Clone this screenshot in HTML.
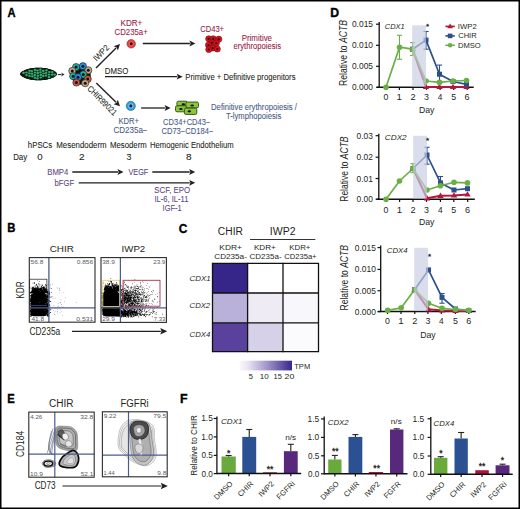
<!DOCTYPE html>
<html><head><meta charset="utf-8"><style>
html,body{margin:0;padding:0;background:#fff;}
svg{display:block;}
text{font-family:"Liberation Sans", sans-serif;}
</style></head><body>
<svg width="520" height="509" viewBox="0 0 520 509">
<rect x="0" y="0" width="520" height="509" fill="#fff"/>
<rect x="0.75" y="0.75" width="518.50" height="507.50" fill="none" stroke="#000" stroke-width="1.5"/>
<text x="7.52" y="17.00" font-size="12" fill="#000" stroke="#000" stroke-width="0.35" font-weight="bold" textLength="8.07" lengthAdjust="spacingAndGlyphs">A</text>
<text x="7.34" y="232.30" font-size="12" fill="#000" stroke="#000" stroke-width="0.35" font-weight="bold" textLength="8.17" lengthAdjust="spacingAndGlyphs">B</text>
<text x="178.71" y="232.60" font-size="12" fill="#000" stroke="#000" stroke-width="0.35" font-weight="bold" textLength="8.62" lengthAdjust="spacingAndGlyphs">C</text>
<text x="330.28" y="17.00" font-size="12" fill="#000" stroke="#000" stroke-width="0.35" font-weight="bold" textLength="8.83" lengthAdjust="spacingAndGlyphs">D</text>
<text x="7.35" y="402.90" font-size="12" fill="#000" stroke="#000" stroke-width="0.35" font-weight="bold" textLength="7.49" lengthAdjust="spacingAndGlyphs">E</text>
<text x="179.97" y="402.90" font-size="12" fill="#000" stroke="#000" stroke-width="0.35" font-weight="bold" textLength="7.59" lengthAdjust="spacingAndGlyphs">F</text>
<g>
<circle cx="21.50" cy="73.85" r="1.30" fill="#0f1d14" stroke="none" stroke-width="1"/>
<circle cx="21.50" cy="74.15" r="1.30" fill="#0f1d14" stroke="none" stroke-width="1"/>
<circle cx="22.00" cy="73.33" r="1.30" fill="#0f1d14" stroke="none" stroke-width="1"/>
<circle cx="22.00" cy="74.67" r="1.30" fill="#0f1d14" stroke="none" stroke-width="1"/>
<circle cx="22.50" cy="72.91" r="1.30" fill="#0f1d14" stroke="none" stroke-width="1"/>
<circle cx="22.50" cy="75.09" r="1.30" fill="#0f1d14" stroke="none" stroke-width="1"/>
<circle cx="23.00" cy="72.56" r="1.30" fill="#0f1d14" stroke="none" stroke-width="1"/>
<circle cx="23.00" cy="75.44" r="1.30" fill="#0f1d14" stroke="none" stroke-width="1"/>
<circle cx="23.50" cy="72.25" r="1.30" fill="#0f1d14" stroke="none" stroke-width="1"/>
<circle cx="23.50" cy="75.75" r="1.30" fill="#0f1d14" stroke="none" stroke-width="1"/>
<circle cx="24.00" cy="71.97" r="1.30" fill="#0f1d14" stroke="none" stroke-width="1"/>
<circle cx="24.00" cy="76.03" r="1.30" fill="#0f1d14" stroke="none" stroke-width="1"/>
<circle cx="24.50" cy="71.71" r="1.30" fill="#0f1d14" stroke="none" stroke-width="1"/>
<circle cx="24.50" cy="76.29" r="1.30" fill="#0f1d14" stroke="none" stroke-width="1"/>
<circle cx="25.00" cy="71.48" r="1.30" fill="#0f1d14" stroke="none" stroke-width="1"/>
<circle cx="25.00" cy="76.52" r="1.30" fill="#0f1d14" stroke="none" stroke-width="1"/>
<circle cx="25.50" cy="71.27" r="1.30" fill="#0f1d14" stroke="none" stroke-width="1"/>
<circle cx="25.50" cy="76.73" r="1.30" fill="#0f1d14" stroke="none" stroke-width="1"/>
<circle cx="26.00" cy="71.07" r="1.30" fill="#0f1d14" stroke="none" stroke-width="1"/>
<circle cx="26.00" cy="76.93" r="1.30" fill="#0f1d14" stroke="none" stroke-width="1"/>
<circle cx="26.50" cy="70.88" r="1.30" fill="#0f1d14" stroke="none" stroke-width="1"/>
<circle cx="26.50" cy="77.12" r="1.30" fill="#0f1d14" stroke="none" stroke-width="1"/>
<circle cx="27.00" cy="70.71" r="1.30" fill="#0f1d14" stroke="none" stroke-width="1"/>
<circle cx="27.00" cy="77.29" r="1.30" fill="#0f1d14" stroke="none" stroke-width="1"/>
<circle cx="27.50" cy="70.55" r="1.30" fill="#0f1d14" stroke="none" stroke-width="1"/>
<circle cx="27.50" cy="77.45" r="1.30" fill="#0f1d14" stroke="none" stroke-width="1"/>
<circle cx="28.00" cy="70.40" r="1.30" fill="#0f1d14" stroke="none" stroke-width="1"/>
<circle cx="28.00" cy="77.60" r="1.30" fill="#0f1d14" stroke="none" stroke-width="1"/>
<circle cx="28.50" cy="70.26" r="1.30" fill="#0f1d14" stroke="none" stroke-width="1"/>
<circle cx="28.50" cy="77.74" r="1.30" fill="#0f1d14" stroke="none" stroke-width="1"/>
<circle cx="29.00" cy="70.13" r="1.30" fill="#0f1d14" stroke="none" stroke-width="1"/>
<circle cx="29.00" cy="77.87" r="1.30" fill="#0f1d14" stroke="none" stroke-width="1"/>
<circle cx="29.50" cy="70.00" r="1.30" fill="#0f1d14" stroke="none" stroke-width="1"/>
<circle cx="29.50" cy="78.00" r="1.30" fill="#0f1d14" stroke="none" stroke-width="1"/>
<circle cx="30.00" cy="69.89" r="1.30" fill="#0f1d14" stroke="none" stroke-width="1"/>
<circle cx="30.00" cy="78.11" r="1.30" fill="#0f1d14" stroke="none" stroke-width="1"/>
<circle cx="30.50" cy="69.79" r="1.30" fill="#0f1d14" stroke="none" stroke-width="1"/>
<circle cx="30.50" cy="78.21" r="1.30" fill="#0f1d14" stroke="none" stroke-width="1"/>
<circle cx="31.00" cy="69.69" r="1.30" fill="#0f1d14" stroke="none" stroke-width="1"/>
<circle cx="31.00" cy="78.31" r="1.30" fill="#0f1d14" stroke="none" stroke-width="1"/>
<circle cx="31.50" cy="69.60" r="1.30" fill="#0f1d14" stroke="none" stroke-width="1"/>
<circle cx="31.50" cy="78.40" r="1.30" fill="#0f1d14" stroke="none" stroke-width="1"/>
<circle cx="32.00" cy="69.51" r="1.30" fill="#0f1d14" stroke="none" stroke-width="1"/>
<circle cx="32.00" cy="78.49" r="1.30" fill="#0f1d14" stroke="none" stroke-width="1"/>
<circle cx="32.50" cy="69.44" r="1.30" fill="#0f1d14" stroke="none" stroke-width="1"/>
<circle cx="32.50" cy="78.56" r="1.30" fill="#0f1d14" stroke="none" stroke-width="1"/>
<circle cx="33.00" cy="69.37" r="1.30" fill="#0f1d14" stroke="none" stroke-width="1"/>
<circle cx="33.00" cy="78.63" r="1.30" fill="#0f1d14" stroke="none" stroke-width="1"/>
<circle cx="33.50" cy="69.30" r="1.30" fill="#0f1d14" stroke="none" stroke-width="1"/>
<circle cx="33.50" cy="78.70" r="1.30" fill="#0f1d14" stroke="none" stroke-width="1"/>
<circle cx="34.00" cy="69.25" r="1.30" fill="#0f1d14" stroke="none" stroke-width="1"/>
<circle cx="34.00" cy="78.75" r="1.30" fill="#0f1d14" stroke="none" stroke-width="1"/>
<circle cx="34.50" cy="69.19" r="1.30" fill="#0f1d14" stroke="none" stroke-width="1"/>
<circle cx="34.50" cy="78.81" r="1.30" fill="#0f1d14" stroke="none" stroke-width="1"/>
<circle cx="35.00" cy="69.15" r="1.30" fill="#0f1d14" stroke="none" stroke-width="1"/>
<circle cx="35.00" cy="78.85" r="1.30" fill="#0f1d14" stroke="none" stroke-width="1"/>
<circle cx="35.50" cy="69.11" r="1.30" fill="#0f1d14" stroke="none" stroke-width="1"/>
<circle cx="35.50" cy="78.89" r="1.30" fill="#0f1d14" stroke="none" stroke-width="1"/>
<circle cx="36.00" cy="69.08" r="1.30" fill="#0f1d14" stroke="none" stroke-width="1"/>
<circle cx="36.00" cy="78.92" r="1.30" fill="#0f1d14" stroke="none" stroke-width="1"/>
<circle cx="36.50" cy="69.05" r="1.30" fill="#0f1d14" stroke="none" stroke-width="1"/>
<circle cx="36.50" cy="78.95" r="1.30" fill="#0f1d14" stroke="none" stroke-width="1"/>
<circle cx="37.00" cy="69.03" r="1.30" fill="#0f1d14" stroke="none" stroke-width="1"/>
<circle cx="37.00" cy="78.97" r="1.30" fill="#0f1d14" stroke="none" stroke-width="1"/>
<circle cx="37.50" cy="69.01" r="1.30" fill="#0f1d14" stroke="none" stroke-width="1"/>
<circle cx="37.50" cy="78.99" r="1.30" fill="#0f1d14" stroke="none" stroke-width="1"/>
<circle cx="38.00" cy="69.00" r="1.30" fill="#0f1d14" stroke="none" stroke-width="1"/>
<circle cx="38.00" cy="79.00" r="1.30" fill="#0f1d14" stroke="none" stroke-width="1"/>
<circle cx="38.50" cy="69.00" r="1.30" fill="#0f1d14" stroke="none" stroke-width="1"/>
<circle cx="38.50" cy="79.00" r="1.30" fill="#0f1d14" stroke="none" stroke-width="1"/>
<circle cx="39.00" cy="69.00" r="1.30" fill="#0f1d14" stroke="none" stroke-width="1"/>
<circle cx="39.00" cy="79.00" r="1.30" fill="#0f1d14" stroke="none" stroke-width="1"/>
<circle cx="39.50" cy="69.01" r="1.30" fill="#0f1d14" stroke="none" stroke-width="1"/>
<circle cx="39.50" cy="78.99" r="1.30" fill="#0f1d14" stroke="none" stroke-width="1"/>
<circle cx="40.00" cy="69.02" r="1.30" fill="#0f1d14" stroke="none" stroke-width="1"/>
<circle cx="40.00" cy="78.98" r="1.30" fill="#0f1d14" stroke="none" stroke-width="1"/>
<circle cx="40.50" cy="69.04" r="1.30" fill="#0f1d14" stroke="none" stroke-width="1"/>
<circle cx="40.50" cy="78.96" r="1.30" fill="#0f1d14" stroke="none" stroke-width="1"/>
<circle cx="41.00" cy="69.07" r="1.30" fill="#0f1d14" stroke="none" stroke-width="1"/>
<circle cx="41.00" cy="78.93" r="1.30" fill="#0f1d14" stroke="none" stroke-width="1"/>
<circle cx="41.50" cy="69.10" r="1.30" fill="#0f1d14" stroke="none" stroke-width="1"/>
<circle cx="41.50" cy="78.90" r="1.30" fill="#0f1d14" stroke="none" stroke-width="1"/>
<circle cx="42.00" cy="69.13" r="1.30" fill="#0f1d14" stroke="none" stroke-width="1"/>
<circle cx="42.00" cy="78.87" r="1.30" fill="#0f1d14" stroke="none" stroke-width="1"/>
<circle cx="42.50" cy="69.18" r="1.30" fill="#0f1d14" stroke="none" stroke-width="1"/>
<circle cx="42.50" cy="78.82" r="1.30" fill="#0f1d14" stroke="none" stroke-width="1"/>
<circle cx="43.00" cy="69.22" r="1.30" fill="#0f1d14" stroke="none" stroke-width="1"/>
<circle cx="43.00" cy="78.78" r="1.30" fill="#0f1d14" stroke="none" stroke-width="1"/>
<circle cx="43.50" cy="69.28" r="1.30" fill="#0f1d14" stroke="none" stroke-width="1"/>
<circle cx="43.50" cy="78.72" r="1.30" fill="#0f1d14" stroke="none" stroke-width="1"/>
<circle cx="44.00" cy="69.34" r="1.30" fill="#0f1d14" stroke="none" stroke-width="1"/>
<circle cx="44.00" cy="78.66" r="1.30" fill="#0f1d14" stroke="none" stroke-width="1"/>
<circle cx="44.50" cy="69.41" r="1.30" fill="#0f1d14" stroke="none" stroke-width="1"/>
<circle cx="44.50" cy="78.59" r="1.30" fill="#0f1d14" stroke="none" stroke-width="1"/>
<circle cx="45.00" cy="69.48" r="1.30" fill="#0f1d14" stroke="none" stroke-width="1"/>
<circle cx="45.00" cy="78.52" r="1.30" fill="#0f1d14" stroke="none" stroke-width="1"/>
<circle cx="45.50" cy="69.56" r="1.30" fill="#0f1d14" stroke="none" stroke-width="1"/>
<circle cx="45.50" cy="78.44" r="1.30" fill="#0f1d14" stroke="none" stroke-width="1"/>
<circle cx="46.00" cy="69.65" r="1.30" fill="#0f1d14" stroke="none" stroke-width="1"/>
<circle cx="46.00" cy="78.35" r="1.30" fill="#0f1d14" stroke="none" stroke-width="1"/>
<circle cx="46.50" cy="69.75" r="1.30" fill="#0f1d14" stroke="none" stroke-width="1"/>
<circle cx="46.50" cy="78.25" r="1.30" fill="#0f1d14" stroke="none" stroke-width="1"/>
<circle cx="47.00" cy="69.85" r="1.30" fill="#0f1d14" stroke="none" stroke-width="1"/>
<circle cx="47.00" cy="78.15" r="1.30" fill="#0f1d14" stroke="none" stroke-width="1"/>
<circle cx="47.50" cy="69.96" r="1.30" fill="#0f1d14" stroke="none" stroke-width="1"/>
<circle cx="47.50" cy="78.04" r="1.30" fill="#0f1d14" stroke="none" stroke-width="1"/>
<circle cx="48.00" cy="70.08" r="1.30" fill="#0f1d14" stroke="none" stroke-width="1"/>
<circle cx="48.00" cy="77.92" r="1.30" fill="#0f1d14" stroke="none" stroke-width="1"/>
<circle cx="48.50" cy="70.20" r="1.30" fill="#0f1d14" stroke="none" stroke-width="1"/>
<circle cx="48.50" cy="77.80" r="1.30" fill="#0f1d14" stroke="none" stroke-width="1"/>
<circle cx="49.00" cy="70.34" r="1.30" fill="#0f1d14" stroke="none" stroke-width="1"/>
<circle cx="49.00" cy="77.66" r="1.30" fill="#0f1d14" stroke="none" stroke-width="1"/>
<circle cx="49.50" cy="70.49" r="1.30" fill="#0f1d14" stroke="none" stroke-width="1"/>
<circle cx="49.50" cy="77.51" r="1.30" fill="#0f1d14" stroke="none" stroke-width="1"/>
<circle cx="50.00" cy="70.64" r="1.30" fill="#0f1d14" stroke="none" stroke-width="1"/>
<circle cx="50.00" cy="77.36" r="1.30" fill="#0f1d14" stroke="none" stroke-width="1"/>
<circle cx="50.50" cy="70.81" r="1.30" fill="#0f1d14" stroke="none" stroke-width="1"/>
<circle cx="50.50" cy="77.19" r="1.30" fill="#0f1d14" stroke="none" stroke-width="1"/>
<circle cx="51.00" cy="70.99" r="1.30" fill="#0f1d14" stroke="none" stroke-width="1"/>
<circle cx="51.00" cy="77.01" r="1.30" fill="#0f1d14" stroke="none" stroke-width="1"/>
<circle cx="51.50" cy="71.18" r="1.30" fill="#0f1d14" stroke="none" stroke-width="1"/>
<circle cx="51.50" cy="76.82" r="1.30" fill="#0f1d14" stroke="none" stroke-width="1"/>
<circle cx="52.00" cy="71.39" r="1.30" fill="#0f1d14" stroke="none" stroke-width="1"/>
<circle cx="52.00" cy="76.61" r="1.30" fill="#0f1d14" stroke="none" stroke-width="1"/>
<circle cx="52.50" cy="71.62" r="1.30" fill="#0f1d14" stroke="none" stroke-width="1"/>
<circle cx="52.50" cy="76.38" r="1.30" fill="#0f1d14" stroke="none" stroke-width="1"/>
<circle cx="53.00" cy="71.86" r="1.30" fill="#0f1d14" stroke="none" stroke-width="1"/>
<circle cx="53.00" cy="76.14" r="1.30" fill="#0f1d14" stroke="none" stroke-width="1"/>
<circle cx="53.50" cy="72.13" r="1.30" fill="#0f1d14" stroke="none" stroke-width="1"/>
<circle cx="53.50" cy="75.87" r="1.30" fill="#0f1d14" stroke="none" stroke-width="1"/>
<circle cx="54.00" cy="72.43" r="1.30" fill="#0f1d14" stroke="none" stroke-width="1"/>
<circle cx="54.00" cy="75.57" r="1.30" fill="#0f1d14" stroke="none" stroke-width="1"/>
<circle cx="54.50" cy="72.76" r="1.30" fill="#0f1d14" stroke="none" stroke-width="1"/>
<circle cx="54.50" cy="75.24" r="1.30" fill="#0f1d14" stroke="none" stroke-width="1"/>
<circle cx="55.00" cy="73.15" r="1.30" fill="#0f1d14" stroke="none" stroke-width="1"/>
<circle cx="55.00" cy="74.85" r="1.30" fill="#0f1d14" stroke="none" stroke-width="1"/>
<circle cx="55.50" cy="73.62" r="1.30" fill="#0f1d14" stroke="none" stroke-width="1"/>
<circle cx="55.50" cy="74.38" r="1.30" fill="#0f1d14" stroke="none" stroke-width="1"/>
<path d="M21,74 C24,70 30,69 35,68.2 C40,67.6 46,68 50,70 C53,71 56,72.5 56.3,74 C56,75.5 53,77.5 49,78.5 C44,80 36,80.2 31,79.3 C26,78.5 22,77 21,74 Z" fill="#0f1d14"/>
<ellipse cx="23.6" cy="72.9" rx="1.35" ry="1.1" fill="#33b070"/>
<ellipse cx="26.5" cy="72.5" rx="1.35" ry="1.1" fill="#33b070"/>
<ellipse cx="26.5" cy="75.1" rx="1.35" ry="1.1" fill="#33b070"/>
<ellipse cx="29.5" cy="70.8" rx="1.35" ry="1.1" fill="#33b070"/>
<ellipse cx="29.3" cy="73.4" rx="1.35" ry="1.1" fill="#33b070"/>
<ellipse cx="29.5" cy="76.0" rx="1.35" ry="1.1" fill="#33b070"/>
<ellipse cx="31.8" cy="71.1" rx="1.35" ry="1.1" fill="#33b070"/>
<ellipse cx="32.0" cy="73.7" rx="1.35" ry="1.1" fill="#33b070"/>
<ellipse cx="32.3" cy="76.3" rx="1.35" ry="1.1" fill="#33b070"/>
<ellipse cx="35.0" cy="69.9" rx="1.35" ry="1.1" fill="#33b070"/>
<ellipse cx="35.1" cy="72.5" rx="1.35" ry="1.1" fill="#33b070"/>
<ellipse cx="34.7" cy="75.1" rx="1.35" ry="1.1" fill="#33b070"/>
<ellipse cx="34.9" cy="77.7" rx="1.35" ry="1.1" fill="#33b070"/>
<ellipse cx="37.6" cy="70.6" rx="1.35" ry="1.1" fill="#33b070"/>
<ellipse cx="37.8" cy="73.2" rx="1.35" ry="1.1" fill="#33b070"/>
<ellipse cx="37.8" cy="75.8" rx="1.35" ry="1.1" fill="#33b070"/>
<ellipse cx="37.5" cy="78.4" rx="1.35" ry="1.1" fill="#33b070"/>
<ellipse cx="40.4" cy="69.7" rx="1.35" ry="1.1" fill="#33b070"/>
<ellipse cx="40.5" cy="72.3" rx="1.35" ry="1.1" fill="#33b070"/>
<ellipse cx="40.8" cy="74.9" rx="1.35" ry="1.1" fill="#33b070"/>
<ellipse cx="40.8" cy="77.5" rx="1.35" ry="1.1" fill="#33b070"/>
<ellipse cx="43.2" cy="70.9" rx="1.35" ry="1.1" fill="#33b070"/>
<ellipse cx="43.6" cy="73.5" rx="1.35" ry="1.1" fill="#33b070"/>
<ellipse cx="43.2" cy="76.1" rx="1.35" ry="1.1" fill="#33b070"/>
<ellipse cx="46.4" cy="70.4" rx="1.35" ry="1.1" fill="#33b070"/>
<ellipse cx="46.1" cy="73.0" rx="1.35" ry="1.1" fill="#33b070"/>
<ellipse cx="46.0" cy="75.6" rx="1.35" ry="1.1" fill="#33b070"/>
<ellipse cx="49.4" cy="72.0" rx="1.35" ry="1.1" fill="#33b070"/>
<ellipse cx="49.0" cy="74.6" rx="1.35" ry="1.1" fill="#33b070"/>
<ellipse cx="49.0" cy="77.2" rx="1.35" ry="1.1" fill="#33b070"/>
<ellipse cx="52.3" cy="72.1" rx="1.35" ry="1.1" fill="#33b070"/>
<ellipse cx="52.2" cy="74.7" rx="1.35" ry="1.1" fill="#33b070"/>
<ellipse cx="54.7" cy="74.6" rx="1.35" ry="1.1" fill="#33b070"/>
</g>
<line x1="57.80" y1="74.60" x2="61.50" y2="74.60" stroke="#231f20" stroke-width="1.0"/>
<path d="M64.50,74.60 L61.00,76.60 L62.20,74.60 L61.00,72.60 Z" fill="#231f20"/>
<circle cx="81.00" cy="75.00" r="9.80" fill="#111" stroke="none" stroke-width="1"/>
<circle cx="76.10" cy="67.10" r="3.60" fill="#19b3a6" stroke="#1a1a1a" stroke-width="0.6"/>
<circle cx="76.10" cy="67.10" r="1.50" fill="#0c1426" stroke="none" stroke-width="1"/>
<circle cx="82.90" cy="66.20" r="3.60" fill="#2a8fd8" stroke="#1a1a1a" stroke-width="0.6"/>
<circle cx="82.90" cy="66.20" r="1.50" fill="#0c1426" stroke="none" stroke-width="1"/>
<circle cx="88.30" cy="70.30" r="3.60" fill="#c9a27c" stroke="#1a1a1a" stroke-width="0.6"/>
<circle cx="88.30" cy="70.30" r="1.50" fill="#0c1426" stroke="none" stroke-width="1"/>
<circle cx="72.30" cy="70.90" r="3.60" fill="#c8a07a" stroke="#1a1a1a" stroke-width="0.6"/>
<circle cx="72.30" cy="70.90" r="1.50" fill="#0c1426" stroke="none" stroke-width="1"/>
<circle cx="73.20" cy="76.20" r="3.60" fill="#19b3a6" stroke="#1a1a1a" stroke-width="0.6"/>
<circle cx="73.20" cy="76.20" r="1.50" fill="#0c1426" stroke="none" stroke-width="1"/>
<circle cx="83.30" cy="74.40" r="3.60" fill="#1fb59a" stroke="#1a1a1a" stroke-width="0.6"/>
<circle cx="83.30" cy="74.40" r="1.50" fill="#0c1426" stroke="none" stroke-width="1"/>
<circle cx="78.00" cy="77.20" r="3.60" fill="#2a8fd8" stroke="#1a1a1a" stroke-width="0.6"/>
<circle cx="78.00" cy="77.20" r="1.50" fill="#0c1426" stroke="none" stroke-width="1"/>
<circle cx="87.70" cy="79.10" r="3.60" fill="#d2573a" stroke="#1a1a1a" stroke-width="0.6"/>
<circle cx="87.70" cy="79.10" r="1.50" fill="#0c1426" stroke="none" stroke-width="1"/>
<circle cx="76.40" cy="82.50" r="3.60" fill="#d2573a" stroke="#1a1a1a" stroke-width="0.6"/>
<circle cx="76.40" cy="82.50" r="1.50" fill="#0c1426" stroke="none" stroke-width="1"/>
<circle cx="85.20" cy="83.20" r="3.60" fill="#c9a27c" stroke="#1a1a1a" stroke-width="0.6"/>
<circle cx="85.20" cy="83.20" r="1.50" fill="#0c1426" stroke="none" stroke-width="1"/>
<circle cx="131.20" cy="43.80" r="4.30" fill="#e2433f" stroke="#7a1a1a" stroke-width="0.5"/>
<circle cx="131.20" cy="43.80" r="2.40" fill="#f06a5e" stroke="none" stroke-width="1"/>
<circle cx="131.20" cy="43.80" r="1.50" fill="#3a0808" stroke="none" stroke-width="1"/>
<circle cx="130.80" cy="105.90" r="4.60" fill="#2f9fd6" stroke="#1b4f7a" stroke-width="0.5"/>
<circle cx="130.80" cy="105.90" r="2.60" fill="#7cc6ea" stroke="none" stroke-width="1"/>
<circle cx="130.80" cy="105.90" r="1.60" fill="#16285a" stroke="none" stroke-width="1"/>
<line x1="96.00" y1="68.00" x2="116.10" y2="47.98" stroke="#231f20" stroke-width="1.35"/>
<path d="M120.00,44.10 L117.87,50.46 L116.60,47.49 L113.63,46.21 Z" fill="#231f20"/>
<line x1="96.30" y1="83.00" x2="116.07" y2="102.35" stroke="#231f20" stroke-width="1.35"/>
<path d="M120.00,106.20 L113.61,104.15 L116.57,102.84 L117.81,99.86 Z" fill="#231f20"/>
<line x1="105.00" y1="76.70" x2="177.20" y2="76.70" stroke="#231f20" stroke-width="1.3"/>
<path d="M182.70,76.70 L176.70,79.60 L177.90,76.70 L176.70,73.80 Z" fill="#231f20"/>
<line x1="142.80" y1="43.50" x2="189.90" y2="43.50" stroke="#231f20" stroke-width="1.3"/>
<path d="M195.40,43.50 L189.40,46.40 L190.60,43.50 L189.40,40.60 Z" fill="#231f20"/>
<line x1="141.10" y1="108.00" x2="165.10" y2="108.00" stroke="#231f20" stroke-width="1.3"/>
<path d="M170.60,108.00 L164.60,110.90 L165.80,108.00 L164.60,105.10 Z" fill="#231f20"/>
<circle cx="208.70" cy="38.80" r="3.10" fill="#d8121e" stroke="#600808" stroke-width="0.5"/>
<circle cx="213.20" cy="38.80" r="3.10" fill="#d8121e" stroke="#600808" stroke-width="0.5"/>
<circle cx="218.80" cy="39.20" r="3.10" fill="#d8121e" stroke="#600808" stroke-width="0.5"/>
<circle cx="212.00" cy="42.70" r="3.10" fill="#d8121e" stroke="#600808" stroke-width="0.5"/>
<circle cx="216.30" cy="43.20" r="3.10" fill="#d8121e" stroke="#600808" stroke-width="0.5"/>
<circle cx="208.50" cy="45.00" r="3.10" fill="#d8121e" stroke="#600808" stroke-width="0.5"/>
<circle cx="212.70" cy="48.00" r="3.10" fill="#d8121e" stroke="#600808" stroke-width="0.5"/>
<circle cx="217.30" cy="49.00" r="3.10" fill="#d8121e" stroke="#600808" stroke-width="0.5"/>
<circle cx="208.80" cy="49.50" r="3.10" fill="#d8121e" stroke="#600808" stroke-width="0.5"/>
<circle cx="208.70" cy="38.80" r="1.10" fill="#3a0606" stroke="none" stroke-width="1"/>
<circle cx="213.20" cy="38.80" r="1.10" fill="#3a0606" stroke="none" stroke-width="1"/>
<circle cx="218.80" cy="39.20" r="1.10" fill="#3a0606" stroke="none" stroke-width="1"/>
<circle cx="212.00" cy="42.70" r="1.10" fill="#3a0606" stroke="none" stroke-width="1"/>
<circle cx="216.30" cy="43.20" r="1.10" fill="#3a0606" stroke="none" stroke-width="1"/>
<circle cx="208.50" cy="45.00" r="1.10" fill="#3a0606" stroke="none" stroke-width="1"/>
<circle cx="212.70" cy="48.00" r="1.10" fill="#3a0606" stroke="none" stroke-width="1"/>
<circle cx="217.30" cy="49.00" r="1.10" fill="#3a0606" stroke="none" stroke-width="1"/>
<circle cx="208.80" cy="49.50" r="1.10" fill="#3a0606" stroke="none" stroke-width="1"/>
<rect x="176.9" y="101.2" width="10.4" height="4.9" rx="1.5" fill="#8cc63f" stroke="#2f4a12" stroke-width="0.9"/>
<ellipse cx="183.3" cy="104.3" rx="1.8" ry="1.1" fill="#111"/>
<rect x="185.8" y="102.0" width="12.7" height="5.8" rx="1.5" fill="#8cc63f" stroke="#2f4a12" stroke-width="0.9"/>
<ellipse cx="192.2" cy="105.5" rx="1.8" ry="1.1" fill="#111"/>
<rect x="175.5" y="105.8" width="10.9" height="6.0" rx="1.5" fill="#8cc63f" stroke="#2f4a12" stroke-width="0.9"/>
<ellipse cx="180.9" cy="109" rx="1.8" ry="1.1" fill="#111"/>
<rect x="184.4" y="108.1" width="12.4" height="6.3" rx="1.5" fill="#8cc63f" stroke="#2f4a12" stroke-width="0.9"/>
<ellipse cx="189.3" cy="111.3" rx="1.8" ry="1.1" fill="#111"/>
<text x="120.54" y="25.50" font-size="8.5" fill="#982048" stroke="#982048" stroke-width="0.08" textLength="21.76" lengthAdjust="spacingAndGlyphs">KDR+</text>
<text x="114.61" y="34.70" font-size="8.5" fill="#982048" stroke="#982048" stroke-width="0.08" textLength="33.08" lengthAdjust="spacingAndGlyphs">CD235a+</text>
<text x="200.21" y="31.50" font-size="8.5" fill="#982048" stroke="#982048" stroke-width="0.08" textLength="23.86" lengthAdjust="spacingAndGlyphs">CD43+</text>
<text x="241.65" y="40.80" font-size="8.5" fill="#982048" stroke="#982048" stroke-width="0.08" textLength="30.40" lengthAdjust="spacingAndGlyphs">Primitive</text>
<text x="233.48" y="48.80" font-size="8.5" fill="#982048" stroke="#982048" stroke-width="0.08" textLength="47.60" lengthAdjust="spacingAndGlyphs">erythropoiesis</text>
<text x="104.76" y="73.80" font-size="8.5" fill="#231f20" stroke="#231f20" stroke-width="0.08" textLength="23.52" lengthAdjust="spacingAndGlyphs">DMSO</text>
<text x="185.27" y="80.20" font-size="8.5" fill="#231f20" stroke="#231f20" stroke-width="0.08" textLength="110.21" lengthAdjust="spacingAndGlyphs">Primitive + Definitive progenitors</text>
<text x="118.38" y="124.40" font-size="8.5" fill="#485a86" stroke="#485a86" stroke-width="0.08" textLength="20.50" lengthAdjust="spacingAndGlyphs">KDR+</text>
<text x="113.39" y="133.40" font-size="8.5" fill="#485a86" stroke="#485a86" stroke-width="0.08" textLength="34.20" lengthAdjust="spacingAndGlyphs">CD235a−</text>
<text x="163.12" y="124.80" font-size="8.5" fill="#485a86" stroke="#485a86" stroke-width="0.08" textLength="47.15" lengthAdjust="spacingAndGlyphs">CD34+CD43−</text>
<text x="161.41" y="133.50" font-size="8.5" fill="#485a86" stroke="#485a86" stroke-width="0.08" textLength="51.96" lengthAdjust="spacingAndGlyphs">CD73−CD184−</text>
<text x="211.07" y="110.00" font-size="8.5" fill="#485a86" stroke="#485a86" stroke-width="0.08" textLength="85.83" lengthAdjust="spacingAndGlyphs">Definitive erythropoiesis /</text>
<text x="226.03" y="118.50" font-size="8.5" fill="#485a86" stroke="#485a86" stroke-width="0.08" textLength="55.24" lengthAdjust="spacingAndGlyphs">T-lymphopoiesis</text>
<text x="103.10" y="55.00" font-size="8.5" fill="#231f20" stroke="#231f20" stroke-width="0.08" text-anchor="middle" textLength="19.00" lengthAdjust="spacingAndGlyphs" transform="rotate(-45 103.10 55.00)">IWP2</text>
<text x="100.10" y="102.60" font-size="8.5" fill="#231f20" stroke="#231f20" stroke-width="0.08" text-anchor="middle" textLength="38.00" lengthAdjust="spacingAndGlyphs" transform="rotate(45 100.10 102.60)">CHIR99021</text>
<text x="27.86" y="147.70" font-size="8.5" fill="#231f20" stroke="#231f20" stroke-width="0.08" textLength="24.32" lengthAdjust="spacingAndGlyphs">hPSCs</text>
<text x="56.25" y="148.00" font-size="8.5" fill="#231f20" stroke="#231f20" stroke-width="0.08" textLength="50.37" lengthAdjust="spacingAndGlyphs">Mesendoderm</text>
<text x="109.96" y="148.00" font-size="8.5" fill="#231f20" stroke="#231f20" stroke-width="0.08" textLength="36.75" lengthAdjust="spacingAndGlyphs">Mesoderm</text>
<text x="149.97" y="148.10" font-size="8.5" fill="#231f20" stroke="#231f20" stroke-width="0.08" textLength="83.64" lengthAdjust="spacingAndGlyphs">Hemogenic Endothelium</text>
<text x="13.15" y="159.70" font-size="8.5" fill="#231f20" stroke="#231f20" stroke-width="0.08" textLength="14.06" lengthAdjust="spacingAndGlyphs">Day</text>
<text x="37.22" y="159.50" font-size="8.5" fill="#231f20" stroke="#231f20" stroke-width="0.08" textLength="5.35" lengthAdjust="spacingAndGlyphs">0</text>
<text x="79.09" y="159.50" font-size="8.5" fill="#231f20" stroke="#231f20" stroke-width="0.08" textLength="5.62" lengthAdjust="spacingAndGlyphs">2</text>
<text x="126.46" y="159.50" font-size="8.5" fill="#231f20" stroke="#231f20" stroke-width="0.08" textLength="4.93" lengthAdjust="spacingAndGlyphs">3</text>
<text x="186.06" y="159.50" font-size="8.5" fill="#231f20" stroke="#231f20" stroke-width="0.08" textLength="5.57" lengthAdjust="spacingAndGlyphs">8</text>
<text x="47.27" y="174.50" font-size="8.5" fill="#5c4682" stroke="#5c4682" stroke-width="0.08" textLength="21.06" lengthAdjust="spacingAndGlyphs">BMP4</text>
<text x="128.47" y="174.50" font-size="8.5" fill="#5c4682" stroke="#5c4682" stroke-width="0.08" textLength="19.82" lengthAdjust="spacingAndGlyphs">VEGF</text>
<text x="54.51" y="185.50" font-size="8.5" fill="#5c4682" stroke="#5c4682" stroke-width="0.08" textLength="19.60" lengthAdjust="spacingAndGlyphs">bFGF</text>
<text x="154.25" y="192.50" font-size="8.5" fill="#5c4682" stroke="#5c4682" stroke-width="0.08" textLength="35.92" lengthAdjust="spacingAndGlyphs">SCF, EPO</text>
<text x="154.51" y="201.70" font-size="8.5" fill="#5c4682" stroke="#5c4682" stroke-width="0.08" textLength="33.95" lengthAdjust="spacingAndGlyphs">IL-6, IL-11</text>
<text x="162.62" y="210.70" font-size="8.5" fill="#5c4682" stroke="#5c4682" stroke-width="0.08" textLength="18.95" lengthAdjust="spacingAndGlyphs">IGF-1</text>
<line x1="72.30" y1="172.00" x2="118.00" y2="172.00" stroke="#231f20" stroke-width="1.3"/>
<path d="M123.50,172.00 L117.50,174.90 L118.70,172.00 L117.50,169.10 Z" fill="#231f20"/>
<line x1="152.30" y1="172.00" x2="189.70" y2="172.00" stroke="#231f20" stroke-width="1.3"/>
<path d="M195.20,172.00 L189.20,174.90 L190.40,172.00 L189.20,169.10 Z" fill="#231f20"/>
<line x1="78.70" y1="182.80" x2="189.70" y2="182.80" stroke="#231f20" stroke-width="1.3"/>
<path d="M195.20,182.80 L189.20,185.70 L190.40,182.80 L189.20,179.90 Z" fill="#231f20"/>
<rect x="30.60" y="294.00" width="16.60" height="22.20" fill="#000" stroke="none" stroke-width="1" rx="3.5"/>
<ellipse cx="39" cy="296" rx="7.6" ry="4.5" fill="#000"/>
<path d="M39.9 289.5h0.8v0.8h-0.8zM40.3 291.0h0.8v0.8h-0.8zM39.2 288.9h0.8v0.8h-0.8zM36.1 288.6h0.8v0.8h-0.8zM43.6 292.2h0.8v0.8h-0.8zM31.1 315.1h0.8v0.8h-0.8zM47.1 290.9h0.8v0.8h-0.8zM32.4 291.3h0.8v0.8h-0.8zM35.1 289.2h0.8v0.8h-0.8zM44.1 291.9h0.8v0.8h-0.8zM41.1 288.1h0.8v0.8h-0.8zM35.7 292.5h0.8v0.8h-0.8zM34.9 292.3h0.8v0.8h-0.8zM32.6 292.2h0.8v0.8h-0.8zM47.9 300.4h0.8v0.8h-0.8zM31.5 295.8h0.8v0.8h-0.8zM31.5 302.5h0.8v0.8h-0.8zM31.1 306.6h0.8v0.8h-0.8zM46.8 297.4h0.8v0.8h-0.8zM36.5 287.6h0.8v0.8h-0.8zM35.2 291.4h0.8v0.8h-0.8zM32.4 292.0h0.8v0.8h-0.8zM38.2 290.7h0.8v0.8h-0.8zM42.5 289.6h0.8v0.8h-0.8zM37.8 289.3h0.8v0.8h-0.8zM35.5 287.2h0.8v0.8h-0.8zM44.8 291.5h0.8v0.8h-0.8zM37.4 289.9h0.8v0.8h-0.8zM46.3 289.1h0.8v0.8h-0.8zM35.4 292.1h0.8v0.8h-0.8zM32.6 289.8h0.8v0.8h-0.8zM40.2 292.3h0.8v0.8h-0.8zM38.3 288.4h0.8v0.8h-0.8zM33.8 292.1h0.8v0.8h-0.8zM31.1 295.3h0.8v0.8h-0.8zM47.5 314.5h0.8v0.8h-0.8zM45.8 289.5h0.8v0.8h-0.8zM33.1 289.7h0.8v0.8h-0.8zM45.9 292.2h0.8v0.8h-0.8zM43.9 287.8h0.8v0.8h-0.8zM35.9 290.3h0.8v0.8h-0.8zM34.9 288.2h0.8v0.8h-0.8zM44.3 290.7h0.8v0.8h-0.8zM30.8 295.7h0.8v0.8h-0.8zM35.5 291.5h0.8v0.8h-0.8zM37.0 292.1h0.8v0.8h-0.8zM33.5 288.4h0.8v0.8h-0.8zM47.2 291.4h0.8v0.8h-0.8zM45.2 291.7h0.8v0.8h-0.8zM46.8 306.7h0.8v0.8h-0.8zM42.5 292.4h0.8v0.8h-0.8zM46.5 289.1h0.8v0.8h-0.8zM47.3 313.5h0.8v0.8h-0.8zM47.2 313.8h0.8v0.8h-0.8zM41.8 287.4h0.8v0.8h-0.8zM30.5 310.7h0.8v0.8h-0.8zM30.4 305.1h0.8v0.8h-0.8zM47.9 306.0h0.8v0.8h-0.8zM41.1 289.8h0.8v0.8h-0.8zM48.0 305.3h0.8v0.8h-0.8zM44.1 288.2h0.8v0.8h-0.8zM40.5 290.0h0.8v0.8h-0.8zM35.0 291.4h0.8v0.8h-0.8zM48.1 314.0h0.8v0.8h-0.8zM31.7 291.1h0.8v0.8h-0.8zM34.0 288.2h0.8v0.8h-0.8zM30.7 313.2h0.8v0.8h-0.8zM41.5 289.8h0.8v0.8h-0.8zM38.0 290.2h0.8v0.8h-0.8zM36.2 290.2h0.8v0.8h-0.8zM47.7 312.1h0.8v0.8h-0.8zM47.6 294.8h0.8v0.8h-0.8zM35.6 291.8h0.8v0.8h-0.8zM37.7 290.0h0.8v0.8h-0.8zM44.1 290.0h0.8v0.8h-0.8zM31.0 291.3h0.8v0.8h-0.8zM31.3 291.6h0.8v0.8h-0.8zM47.6 310.7h0.8v0.8h-0.8zM33.5 291.4h0.8v0.8h-0.8zM31.9 291.4h0.8v0.8h-0.8zM32.2 290.6h0.8v0.8h-0.8zM48.4 307.2h0.8v0.8h-0.8zM47.2 314.9h0.8v0.8h-0.8zM47.0 295.1h0.8v0.8h-0.8zM38.6 289.3h0.8v0.8h-0.8zM47.0 299.3h0.8v0.8h-0.8zM47.5 303.8h0.8v0.8h-0.8zM46.6 310.7h0.8v0.8h-0.8zM30.1 292.7h0.8v0.8h-0.8zM31.4 302.1h0.8v0.8h-0.8zM47.2 313.7h0.8v0.8h-0.8zM40.0 288.6h0.8v0.8h-0.8zM47.1 311.4h0.8v0.8h-0.8zM48.7 308.8h0.8v0.8h-0.8zM45.0 284.3h0.8v0.8h-0.8zM43.4 291.5h0.8v0.8h-0.8zM45.1 290.8h0.8v0.8h-0.8zM38.1 290.3h0.8v0.8h-0.8zM43.0 291.8h0.8v0.8h-0.8zM46.5 292.1h0.8v0.8h-0.8zM47.1 310.6h0.8v0.8h-0.8zM33.7 290.1h0.8v0.8h-0.8zM42.4 290.0h0.8v0.8h-0.8zM30.7 303.9h0.8v0.8h-0.8zM42.4 291.4h0.8v0.8h-0.8zM49.2 304.8h0.8v0.8h-0.8zM37.2 291.7h0.8v0.8h-0.8zM47.3 312.2h0.8v0.8h-0.8zM30.9 303.9h0.8v0.8h-0.8zM34.5 289.0h0.8v0.8h-0.8zM46.9 291.2h0.8v0.8h-0.8zM30.1 310.9h0.8v0.8h-0.8zM38.9 292.2h0.8v0.8h-0.8zM48.1 301.1h0.8v0.8h-0.8zM30.8 314.0h0.8v0.8h-0.8zM38.6 290.3h0.8v0.8h-0.8zM47.6 313.5h0.8v0.8h-0.8zM36.3 291.0h0.8v0.8h-0.8zM47.4 296.3h0.8v0.8h-0.8zM46.6 298.7h0.8v0.8h-0.8zM40.8 288.7h0.8v0.8h-0.8zM39.2 289.5h0.8v0.8h-0.8zM34.5 289.3h0.8v0.8h-0.8zM37.7 291.9h0.8v0.8h-0.8zM33.9 291.3h0.8v0.8h-0.8zM48.4 304.0h0.8v0.8h-0.8zM48.3 311.2h0.8v0.8h-0.8zM31.0 314.0h0.8v0.8h-0.8zM46.5 290.1h0.8v0.8h-0.8zM30.8 309.0h0.8v0.8h-0.8zM33.0 290.8h0.8v0.8h-0.8zM48.7 293.7h0.8v0.8h-0.8zM41.8 290.0h0.8v0.8h-0.8zM34.5 289.8h0.8v0.8h-0.8zM42.9 287.9h0.8v0.8h-0.8zM32.6 292.4h0.8v0.8h-0.8zM32.1 289.1h0.8v0.8h-0.8zM33.7 291.3h0.8v0.8h-0.8zM34.6 287.6h0.8v0.8h-0.8zM45.8 287.5h0.8v0.8h-0.8zM38.5 291.3h0.8v0.8h-0.8zM38.0 292.1h0.8v0.8h-0.8zM46.6 312.0h0.8v0.8h-0.8zM38.3 292.3h0.8v0.8h-0.8zM34.0 289.4h0.8v0.8h-0.8zM31.7 288.3h0.8v0.8h-0.8zM48.1 312.4h0.8v0.8h-0.8zM48.1 303.4h0.8v0.8h-0.8zM30.4 311.0h0.8v0.8h-0.8zM45.2 292.3h0.8v0.8h-0.8zM48.9 300.8h0.8v0.8h-0.8zM29.9 310.1h0.8v0.8h-0.8zM48.0 300.8h0.8v0.8h-0.8zM47.7 302.5h0.8v0.8h-0.8zM36.8 291.3h0.8v0.8h-0.8zM47.2 314.6h0.8v0.8h-0.8zM47.2 299.1h0.8v0.8h-0.8zM48.1 300.4h0.8v0.8h-0.8zM30.8 306.9h0.8v0.8h-0.8zM46.8 291.1h0.8v0.8h-0.8zM50.4 309.3h0.8v0.8h-0.8zM37.5 290.6h0.8v0.8h-0.8zM33.0 291.9h0.8v0.8h-0.8zM45.1 289.1h0.8v0.8h-0.8zM31.0 305.0h0.8v0.8h-0.8zM42.9 288.3h0.8v0.8h-0.8zM45.5 290.7h0.8v0.8h-0.8zM38.9 289.6h0.8v0.8h-0.8zM49.6 301.2h0.8v0.8h-0.8zM40.5 289.9h0.8v0.8h-0.8zM35.8 290.3h0.8v0.8h-0.8zM42.2 289.3h0.8v0.8h-0.8zM31.7 292.5h0.8v0.8h-0.8zM42.8 291.6h0.8v0.8h-0.8zM45.0 292.5h0.8v0.8h-0.8zM31.1 314.6h0.8v0.8h-0.8zM45.1 289.4h0.8v0.8h-0.8zM30.8 296.7h0.8v0.8h-0.8zM45.6 291.9h0.8v0.8h-0.8zM29.9 311.3h0.8v0.8h-0.8zM48.0 302.1h0.8v0.8h-0.8zM32.3 289.7h0.8v0.8h-0.8zM33.4 288.3h0.8v0.8h-0.8zM35.4 290.9h0.8v0.8h-0.8zM37.8 291.9h0.8v0.8h-0.8zM46.6 313.3h0.8v0.8h-0.8zM47.2 306.4h0.8v0.8h-0.8zM35.6 291.0h0.8v0.8h-0.8zM41.0 288.9h0.8v0.8h-0.8zM46.9 315.5h0.8v0.8h-0.8zM30.5 312.9h0.8v0.8h-0.8zM32.4 292.1h0.8v0.8h-0.8zM48.0 293.1h0.8v0.8h-0.8zM32.6 288.6h0.8v0.8h-0.8zM41.0 290.2h0.8v0.8h-0.8zM38.7 291.8h0.8v0.8h-0.8zM47.7 311.9h0.8v0.8h-0.8zM33.3 291.0h0.8v0.8h-0.8zM48.3 295.9h0.8v0.8h-0.8zM35.4 291.4h0.8v0.8h-0.8zM47.7 315.7h0.8v0.8h-0.8zM39.7 292.3h0.8v0.8h-0.8zM37.0 285.7h0.8v0.8h-0.8zM44.6 291.4h0.8v0.8h-0.8zM38.8 291.9h0.8v0.8h-0.8zM47.2 292.4h0.8v0.8h-0.8zM41.4 287.6h0.8v0.8h-0.8zM36.1 291.8h0.8v0.8h-0.8zM33.6 287.9h0.8v0.8h-0.8zM42.4 291.5h0.8v0.8h-0.8zM47.0 305.0h0.8v0.8h-0.8zM47.6 298.3h0.8v0.8h-0.8zM37.5 286.7h0.8v0.8h-0.8zM36.9 290.0h0.8v0.8h-0.8zM36.9 290.1h0.8v0.8h-0.8zM40.0 290.7h0.8v0.8h-0.8zM49.1 304.9h0.8v0.8h-0.8zM42.9 291.1h0.8v0.8h-0.8zM31.4 303.6h0.8v0.8h-0.8zM40.0 291.9h0.8v0.8h-0.8zM30.0 292.1h0.8v0.8h-0.8zM43.3 288.1h0.8v0.8h-0.8zM32.7 292.0h0.8v0.8h-0.8zM41.0 286.1h0.8v0.8h-0.8zM42.7 291.2h0.8v0.8h-0.8zM43.0 290.7h0.8v0.8h-0.8zM43.0 290.4h0.8v0.8h-0.8zM30.7 307.6h0.8v0.8h-0.8zM39.6 291.6h0.8v0.8h-0.8zM47.9 311.1h0.8v0.8h-0.8zM48.9 313.2h0.8v0.8h-0.8zM30.4 308.6h0.8v0.8h-0.8zM47.8 301.3h0.8v0.8h-0.8zM33.7 292.0h0.8v0.8h-0.8zM34.0 283.3h0.8v0.8h-0.8zM37.9 290.4h0.8v0.8h-0.8zM36.1 284.8h0.8v0.8h-0.8zM41.2 292.2h0.8v0.8h-0.8zM38.4 290.6h0.8v0.8h-0.8zM45.1 291.1h0.8v0.8h-0.8zM34.8 292.2h0.8v0.8h-0.8zM42.3 290.7h0.8v0.8h-0.8zM35.7 291.3h0.8v0.8h-0.8zM42.9 291.1h0.8v0.8h-0.8zM48.1 302.7h0.8v0.8h-0.8zM44.8 290.1h0.8v0.8h-0.8zM45.9 291.1h0.8v0.8h-0.8zM34.8 285.6h0.8v0.8h-0.8zM47.5 300.3h0.8v0.8h-0.8zM39.2 291.1h0.8v0.8h-0.8zM50.7 296.6h0.8v0.8h-0.8zM38.6 288.8h0.8v0.8h-0.8zM48.3 306.0h0.8v0.8h-0.8zM33.9 291.5h0.8v0.8h-0.8zM30.5 303.7h0.8v0.8h-0.8zM47.6 304.1h0.8v0.8h-0.8zM43.1 292.4h0.8v0.8h-0.8zM43.8 289.3h0.8v0.8h-0.8zM35.5 287.9h0.8v0.8h-0.8zM47.8 302.5h0.8v0.8h-0.8zM30.6 305.5h0.8v0.8h-0.8zM30.7 301.1h0.8v0.8h-0.8zM47.0 303.9h0.8v0.8h-0.8zM44.0 288.9h0.8v0.8h-0.8zM36.2 290.2h0.8v0.8h-0.8zM42.2 291.3h0.8v0.8h-0.8zM41.8 290.1h0.8v0.8h-0.8zM46.0 290.6h0.8v0.8h-0.8zM46.6 300.1h0.8v0.8h-0.8zM46.7 296.6h0.8v0.8h-0.8zM38.4 283.2h0.8v0.8h-0.8zM46.8 295.8h0.8v0.8h-0.8zM46.8 304.3h0.8v0.8h-0.8zM36.6 289.7h0.8v0.8h-0.8zM41.5 292.4h0.8v0.8h-0.8zM47.4 298.9h0.8v0.8h-0.8zM47.4 292.9h0.8v0.8h-0.8zM32.9 290.4h0.8v0.8h-0.8zM37.5 288.3h0.8v0.8h-0.8zM47.0 296.3h0.8v0.8h-0.8zM33.4 291.8h0.8v0.8h-0.8zM32.6 289.7h0.8v0.8h-0.8zM41.2 291.0h0.8v0.8h-0.8zM47.1 299.0h0.8v0.8h-0.8zM31.7 289.8h0.8v0.8h-0.8zM42.0 287.2h0.8v0.8h-0.8zM46.8 306.0h0.8v0.8h-0.8zM36.5 290.1h0.8v0.8h-0.8zM37.2 288.9h0.8v0.8h-0.8zM43.3 290.6h0.8v0.8h-0.8zM43.0 288.8h0.8v0.8h-0.8zM30.3 303.3h0.8v0.8h-0.8zM42.2 291.7h0.8v0.8h-0.8zM45.7 292.0h0.8v0.8h-0.8zM46.7 296.7h0.8v0.8h-0.8zM42.0 291.3h0.8v0.8h-0.8zM45.4 290.3h0.8v0.8h-0.8zM46.1 289.9h0.8v0.8h-0.8zM45.1 288.8h0.8v0.8h-0.8zM35.5 291.5h0.8v0.8h-0.8zM43.9 292.2h0.8v0.8h-0.8zM45.0 292.3h0.8v0.8h-0.8zM48.3 295.2h0.8v0.8h-0.8zM32.6 290.6h0.8v0.8h-0.8zM31.3 314.5h0.8v0.8h-0.8zM47.2 309.3h0.8v0.8h-0.8zM40.4 288.3h0.8v0.8h-0.8zM47.4 302.4h0.8v0.8h-0.8zM37.3 292.3h0.8v0.8h-0.8zM34.1 290.2h0.8v0.8h-0.8zM36.5 292.2h0.8v0.8h-0.8zM48.5 294.2h0.8v0.8h-0.8zM31.0 305.8h0.8v0.8h-0.8zM37.7 289.2h0.8v0.8h-0.8zM48.0 309.7h0.8v0.8h-0.8zM46.4 289.4h0.8v0.8h-0.8zM38.0 287.5h0.8v0.8h-0.8zM45.1 288.9h0.8v0.8h-0.8zM45.1 291.9h0.8v0.8h-0.8zM32.3 291.5h0.8v0.8h-0.8zM49.5 305.7h0.8v0.8h-0.8zM47.1 292.3h0.8v0.8h-0.8zM38.2 288.7h0.8v0.8h-0.8zM37.5 288.1h0.8v0.8h-0.8zM35.1 291.0h0.8v0.8h-0.8zM37.4 292.4h0.8v0.8h-0.8zM31.0 315.1h0.8v0.8h-0.8zM47.5 311.0h0.8v0.8h-0.8zM42.7 290.2h0.8v0.8h-0.8zM45.1 288.2h0.8v0.8h-0.8zM39.6 289.4h0.8v0.8h-0.8zM30.5 298.1h0.8v0.8h-0.8zM32.4 292.5h0.8v0.8h-0.8zM30.9 299.6h0.8v0.8h-0.8zM32.2 289.7h0.8v0.8h-0.8zM45.0 291.2h0.8v0.8h-0.8zM30.0 315.4h0.8v0.8h-0.8zM34.6 290.6h0.8v0.8h-0.8zM47.5 294.9h0.8v0.8h-0.8zM30.2 315.9h0.8v0.8h-0.8zM41.0 290.3h0.8v0.8h-0.8zM33.1 286.7h0.8v0.8h-0.8zM47.7 312.7h0.8v0.8h-0.8zM49.3 293.9h0.8v0.8h-0.8zM47.9 292.5h0.8v0.8h-0.8zM36.1 291.3h0.8v0.8h-0.8zM46.8 296.5h0.8v0.8h-0.8zM47.3 310.7h0.8v0.8h-0.8zM41.4 289.5h0.8v0.8h-0.8zM36.0 289.8h0.8v0.8h-0.8zM30.9 306.8h0.8v0.8h-0.8zM46.2 290.4h0.8v0.8h-0.8zM39.4 291.6h0.8v0.8h-0.8zM35.8 292.3h0.8v0.8h-0.8zM43.5 290.4h0.8v0.8h-0.8zM47.1 296.8h0.8v0.8h-0.8zM39.7 290.0h0.8v0.8h-0.8zM42.8 287.3h0.8v0.8h-0.8zM34.2 287.9h0.8v0.8h-0.8zM41.2 289.7h0.8v0.8h-0.8zM48.1 303.7h0.8v0.8h-0.8zM44.2 291.0h0.8v0.8h-0.8zM29.9 294.9h0.8v0.8h-0.8zM47.5 296.5h0.8v0.8h-0.8zM43.1 289.0h0.8v0.8h-0.8zM46.8 303.0h0.8v0.8h-0.8zM40.2 290.4h0.8v0.8h-0.8zM32.0 288.6h0.8v0.8h-0.8zM44.6 289.8h0.8v0.8h-0.8zM33.8 289.0h0.8v0.8h-0.8zM38.1 292.1h0.8v0.8h-0.8zM43.5 286.6h0.8v0.8h-0.8zM39.6 289.6h0.8v0.8h-0.8zM46.6 298.4h0.8v0.8h-0.8zM36.2 290.8h0.8v0.8h-0.8zM47.6 305.5h0.8v0.8h-0.8zM43.8 292.1h0.8v0.8h-0.8zM35.3 290.0h0.8v0.8h-0.8zM48.3 310.6h0.8v0.8h-0.8zM37.7 291.1h0.8v0.8h-0.8zM30.8 291.6h0.8v0.8h-0.8zM42.9 290.8h0.8v0.8h-0.8zM42.7 292.4h0.8v0.8h-0.8zM35.1 291.2h0.8v0.8h-0.8zM36.0 291.4h0.8v0.8h-0.8zM32.6 282.7h0.8v0.8h-0.8zM47.5 309.2h0.8v0.8h-0.8zM35.3 290.4h0.8v0.8h-0.8zM45.5 291.8h0.8v0.8h-0.8zM36.6 288.4h0.8v0.8h-0.8zM37.5 292.0h0.8v0.8h-0.8zM47.7 308.2h0.8v0.8h-0.8zM31.0 305.6h0.8v0.8h-0.8zM30.1 312.0h0.8v0.8h-0.8zM43.2 291.8h0.8v0.8h-0.8zM36.7 291.0h0.8v0.8h-0.8zM34.6 289.0h0.8v0.8h-0.8zM38.5 291.3h0.8v0.8h-0.8zM30.1 307.8h0.8v0.8h-0.8zM31.1 292.4h0.8v0.8h-0.8zM47.8 299.8h0.8v0.8h-0.8zM31.8 291.5h0.8v0.8h-0.8zM45.4 290.4h0.8v0.8h-0.8zM46.7 294.4h0.8v0.8h-0.8zM30.2 299.7h0.8v0.8h-0.8zM47.0 291.0h0.8v0.8h-0.8zM37.3 286.1h0.8v0.8h-0.8zM44.7 290.2h0.8v0.8h-0.8zM32.3 287.9h0.8v0.8h-0.8zM35.1 290.8h0.8v0.8h-0.8zM32.0 292.1h0.8v0.8h-0.8zM37.9 290.9h0.8v0.8h-0.8zM46.7 297.1h0.8v0.8h-0.8zM46.9 295.7h0.8v0.8h-0.8zM42.2 291.0h0.8v0.8h-0.8zM37.3 291.1h0.8v0.8h-0.8zM36.7 290.9h0.8v0.8h-0.8zM32.1 288.3h0.8v0.8h-0.8zM43.6 291.9h0.8v0.8h-0.8zM30.9 313.9h0.8v0.8h-0.8zM41.8 288.2h0.8v0.8h-0.8zM49.2 296.5h0.8v0.8h-0.8zM47.3 292.8h0.8v0.8h-0.8zM37.4 289.8h0.8v0.8h-0.8zM39.0 291.4h0.8v0.8h-0.8zM33.9 289.7h0.8v0.8h-0.8zM41.5 290.5h0.8v0.8h-0.8zM32.9 290.8h0.8v0.8h-0.8zM40.2 289.9h0.8v0.8h-0.8zM48.6 291.1h0.8v0.8h-0.8zM37.0 291.0h0.8v0.8h-0.8zM37.6 289.2h0.8v0.8h-0.8zM38.5 291.3h0.8v0.8h-0.8zM35.3 289.8h0.8v0.8h-0.8zM31.3 304.9h0.8v0.8h-0.8zM41.5 291.2h0.8v0.8h-0.8zM48.0 314.8h0.8v0.8h-0.8zM40.1 287.7h0.8v0.8h-0.8zM47.4 306.3h0.8v0.8h-0.8zM37.7 291.6h0.8v0.8h-0.8zM30.8 303.4h0.8v0.8h-0.8zM36.9 292.1h0.8v0.8h-0.8zM31.0 296.3h0.8v0.8h-0.8zM47.2 296.5h0.8v0.8h-0.8zM39.7 290.8h0.8v0.8h-0.8zM41.3 291.1h0.8v0.8h-0.8zM40.9 287.2h0.8v0.8h-0.8zM30.5 299.0h0.8v0.8h-0.8zM44.8 290.7h0.8v0.8h-0.8zM48.5 308.0h0.8v0.8h-0.8zM31.1 306.4h0.8v0.8h-0.8zM40.0 290.9h0.8v0.8h-0.8zM35.8 292.5h0.8v0.8h-0.8zM35.2 288.8h0.8v0.8h-0.8zM34.2 290.9h0.8v0.8h-0.8zM32.5 292.4h0.8v0.8h-0.8zM42.1 290.0h0.8v0.8h-0.8zM47.5 302.8h0.8v0.8h-0.8zM44.5 291.8h0.8v0.8h-0.8zM39.1 291.8h0.8v0.8h-0.8zM48.2 296.9h0.8v0.8h-0.8zM47.9 298.8h0.8v0.8h-0.8zM42.9 289.4h0.8v0.8h-0.8zM37.8 287.8h0.8v0.8h-0.8zM48.4 310.9h0.8v0.8h-0.8zM37.2 288.6h0.8v0.8h-0.8zM46.6 290.8h0.8v0.8h-0.8zM45.6 290.6h0.8v0.8h-0.8zM30.1 301.2h0.8v0.8h-0.8zM48.1 300.6h0.8v0.8h-0.8zM31.1 308.7h0.8v0.8h-0.8zM32.1 292.4h0.8v0.8h-0.8zM42.5 291.0h0.8v0.8h-0.8zM31.9 292.4h0.8v0.8h-0.8zM38.7 290.7h0.8v0.8h-0.8zM47.4 311.9h0.8v0.8h-0.8zM37.4 288.7h0.8v0.8h-0.8zM48.9 294.2h0.8v0.8h-0.8zM33.1 291.0h0.8v0.8h-0.8zM31.5 293.6h0.8v0.8h-0.8zM31.8 289.0h0.8v0.8h-0.8zM33.7 290.8h0.8v0.8h-0.8zM38.7 290.8h0.8v0.8h-0.8zM35.4 291.5h0.8v0.8h-0.8zM31.3 298.4h0.8v0.8h-0.8zM34.2 282.3h0.8v0.8h-0.8zM44.5 291.4h0.8v0.8h-0.8zM37.7 291.4h0.8v0.8h-0.8zM39.8 289.7h0.8v0.8h-0.8zM47.3 314.4h0.8v0.8h-0.8zM30.7 315.9h0.8v0.8h-0.8zM44.0 292.2h0.8v0.8h-0.8zM34.0 290.7h0.8v0.8h-0.8zM32.6 289.3h0.8v0.8h-0.8zM39.2 288.6h0.8v0.8h-0.8zM34.7 292.1h0.8v0.8h-0.8zM43.7 292.4h0.8v0.8h-0.8zM46.6 311.0h0.8v0.8h-0.8zM47.9 310.1h0.8v0.8h-0.8zM48.5 296.9h0.8v0.8h-0.8zM37.0 291.9h0.8v0.8h-0.8zM47.0 306.8h0.8v0.8h-0.8zM35.7 289.8h0.8v0.8h-0.8zM31.2 299.0h0.8v0.8h-0.8zM47.1 295.9h0.8v0.8h-0.8zM48.5 295.0h0.8v0.8h-0.8zM33.6 291.2h0.8v0.8h-0.8zM38.0 289.0h0.8v0.8h-0.8zM36.3 292.3h0.8v0.8h-0.8zM45.8 290.8h0.8v0.8h-0.8zM42.8 286.6h0.8v0.8h-0.8zM46.3 285.5h0.8v0.8h-0.8zM37.6 289.2h0.8v0.8h-0.8zM47.0 307.8h0.8v0.8h-0.8zM30.5 298.7h0.8v0.8h-0.8zM36.9 290.8h0.8v0.8h-0.8zM46.6 300.1h0.8v0.8h-0.8zM47.0 313.1h0.8v0.8h-0.8zM40.0 288.2h0.8v0.8h-0.8zM48.3 302.1h0.8v0.8h-0.8zM47.7 296.4h0.8v0.8h-0.8zM47.2 305.1h0.8v0.8h-0.8zM32.0 290.2h0.8v0.8h-0.8zM40.4 290.2h0.8v0.8h-0.8zM30.6 315.8h0.8v0.8h-0.8zM47.8 298.5h0.8v0.8h-0.8zM47.9 312.6h0.8v0.8h-0.8zM46.4 292.3h0.8v0.8h-0.8zM35.0 290.2h0.8v0.8h-0.8zM50.9 292.2h0.8v0.8h-0.8zM31.2 308.6h0.8v0.8h-0.8zM43.6 288.9h0.8v0.8h-0.8zM31.0 295.5h0.8v0.8h-0.8zM41.2 289.1h0.8v0.8h-0.8zM47.3 303.0h0.8v0.8h-0.8zM43.5 289.3h0.8v0.8h-0.8zM45.1 288.4h0.8v0.8h-0.8zM47.3 293.1h0.8v0.8h-0.8zM36.7 290.2h0.8v0.8h-0.8zM31.1 295.1h0.8v0.8h-0.8zM44.2 291.2h0.8v0.8h-0.8zM46.9 315.7h0.8v0.8h-0.8zM40.9 291.8h0.8v0.8h-0.8zM31.4 307.5h0.8v0.8h-0.8zM31.7 290.5h0.8v0.8h-0.8zM36.2 290.8h0.8v0.8h-0.8zM47.3 308.2h0.8v0.8h-0.8zM33.4 291.3h0.8v0.8h-0.8zM33.2 289.3h0.8v0.8h-0.8zM30.5 295.5h0.8v0.8h-0.8zM30.7 308.1h0.8v0.8h-0.8zM47.3 300.9h0.8v0.8h-0.8zM41.0 290.5h0.8v0.8h-0.8zM43.8 289.7h0.8v0.8h-0.8zM45.6 290.7h0.8v0.8h-0.8zM42.1 292.1h0.8v0.8h-0.8zM44.6 288.6h0.8v0.8h-0.8zM44.3 291.0h0.8v0.8h-0.8zM30.1 300.4h0.8v0.8h-0.8zM47.7 292.1h0.8v0.8h-0.8zM35.7 290.6h0.8v0.8h-0.8zM45.8 291.3h0.8v0.8h-0.8zM48.6 296.7h0.8v0.8h-0.8zM33.5 290.7h0.8v0.8h-0.8zM36.6 291.1h0.8v0.8h-0.8zM47.6 304.4h0.8v0.8h-0.8zM44.9 289.3h0.8v0.8h-0.8zM37.0 289.1h0.8v0.8h-0.8zM48.1 299.3h0.8v0.8h-0.8zM31.2 306.6h0.8v0.8h-0.8zM36.9 292.3h0.8v0.8h-0.8zM36.2 290.5h0.8v0.8h-0.8zM48.1 315.9h0.8v0.8h-0.8zM38.4 288.9h0.8v0.8h-0.8zM46.3 290.0h0.8v0.8h-0.8zM37.0 290.6h0.8v0.8h-0.8zM47.6 292.6h0.8v0.8h-0.8zM41.2 289.0h0.8v0.8h-0.8zM43.7 289.1h0.8v0.8h-0.8zM46.6 302.5h0.8v0.8h-0.8zM44.4 291.0h0.8v0.8h-0.8zM31.3 299.5h0.8v0.8h-0.8zM39.5 292.1h0.8v0.8h-0.8zM43.3 291.4h0.8v0.8h-0.8zM40.0 289.1h0.8v0.8h-0.8zM32.8 290.0h0.8v0.8h-0.8zM46.6 296.8h0.8v0.8h-0.8zM32.3 291.8h0.8v0.8h-0.8zM38.4 289.3h0.8v0.8h-0.8zM40.7 287.4h0.8v0.8h-0.8zM31.7 286.7h0.8v0.8h-0.8zM43.8 292.0h0.8v0.8h-0.8zM39.5 287.8h0.8v0.8h-0.8zM33.2 290.1h0.8v0.8h-0.8zM50.0 312.1h0.8v0.8h-0.8zM37.7 290.4h0.8v0.8h-0.8zM45.3 291.4h0.8v0.8h-0.8zM38.8 288.9h0.8v0.8h-0.8zM45.1 290.5h0.8v0.8h-0.8zM47.2 297.1h0.8v0.8h-0.8zM37.9 289.7h0.8v0.8h-0.8zM38.3 292.1h0.8v0.8h-0.8zM44.0 289.1h0.8v0.8h-0.8zM37.5 291.1h0.8v0.8h-0.8zM33.0 290.7h0.8v0.8h-0.8zM35.0 290.6h0.8v0.8h-0.8zM46.7 300.9h0.8v0.8h-0.8zM31.5 290.7h0.8v0.8h-0.8zM45.9 289.8h0.8v0.8h-0.8zM36.0 289.5h0.8v0.8h-0.8zM47.5 303.2h0.8v0.8h-0.8zM42.8 291.1h0.8v0.8h-0.8zM32.9 292.5h0.8v0.8h-0.8zM47.6 301.4h0.8v0.8h-0.8zM30.6 307.8h0.8v0.8h-0.8zM46.3 291.1h0.8v0.8h-0.8zM47.1 311.4h0.8v0.8h-0.8zM47.6 306.9h0.8v0.8h-0.8zM43.0 288.5h0.8v0.8h-0.8zM45.4 291.3h0.8v0.8h-0.8zM49.7 309.7h0.8v0.8h-0.8zM31.6 291.5h0.8v0.8h-0.8zM48.3 315.6h0.8v0.8h-0.8zM30.5 292.4h0.8v0.8h-0.8zM48.7 300.1h0.8v0.8h-0.8zM38.1 290.7h0.8v0.8h-0.8zM36.3 292.4h0.8v0.8h-0.8zM44.0 291.4h0.8v0.8h-0.8zM47.2 293.5h0.8v0.8h-0.8zM45.8 292.1h0.8v0.8h-0.8zM45.3 291.7h0.8v0.8h-0.8zM44.1 289.5h0.8v0.8h-0.8zM44.6 291.8h0.8v0.8h-0.8zM37.2 292.4h0.8v0.8h-0.8zM48.0 308.1h0.8v0.8h-0.8zM43.2 291.0h0.8v0.8h-0.8zM42.6 290.5h0.8v0.8h-0.8zM36.7 289.1h0.8v0.8h-0.8zM36.7 289.4h0.8v0.8h-0.8zM40.1 290.5h0.8v0.8h-0.8zM47.7 302.8h0.8v0.8h-0.8zM30.1 298.9h0.8v0.8h-0.8zM46.6 309.1h0.8v0.8h-0.8zM35.4 290.2h0.8v0.8h-0.8zM43.9 289.1h0.8v0.8h-0.8zM40.8 289.2h0.8v0.8h-0.8zM46.1 289.7h0.8v0.8h-0.8zM35.0 290.7h0.8v0.8h-0.8zM47.5 312.1h0.8v0.8h-0.8zM42.0 291.0h0.8v0.8h-0.8zM39.8 291.6h0.8v0.8h-0.8zM30.8 310.0h0.8v0.8h-0.8zM48.5 296.1h0.8v0.8h-0.8zM39.5 289.5h0.8v0.8h-0.8zM48.2 305.4h0.8v0.8h-0.8zM48.8 308.8h0.8v0.8h-0.8zM44.4 286.9h0.8v0.8h-0.8zM46.6 291.0h0.8v0.8h-0.8zM35.3 290.2h0.8v0.8h-0.8zM35.3 290.2h0.8v0.8h-0.8zM35.8 290.0h0.8v0.8h-0.8zM39.1 291.3h0.8v0.8h-0.8zM30.9 312.3h0.8v0.8h-0.8zM48.7 304.1h0.8v0.8h-0.8zM47.1 313.9h0.8v0.8h-0.8zM46.5 314.4h0.8v0.8h-0.8zM43.3 291.5h0.8v0.8h-0.8zM38.3 289.2h0.8v0.8h-0.8zM36.7 291.7h0.8v0.8h-0.8zM45.6 285.2h0.8v0.8h-0.8zM49.2 293.1h0.8v0.8h-0.8zM33.3 289.7h0.8v0.8h-0.8zM30.5 292.1h0.8v0.8h-0.8zM49.1 292.2h0.8v0.8h-0.8zM40.1 288.0h0.8v0.8h-0.8zM31.3 310.5h0.8v0.8h-0.8zM32.7 290.6h0.8v0.8h-0.8zM36.8 292.2h0.8v0.8h-0.8zM34.5 291.6h0.8v0.8h-0.8zM32.7 289.5h0.8v0.8h-0.8zM39.9 288.7h0.8v0.8h-0.8zM36.0 291.8h0.8v0.8h-0.8zM42.0 284.9h0.8v0.8h-0.8zM30.1 314.1h0.8v0.8h-0.8zM31.2 303.0h0.8v0.8h-0.8zM41.8 292.3h0.8v0.8h-0.8zM49.0 292.7h0.8v0.8h-0.8zM45.9 287.9h0.8v0.8h-0.8zM33.2 287.4h0.8v0.8h-0.8zM32.0 287.0h0.8v0.8h-0.8zM47.1 305.3h0.8v0.8h-0.8zM48.1 311.1h0.8v0.8h-0.8zM32.5 290.3h0.8v0.8h-0.8zM50.2 300.9h0.8v0.8h-0.8zM36.7 287.4h0.8v0.8h-0.8zM40.3 292.0h0.8v0.8h-0.8zM36.5 291.0h0.8v0.8h-0.8zM44.7 289.6h0.8v0.8h-0.8zM33.7 292.4h0.8v0.8h-0.8zM48.1 299.0h0.8v0.8h-0.8zM41.3 292.3h0.8v0.8h-0.8zM44.7 288.9h0.8v0.8h-0.8zM35.0 291.6h0.8v0.8h-0.8zM47.7 307.7h0.8v0.8h-0.8zM47.0 310.0h0.8v0.8h-0.8zM34.8 292.2h0.8v0.8h-0.8zM46.3 290.6h0.8v0.8h-0.8zM30.5 315.8h0.8v0.8h-0.8zM33.5 291.2h0.8v0.8h-0.8zM43.4 287.4h0.8v0.8h-0.8zM35.8 288.4h0.8v0.8h-0.8zM43.8 289.8h0.8v0.8h-0.8zM39.0 291.7h0.8v0.8h-0.8zM31.1 294.2h0.8v0.8h-0.8zM44.7 285.8h0.8v0.8h-0.8zM45.5 290.8h0.8v0.8h-0.8z" fill="#000"/>
<path d="M31.8 289.8h0.6v0.6h-0.6zM37.6 287.3h0.6v0.6h-0.6zM43.8 289.2h0.6v0.6h-0.6zM37.6 295.3h0.6v0.6h-0.6zM36.5 284.6h0.6v0.6h-0.6zM32.1 287.2h0.6v0.6h-0.6zM42.3 292.0h0.6v0.6h-0.6zM44.7 295.5h0.6v0.6h-0.6zM47.6 291.3h0.6v0.6h-0.6zM45.8 291.4h0.6v0.6h-0.6zM36.4 292.0h0.6v0.6h-0.6zM39.5 288.4h0.6v0.6h-0.6zM49.3 291.9h0.6v0.6h-0.6zM36.8 288.9h0.6v0.6h-0.6zM51.1 288.3h0.6v0.6h-0.6zM43.0 291.4h0.6v0.6h-0.6zM41.9 291.3h0.6v0.6h-0.6zM36.8 287.6h0.6v0.6h-0.6zM38.5 287.9h0.6v0.6h-0.6zM43.4 294.7h0.6v0.6h-0.6zM34.8 291.1h0.6v0.6h-0.6zM34.3 286.7h0.6v0.6h-0.6zM38.1 289.6h0.6v0.6h-0.6zM37.1 279.9h0.6v0.6h-0.6zM46.3 288.2h0.6v0.6h-0.6zM36.1 291.6h0.6v0.6h-0.6zM36.3 284.1h0.6v0.6h-0.6zM41.8 290.7h0.6v0.6h-0.6zM35.1 292.2h0.6v0.6h-0.6zM41.2 285.2h0.6v0.6h-0.6zM48.2 290.1h0.6v0.6h-0.6zM33.5 290.8h0.6v0.6h-0.6zM39.9 292.6h0.6v0.6h-0.6zM32.4 292.9h0.6v0.6h-0.6zM44.1 291.7h0.6v0.6h-0.6zM42.4 293.9h0.6v0.6h-0.6zM42.9 289.6h0.6v0.6h-0.6zM35.0 293.1h0.6v0.6h-0.6zM44.3 290.2h0.6v0.6h-0.6zM40.0 291.8h0.6v0.6h-0.6zM44.6 295.9h0.6v0.6h-0.6zM36.9 290.7h0.6v0.6h-0.6zM38.9 281.3h0.6v0.6h-0.6zM42.9 289.1h0.6v0.6h-0.6zM39.6 285.8h0.6v0.6h-0.6zM39.0 289.5h0.6v0.6h-0.6zM45.7 290.2h0.6v0.6h-0.6zM56.9 287.7h0.6v0.6h-0.6zM37.9 289.0h0.6v0.6h-0.6zM35.1 294.5h0.6v0.6h-0.6zM42.5 284.6h0.6v0.6h-0.6zM39.8 293.2h0.6v0.6h-0.6zM32.0 289.7h0.6v0.6h-0.6zM38.0 297.4h0.6v0.6h-0.6zM41.3 287.7h0.6v0.6h-0.6zM36.4 295.9h0.6v0.6h-0.6zM36.9 297.3h0.6v0.6h-0.6zM31.3 288.5h0.6v0.6h-0.6zM38.0 286.7h0.6v0.6h-0.6zM38.2 291.6h0.6v0.6h-0.6zM35.9 284.1h0.6v0.6h-0.6zM46.1 294.4h0.6v0.6h-0.6zM35.7 290.2h0.6v0.6h-0.6zM32.5 287.2h0.6v0.6h-0.6zM50.2 284.7h0.6v0.6h-0.6zM39.3 285.4h0.6v0.6h-0.6zM40.6 284.5h0.6v0.6h-0.6zM36.2 291.7h0.6v0.6h-0.6zM38.4 284.5h0.6v0.6h-0.6zM46.8 289.6h0.6v0.6h-0.6zM46.4 285.4h0.6v0.6h-0.6zM47.8 284.4h0.6v0.6h-0.6zM30.4 287.7h0.6v0.6h-0.6zM37.3 290.1h0.6v0.6h-0.6zM36.4 291.4h0.6v0.6h-0.6zM46.0 286.8h0.6v0.6h-0.6zM32.3 287.7h0.6v0.6h-0.6zM43.4 292.1h0.6v0.6h-0.6zM37.5 285.7h0.6v0.6h-0.6zM39.1 292.6h0.6v0.6h-0.6zM35.6 293.8h0.6v0.6h-0.6zM40.4 290.2h0.6v0.6h-0.6zM36.0 294.0h0.6v0.6h-0.6zM39.4 283.9h0.6v0.6h-0.6zM43.4 287.7h0.6v0.6h-0.6zM44.7 289.8h0.6v0.6h-0.6z" fill="#000"/>
<path d="M54.5 314.1h0.6v0.6h-0.6zM50.3 287.8h0.6v0.6h-0.6zM56.7 307.3h0.6v0.6h-0.6zM57.6 306.6h0.6v0.6h-0.6zM54.7 297.8h0.6v0.6h-0.6zM50.9 300.9h0.6v0.6h-0.6zM53.2 310.2h0.6v0.6h-0.6zM59.3 292.7h0.6v0.6h-0.6zM59.8 302.6h0.6v0.6h-0.6zM62.3 314.9h0.6v0.6h-0.6zM59.0 288.5h0.6v0.6h-0.6zM59.6 290.3h0.6v0.6h-0.6zM65.1 297.5h0.6v0.6h-0.6zM45.0 303.1h0.6v0.6h-0.6zM49.2 298.7h0.6v0.6h-0.6zM50.8 308.4h0.6v0.6h-0.6zM53.8 305.7h0.6v0.6h-0.6zM59.5 289.0h0.6v0.6h-0.6zM64.2 300.9h0.6v0.6h-0.6zM45.6 297.6h0.6v0.6h-0.6zM61.0 311.0h0.6v0.6h-0.6zM51.5 303.7h0.6v0.6h-0.6zM57.1 311.3h0.6v0.6h-0.6zM54.9 310.9h0.6v0.6h-0.6zM50.3 297.1h0.6v0.6h-0.6zM59.7 308.8h0.6v0.6h-0.6zM55.4 307.8h0.6v0.6h-0.6zM57.0 309.2h0.6v0.6h-0.6zM62.8 307.2h0.6v0.6h-0.6zM60.7 299.7h0.6v0.6h-0.6zM52.3 283.8h0.6v0.6h-0.6zM58.2 303.2h0.6v0.6h-0.6zM59.0 287.7h0.6v0.6h-0.6zM52.7 298.4h0.6v0.6h-0.6zM44.7 310.3h0.6v0.6h-0.6zM63.2 292.5h0.6v0.6h-0.6zM48.3 311.0h0.6v0.6h-0.6zM47.4 294.2h0.6v0.6h-0.6zM57.0 312.8h0.6v0.6h-0.6zM48.0 296.8h0.6v0.6h-0.6zM48.9 312.0h0.6v0.6h-0.6zM52.3 307.6h0.6v0.6h-0.6zM59.7 312.4h0.6v0.6h-0.6zM58.3 305.7h0.6v0.6h-0.6zM62.8 306.8h0.6v0.6h-0.6zM48.0 298.5h0.6v0.6h-0.6zM61.3 304.1h0.6v0.6h-0.6zM53.5 304.9h0.6v0.6h-0.6zM76.1 302.5h0.6v0.6h-0.6zM58.7 306.7h0.6v0.6h-0.6zM54.0 312.7h0.6v0.6h-0.6zM61.0 306.2h0.6v0.6h-0.6zM47.4 313.3h0.6v0.6h-0.6zM60.4 302.3h0.6v0.6h-0.6zM39.1 302.5h0.6v0.6h-0.6zM48.2 301.1h0.6v0.6h-0.6zM52.6 296.1h0.6v0.6h-0.6z" fill="#667"/>
<rect x="29.70" y="279.20" width="17.20" height="26.30" fill="none" stroke="#1a1a1a" stroke-width="0.7"/>
<line x1="30.00" y1="305.60" x2="46.90" y2="305.60" stroke="#3b4a78" stroke-width="0.8"/>
<line x1="48.90" y1="257.60" x2="48.90" y2="322.20" stroke="#4b5c8c" stroke-width="1.3"/>
<line x1="29.30" y1="307.90" x2="95.00" y2="307.90" stroke="#4b5c8c" stroke-width="1.3"/>
<rect x="29.30" y="257.60" width="65.70" height="64.60" fill="none" stroke="#2a2a2a" stroke-width="1.1"/>
<rect x="102.60" y="292.00" width="17.20" height="24.50" fill="#000" stroke="none" stroke-width="1" rx="4"/>
<ellipse cx="111" cy="294" rx="7.5" ry="5" fill="#000"/>
<path d="M114.0 288.6h0.8v0.8h-0.8zM115.5 288.3h0.8v0.8h-0.8zM120.3 295.4h0.8v0.8h-0.8zM109.4 290.7h0.8v0.8h-0.8zM105.0 290.4h0.8v0.8h-0.8zM104.6 288.8h0.8v0.8h-0.8zM103.8 305.6h0.8v0.8h-0.8zM108.8 284.5h0.8v0.8h-0.8zM105.7 288.1h0.8v0.8h-0.8zM115.9 290.1h0.8v0.8h-0.8zM117.5 287.1h0.8v0.8h-0.8zM111.0 289.8h0.8v0.8h-0.8zM104.5 289.4h0.8v0.8h-0.8zM119.3 294.6h0.8v0.8h-0.8zM102.0 309.6h0.8v0.8h-0.8zM114.6 287.7h0.8v0.8h-0.8zM110.9 290.0h0.8v0.8h-0.8zM103.1 313.0h0.8v0.8h-0.8zM109.3 288.0h0.8v0.8h-0.8zM103.6 299.4h0.8v0.8h-0.8zM105.4 289.0h0.8v0.8h-0.8zM111.1 281.1h0.8v0.8h-0.8zM114.8 290.2h0.8v0.8h-0.8zM113.0 286.7h0.8v0.8h-0.8zM106.5 286.8h0.8v0.8h-0.8zM112.7 285.0h0.8v0.8h-0.8zM105.5 285.6h0.8v0.8h-0.8zM119.6 299.1h0.8v0.8h-0.8zM119.9 314.9h0.8v0.8h-0.8zM118.3 284.9h0.8v0.8h-0.8zM107.6 287.4h0.8v0.8h-0.8zM103.7 310.7h0.8v0.8h-0.8zM119.0 302.0h0.8v0.8h-0.8zM119.6 296.8h0.8v0.8h-0.8zM106.5 290.2h0.8v0.8h-0.8zM108.9 283.6h0.8v0.8h-0.8zM121.0 301.9h0.8v0.8h-0.8zM117.9 285.9h0.8v0.8h-0.8zM107.1 290.2h0.8v0.8h-0.8zM119.4 305.2h0.8v0.8h-0.8zM112.4 284.7h0.8v0.8h-0.8zM119.2 296.5h0.8v0.8h-0.8zM120.2 289.3h0.8v0.8h-0.8zM118.8 305.0h0.8v0.8h-0.8zM118.6 312.0h0.8v0.8h-0.8zM107.7 284.3h0.8v0.8h-0.8zM101.9 292.6h0.8v0.8h-0.8zM105.4 287.6h0.8v0.8h-0.8zM116.6 290.4h0.8v0.8h-0.8zM119.8 297.8h0.8v0.8h-0.8zM107.2 288.2h0.8v0.8h-0.8zM106.7 287.4h0.8v0.8h-0.8zM104.7 287.5h0.8v0.8h-0.8zM120.3 310.3h0.8v0.8h-0.8zM110.7 287.1h0.8v0.8h-0.8zM115.1 288.7h0.8v0.8h-0.8zM114.1 286.5h0.8v0.8h-0.8zM104.6 288.9h0.8v0.8h-0.8zM103.2 297.0h0.8v0.8h-0.8zM112.0 289.6h0.8v0.8h-0.8zM118.7 302.7h0.8v0.8h-0.8zM119.8 307.9h0.8v0.8h-0.8zM112.1 290.4h0.8v0.8h-0.8zM115.8 288.0h0.8v0.8h-0.8zM118.4 290.6h0.8v0.8h-0.8zM105.1 285.7h0.8v0.8h-0.8zM119.7 301.1h0.8v0.8h-0.8zM120.6 301.0h0.8v0.8h-0.8zM109.6 290.4h0.8v0.8h-0.8zM107.3 287.7h0.8v0.8h-0.8zM114.2 290.0h0.8v0.8h-0.8zM118.8 295.4h0.8v0.8h-0.8zM111.1 287.5h0.8v0.8h-0.8zM119.1 302.0h0.8v0.8h-0.8zM114.4 290.7h0.8v0.8h-0.8zM103.6 309.5h0.8v0.8h-0.8zM120.6 312.2h0.8v0.8h-0.8zM119.0 313.8h0.8v0.8h-0.8zM112.9 288.8h0.8v0.8h-0.8zM122.9 289.2h0.8v0.8h-0.8zM108.5 288.8h0.8v0.8h-0.8zM106.1 289.8h0.8v0.8h-0.8zM117.7 290.6h0.8v0.8h-0.8zM119.2 314.8h0.8v0.8h-0.8zM118.7 294.6h0.8v0.8h-0.8zM113.3 290.0h0.8v0.8h-0.8zM102.9 297.7h0.8v0.8h-0.8zM116.3 288.2h0.8v0.8h-0.8zM112.7 287.0h0.8v0.8h-0.8zM109.5 287.7h0.8v0.8h-0.8zM112.9 289.7h0.8v0.8h-0.8zM106.5 289.1h0.8v0.8h-0.8zM117.9 289.3h0.8v0.8h-0.8zM115.8 286.4h0.8v0.8h-0.8zM111.3 289.0h0.8v0.8h-0.8zM112.8 290.3h0.8v0.8h-0.8zM111.9 288.7h0.8v0.8h-0.8zM108.5 284.5h0.8v0.8h-0.8zM106.0 289.1h0.8v0.8h-0.8zM119.3 290.3h0.8v0.8h-0.8zM109.8 287.5h0.8v0.8h-0.8zM107.3 289.0h0.8v0.8h-0.8zM112.4 285.0h0.8v0.8h-0.8zM120.1 309.5h0.8v0.8h-0.8zM104.9 289.3h0.8v0.8h-0.8zM120.4 301.7h0.8v0.8h-0.8zM119.1 298.5h0.8v0.8h-0.8zM113.1 288.8h0.8v0.8h-0.8zM103.5 302.8h0.8v0.8h-0.8zM118.7 294.1h0.8v0.8h-0.8zM104.9 287.4h0.8v0.8h-0.8zM118.9 306.6h0.8v0.8h-0.8zM105.5 287.4h0.8v0.8h-0.8zM114.0 289.3h0.8v0.8h-0.8zM119.1 311.3h0.8v0.8h-0.8zM104.6 290.8h0.8v0.8h-0.8zM111.7 289.6h0.8v0.8h-0.8zM119.2 302.3h0.8v0.8h-0.8zM116.3 288.6h0.8v0.8h-0.8zM121.6 294.9h0.8v0.8h-0.8zM120.0 313.5h0.8v0.8h-0.8zM102.9 299.5h0.8v0.8h-0.8zM112.9 288.8h0.8v0.8h-0.8zM118.6 293.4h0.8v0.8h-0.8zM101.8 303.5h0.8v0.8h-0.8zM102.6 304.0h0.8v0.8h-0.8zM123.6 309.0h0.8v0.8h-0.8zM103.6 300.0h0.8v0.8h-0.8zM111.8 290.0h0.8v0.8h-0.8zM119.0 289.7h0.8v0.8h-0.8zM112.4 289.7h0.8v0.8h-0.8zM113.6 290.6h0.8v0.8h-0.8zM103.3 303.1h0.8v0.8h-0.8zM103.2 295.5h0.8v0.8h-0.8zM113.3 290.9h0.8v0.8h-0.8zM118.5 295.8h0.8v0.8h-0.8zM109.5 286.4h0.8v0.8h-0.8zM107.8 287.6h0.8v0.8h-0.8zM115.9 290.2h0.8v0.8h-0.8zM115.6 290.6h0.8v0.8h-0.8zM104.1 288.8h0.8v0.8h-0.8zM118.5 287.4h0.8v0.8h-0.8zM107.3 290.4h0.8v0.8h-0.8zM104.8 285.2h0.8v0.8h-0.8zM116.0 287.4h0.8v0.8h-0.8zM113.1 291.0h0.8v0.8h-0.8zM114.0 287.5h0.8v0.8h-0.8zM107.6 287.0h0.8v0.8h-0.8zM119.4 294.4h0.8v0.8h-0.8zM121.8 313.0h0.8v0.8h-0.8zM108.5 289.8h0.8v0.8h-0.8zM119.1 296.2h0.8v0.8h-0.8zM118.8 294.6h0.8v0.8h-0.8zM114.3 288.8h0.8v0.8h-0.8zM114.0 288.6h0.8v0.8h-0.8zM106.8 287.0h0.8v0.8h-0.8zM104.8 289.9h0.8v0.8h-0.8zM116.8 287.9h0.8v0.8h-0.8zM120.9 305.1h0.8v0.8h-0.8zM111.3 290.3h0.8v0.8h-0.8zM102.5 306.2h0.8v0.8h-0.8zM109.0 287.8h0.8v0.8h-0.8zM119.6 302.9h0.8v0.8h-0.8zM115.4 288.3h0.8v0.8h-0.8zM113.3 288.8h0.8v0.8h-0.8zM112.5 290.4h0.8v0.8h-0.8zM111.1 288.1h0.8v0.8h-0.8zM108.8 286.1h0.8v0.8h-0.8zM104.7 290.3h0.8v0.8h-0.8zM119.3 311.9h0.8v0.8h-0.8zM105.6 289.5h0.8v0.8h-0.8zM115.0 290.7h0.8v0.8h-0.8zM114.1 289.7h0.8v0.8h-0.8zM112.7 290.7h0.8v0.8h-0.8zM107.0 285.8h0.8v0.8h-0.8zM113.6 288.3h0.8v0.8h-0.8zM108.4 288.1h0.8v0.8h-0.8zM115.4 284.6h0.8v0.8h-0.8zM111.2 286.7h0.8v0.8h-0.8zM106.6 287.5h0.8v0.8h-0.8zM120.4 303.3h0.8v0.8h-0.8zM108.9 288.6h0.8v0.8h-0.8zM115.6 287.0h0.8v0.8h-0.8zM108.2 288.6h0.8v0.8h-0.8zM119.2 309.3h0.8v0.8h-0.8zM108.5 287.4h0.8v0.8h-0.8zM107.4 287.9h0.8v0.8h-0.8zM116.5 286.6h0.8v0.8h-0.8zM119.5 301.8h0.8v0.8h-0.8zM109.3 289.8h0.8v0.8h-0.8zM108.8 287.5h0.8v0.8h-0.8zM117.2 289.1h0.8v0.8h-0.8zM107.1 290.0h0.8v0.8h-0.8zM102.8 295.2h0.8v0.8h-0.8zM120.4 301.2h0.8v0.8h-0.8zM119.9 296.6h0.8v0.8h-0.8zM116.1 290.4h0.8v0.8h-0.8zM119.8 313.1h0.8v0.8h-0.8zM118.7 292.9h0.8v0.8h-0.8zM118.8 315.0h0.8v0.8h-0.8zM101.8 295.6h0.8v0.8h-0.8zM103.3 315.4h0.8v0.8h-0.8zM109.7 288.2h0.8v0.8h-0.8zM118.7 310.4h0.8v0.8h-0.8zM119.7 309.1h0.8v0.8h-0.8zM120.7 311.2h0.8v0.8h-0.8zM101.7 302.5h0.8v0.8h-0.8zM122.4 306.7h0.8v0.8h-0.8zM113.6 290.3h0.8v0.8h-0.8zM105.9 289.7h0.8v0.8h-0.8zM105.3 289.9h0.8v0.8h-0.8zM115.1 286.7h0.8v0.8h-0.8zM111.4 289.6h0.8v0.8h-0.8zM110.5 290.2h0.8v0.8h-0.8zM114.6 287.8h0.8v0.8h-0.8zM109.1 289.2h0.8v0.8h-0.8zM119.4 311.8h0.8v0.8h-0.8zM109.0 286.4h0.8v0.8h-0.8zM102.7 311.1h0.8v0.8h-0.8zM115.4 287.4h0.8v0.8h-0.8zM108.9 289.5h0.8v0.8h-0.8zM104.4 288.4h0.8v0.8h-0.8zM119.4 304.0h0.8v0.8h-0.8zM120.2 311.9h0.8v0.8h-0.8zM119.7 291.6h0.8v0.8h-0.8zM101.8 297.3h0.8v0.8h-0.8zM107.1 286.5h0.8v0.8h-0.8zM102.4 309.1h0.8v0.8h-0.8zM118.5 297.2h0.8v0.8h-0.8zM116.7 288.2h0.8v0.8h-0.8zM114.0 286.8h0.8v0.8h-0.8zM119.3 315.5h0.8v0.8h-0.8zM102.1 313.6h0.8v0.8h-0.8zM114.4 284.0h0.8v0.8h-0.8zM112.0 290.4h0.8v0.8h-0.8zM115.7 290.9h0.8v0.8h-0.8zM106.1 290.2h0.8v0.8h-0.8zM118.9 314.7h0.8v0.8h-0.8zM103.6 300.9h0.8v0.8h-0.8zM109.3 288.5h0.8v0.8h-0.8zM114.9 289.0h0.8v0.8h-0.8zM108.3 290.8h0.8v0.8h-0.8zM117.2 288.7h0.8v0.8h-0.8zM110.0 290.0h0.8v0.8h-0.8zM111.8 288.7h0.8v0.8h-0.8zM111.7 289.8h0.8v0.8h-0.8zM107.5 290.6h0.8v0.8h-0.8zM108.2 288.6h0.8v0.8h-0.8zM115.2 287.0h0.8v0.8h-0.8zM119.3 309.1h0.8v0.8h-0.8zM114.9 286.9h0.8v0.8h-0.8zM119.6 307.1h0.8v0.8h-0.8zM103.5 303.3h0.8v0.8h-0.8zM102.0 296.2h0.8v0.8h-0.8zM119.8 300.4h0.8v0.8h-0.8zM107.6 290.7h0.8v0.8h-0.8zM121.5 306.0h0.8v0.8h-0.8zM108.2 288.9h0.8v0.8h-0.8zM114.1 290.6h0.8v0.8h-0.8zM112.0 285.5h0.8v0.8h-0.8zM110.2 290.0h0.8v0.8h-0.8zM113.9 289.9h0.8v0.8h-0.8zM119.5 300.6h0.8v0.8h-0.8zM108.2 289.5h0.8v0.8h-0.8zM119.2 315.8h0.8v0.8h-0.8zM102.0 302.3h0.8v0.8h-0.8zM117.0 286.4h0.8v0.8h-0.8zM109.3 288.9h0.8v0.8h-0.8zM104.8 288.9h0.8v0.8h-0.8zM119.6 294.0h0.8v0.8h-0.8zM115.5 290.4h0.8v0.8h-0.8zM115.2 289.0h0.8v0.8h-0.8zM120.3 307.2h0.8v0.8h-0.8zM117.9 288.9h0.8v0.8h-0.8zM102.6 305.2h0.8v0.8h-0.8zM109.8 289.5h0.8v0.8h-0.8zM106.4 287.8h0.8v0.8h-0.8zM112.5 288.8h0.8v0.8h-0.8zM118.0 288.3h0.8v0.8h-0.8zM113.7 289.9h0.8v0.8h-0.8zM105.6 287.3h0.8v0.8h-0.8zM105.7 287.6h0.8v0.8h-0.8zM115.5 287.8h0.8v0.8h-0.8zM105.2 290.5h0.8v0.8h-0.8zM120.0 315.3h0.8v0.8h-0.8zM107.6 288.6h0.8v0.8h-0.8zM105.5 288.1h0.8v0.8h-0.8zM113.5 288.8h0.8v0.8h-0.8zM101.7 310.6h0.8v0.8h-0.8zM113.3 285.6h0.8v0.8h-0.8zM119.4 296.2h0.8v0.8h-0.8zM107.9 290.1h0.8v0.8h-0.8zM120.0 313.9h0.8v0.8h-0.8zM119.5 314.5h0.8v0.8h-0.8zM103.1 294.1h0.8v0.8h-0.8zM115.4 290.9h0.8v0.8h-0.8zM117.9 288.4h0.8v0.8h-0.8zM108.0 287.4h0.8v0.8h-0.8zM119.8 295.1h0.8v0.8h-0.8zM115.3 290.5h0.8v0.8h-0.8zM111.9 289.1h0.8v0.8h-0.8zM118.9 303.3h0.8v0.8h-0.8zM102.3 313.4h0.8v0.8h-0.8zM118.6 292.9h0.8v0.8h-0.8zM121.7 315.0h0.8v0.8h-0.8zM110.0 286.0h0.8v0.8h-0.8zM108.0 290.5h0.8v0.8h-0.8zM119.4 290.4h0.8v0.8h-0.8zM112.7 290.6h0.8v0.8h-0.8zM102.1 296.6h0.8v0.8h-0.8zM112.4 289.8h0.8v0.8h-0.8zM118.6 299.3h0.8v0.8h-0.8zM109.4 287.3h0.8v0.8h-0.8zM113.5 287.1h0.8v0.8h-0.8zM118.0 290.4h0.8v0.8h-0.8zM112.5 289.0h0.8v0.8h-0.8zM120.7 313.6h0.8v0.8h-0.8zM107.9 290.3h0.8v0.8h-0.8zM118.8 297.3h0.8v0.8h-0.8zM119.9 293.6h0.8v0.8h-0.8zM107.8 287.8h0.8v0.8h-0.8zM119.9 310.3h0.8v0.8h-0.8zM102.8 296.0h0.8v0.8h-0.8zM119.0 298.4h0.8v0.8h-0.8zM115.4 285.4h0.8v0.8h-0.8zM111.0 286.8h0.8v0.8h-0.8zM113.6 286.4h0.8v0.8h-0.8zM106.3 286.4h0.8v0.8h-0.8zM118.8 314.6h0.8v0.8h-0.8zM111.7 288.5h0.8v0.8h-0.8zM103.9 292.9h0.8v0.8h-0.8zM104.6 288.1h0.8v0.8h-0.8zM117.4 287.3h0.8v0.8h-0.8zM119.6 312.0h0.8v0.8h-0.8zM116.5 283.7h0.8v0.8h-0.8zM109.0 284.0h0.8v0.8h-0.8zM109.6 287.1h0.8v0.8h-0.8zM115.9 288.5h0.8v0.8h-0.8zM112.0 285.3h0.8v0.8h-0.8zM103.8 306.2h0.8v0.8h-0.8zM109.9 287.1h0.8v0.8h-0.8zM118.8 289.2h0.8v0.8h-0.8zM119.3 304.5h0.8v0.8h-0.8zM119.7 301.2h0.8v0.8h-0.8zM116.1 287.0h0.8v0.8h-0.8zM110.3 289.9h0.8v0.8h-0.8zM103.3 303.0h0.8v0.8h-0.8zM111.0 282.6h0.8v0.8h-0.8zM107.8 288.0h0.8v0.8h-0.8zM103.9 295.7h0.8v0.8h-0.8zM113.8 290.4h0.8v0.8h-0.8zM108.8 290.6h0.8v0.8h-0.8zM114.3 288.1h0.8v0.8h-0.8zM114.1 285.2h0.8v0.8h-0.8zM118.1 290.4h0.8v0.8h-0.8zM118.8 305.5h0.8v0.8h-0.8zM105.1 287.3h0.8v0.8h-0.8zM103.1 312.2h0.8v0.8h-0.8zM118.4 285.9h0.8v0.8h-0.8zM118.2 288.3h0.8v0.8h-0.8zM115.9 289.5h0.8v0.8h-0.8zM115.5 287.6h0.8v0.8h-0.8zM120.1 305.2h0.8v0.8h-0.8zM113.5 288.3h0.8v0.8h-0.8zM115.1 291.0h0.8v0.8h-0.8zM114.4 289.0h0.8v0.8h-0.8zM118.9 314.0h0.8v0.8h-0.8zM112.9 287.4h0.8v0.8h-0.8zM104.2 288.3h0.8v0.8h-0.8zM116.9 286.6h0.8v0.8h-0.8zM113.9 290.7h0.8v0.8h-0.8zM103.2 311.9h0.8v0.8h-0.8zM120.0 297.4h0.8v0.8h-0.8zM120.7 305.9h0.8v0.8h-0.8zM103.8 293.8h0.8v0.8h-0.8zM109.7 289.6h0.8v0.8h-0.8zM118.6 301.2h0.8v0.8h-0.8zM113.3 286.9h0.8v0.8h-0.8zM118.2 286.3h0.8v0.8h-0.8zM120.8 301.4h0.8v0.8h-0.8zM113.4 290.0h0.8v0.8h-0.8zM119.8 303.4h0.8v0.8h-0.8zM116.5 289.6h0.8v0.8h-0.8zM120.1 312.7h0.8v0.8h-0.8zM102.0 293.1h0.8v0.8h-0.8zM110.3 286.4h0.8v0.8h-0.8zM103.6 310.9h0.8v0.8h-0.8zM110.4 286.4h0.8v0.8h-0.8zM109.1 289.4h0.8v0.8h-0.8zM117.3 286.1h0.8v0.8h-0.8zM119.2 301.1h0.8v0.8h-0.8zM106.1 290.5h0.8v0.8h-0.8zM103.0 296.7h0.8v0.8h-0.8zM108.0 288.4h0.8v0.8h-0.8zM102.7 305.1h0.8v0.8h-0.8zM108.7 289.7h0.8v0.8h-0.8zM104.9 289.8h0.8v0.8h-0.8zM120.0 300.6h0.8v0.8h-0.8zM113.5 290.3h0.8v0.8h-0.8zM112.9 287.0h0.8v0.8h-0.8zM113.5 287.0h0.8v0.8h-0.8zM102.1 295.3h0.8v0.8h-0.8zM102.7 301.3h0.8v0.8h-0.8zM103.5 314.8h0.8v0.8h-0.8zM118.7 294.5h0.8v0.8h-0.8zM119.2 308.0h0.8v0.8h-0.8zM104.1 288.1h0.8v0.8h-0.8zM110.7 290.9h0.8v0.8h-0.8zM115.8 286.7h0.8v0.8h-0.8zM103.6 292.4h0.8v0.8h-0.8zM115.4 288.3h0.8v0.8h-0.8zM113.0 288.9h0.8v0.8h-0.8zM104.4 288.7h0.8v0.8h-0.8zM118.5 301.6h0.8v0.8h-0.8zM102.2 301.0h0.8v0.8h-0.8zM107.0 286.2h0.8v0.8h-0.8zM118.0 287.7h0.8v0.8h-0.8zM114.5 285.2h0.8v0.8h-0.8zM104.4 288.5h0.8v0.8h-0.8zM116.3 285.9h0.8v0.8h-0.8zM109.2 287.8h0.8v0.8h-0.8zM107.3 282.9h0.8v0.8h-0.8zM115.1 291.0h0.8v0.8h-0.8zM109.4 288.2h0.8v0.8h-0.8zM116.6 289.5h0.8v0.8h-0.8zM113.6 288.4h0.8v0.8h-0.8zM108.8 290.7h0.8v0.8h-0.8zM118.2 289.5h0.8v0.8h-0.8zM103.1 296.5h0.8v0.8h-0.8zM118.5 289.7h0.8v0.8h-0.8zM118.5 313.8h0.8v0.8h-0.8zM119.2 303.2h0.8v0.8h-0.8zM108.7 290.7h0.8v0.8h-0.8zM111.5 288.4h0.8v0.8h-0.8zM105.0 290.5h0.8v0.8h-0.8zM105.8 290.2h0.8v0.8h-0.8zM118.5 301.3h0.8v0.8h-0.8zM108.4 285.2h0.8v0.8h-0.8zM110.3 290.3h0.8v0.8h-0.8zM102.3 305.7h0.8v0.8h-0.8zM111.7 285.6h0.8v0.8h-0.8zM105.3 291.0h0.8v0.8h-0.8zM105.2 288.0h0.8v0.8h-0.8zM120.7 299.6h0.8v0.8h-0.8zM102.8 295.6h0.8v0.8h-0.8zM110.1 290.6h0.8v0.8h-0.8zM110.6 289.4h0.8v0.8h-0.8zM118.7 315.6h0.8v0.8h-0.8zM118.1 287.0h0.8v0.8h-0.8zM103.4 302.4h0.8v0.8h-0.8zM103.8 289.0h0.8v0.8h-0.8zM118.6 305.3h0.8v0.8h-0.8zM105.4 289.4h0.8v0.8h-0.8zM108.3 288.9h0.8v0.8h-0.8zM117.3 287.7h0.8v0.8h-0.8zM115.6 289.6h0.8v0.8h-0.8zM121.6 301.4h0.8v0.8h-0.8zM116.4 285.9h0.8v0.8h-0.8zM117.4 284.7h0.8v0.8h-0.8zM103.3 305.3h0.8v0.8h-0.8zM115.8 288.5h0.8v0.8h-0.8zM116.6 286.8h0.8v0.8h-0.8zM108.9 287.6h0.8v0.8h-0.8zM108.9 289.5h0.8v0.8h-0.8zM119.6 292.2h0.8v0.8h-0.8zM101.7 295.4h0.8v0.8h-0.8zM110.6 288.4h0.8v0.8h-0.8zM118.8 291.3h0.8v0.8h-0.8zM118.6 289.6h0.8v0.8h-0.8zM102.4 301.7h0.8v0.8h-0.8zM122.3 311.3h0.8v0.8h-0.8zM119.9 310.3h0.8v0.8h-0.8zM108.4 289.2h0.8v0.8h-0.8zM101.9 298.3h0.8v0.8h-0.8zM105.5 286.9h0.8v0.8h-0.8zM119.4 289.7h0.8v0.8h-0.8zM118.4 290.4h0.8v0.8h-0.8zM107.7 290.4h0.8v0.8h-0.8zM106.5 286.1h0.8v0.8h-0.8zM119.2 290.7h0.8v0.8h-0.8zM117.6 289.9h0.8v0.8h-0.8zM106.0 287.7h0.8v0.8h-0.8zM104.7 286.7h0.8v0.8h-0.8zM105.4 290.0h0.8v0.8h-0.8zM103.8 291.8h0.8v0.8h-0.8zM115.9 290.0h0.8v0.8h-0.8zM119.9 304.2h0.8v0.8h-0.8zM111.8 285.1h0.8v0.8h-0.8zM103.9 289.6h0.8v0.8h-0.8zM111.3 282.8h0.8v0.8h-0.8zM112.0 290.3h0.8v0.8h-0.8zM101.7 293.2h0.8v0.8h-0.8zM114.5 288.5h0.8v0.8h-0.8zM106.7 289.1h0.8v0.8h-0.8zM102.9 297.5h0.8v0.8h-0.8zM120.1 314.7h0.8v0.8h-0.8zM120.1 300.2h0.8v0.8h-0.8zM112.9 289.8h0.8v0.8h-0.8zM104.9 283.8h0.8v0.8h-0.8zM115.9 288.4h0.8v0.8h-0.8zM103.4 292.6h0.8v0.8h-0.8zM103.8 315.1h0.8v0.8h-0.8zM106.6 290.7h0.8v0.8h-0.8zM106.3 289.6h0.8v0.8h-0.8zM109.4 290.0h0.8v0.8h-0.8zM103.3 310.3h0.8v0.8h-0.8zM112.8 290.3h0.8v0.8h-0.8zM103.3 300.9h0.8v0.8h-0.8zM116.4 288.5h0.8v0.8h-0.8zM114.7 290.7h0.8v0.8h-0.8zM114.4 288.9h0.8v0.8h-0.8zM110.0 280.6h0.8v0.8h-0.8zM119.4 307.2h0.8v0.8h-0.8zM118.8 301.1h0.8v0.8h-0.8zM105.9 285.9h0.8v0.8h-0.8zM117.8 287.6h0.8v0.8h-0.8zM110.9 289.7h0.8v0.8h-0.8zM121.8 300.4h0.8v0.8h-0.8zM105.9 285.3h0.8v0.8h-0.8zM108.6 289.6h0.8v0.8h-0.8zM110.6 281.4h0.8v0.8h-0.8zM119.0 313.8h0.8v0.8h-0.8zM110.3 290.6h0.8v0.8h-0.8zM113.1 289.8h0.8v0.8h-0.8zM106.9 290.6h0.8v0.8h-0.8zM119.4 300.4h0.8v0.8h-0.8zM116.7 285.8h0.8v0.8h-0.8zM120.4 304.0h0.8v0.8h-0.8zM108.8 288.6h0.8v0.8h-0.8zM106.9 290.3h0.8v0.8h-0.8zM119.7 305.0h0.8v0.8h-0.8zM115.5 284.8h0.8v0.8h-0.8zM117.7 288.2h0.8v0.8h-0.8zM112.1 290.7h0.8v0.8h-0.8zM120.5 303.5h0.8v0.8h-0.8zM116.5 286.3h0.8v0.8h-0.8zM119.4 312.0h0.8v0.8h-0.8zM105.8 288.0h0.8v0.8h-0.8zM103.9 307.7h0.8v0.8h-0.8zM103.0 304.5h0.8v0.8h-0.8zM103.8 306.8h0.8v0.8h-0.8zM118.6 313.7h0.8v0.8h-0.8zM121.0 301.8h0.8v0.8h-0.8zM106.4 288.9h0.8v0.8h-0.8zM117.4 288.5h0.8v0.8h-0.8zM121.6 301.2h0.8v0.8h-0.8zM104.4 289.3h0.8v0.8h-0.8zM108.6 288.3h0.8v0.8h-0.8zM106.3 290.4h0.8v0.8h-0.8zM116.1 289.8h0.8v0.8h-0.8zM114.2 289.8h0.8v0.8h-0.8zM121.1 302.5h0.8v0.8h-0.8zM106.4 290.5h0.8v0.8h-0.8zM111.2 288.1h0.8v0.8h-0.8zM106.4 290.2h0.8v0.8h-0.8zM123.4 292.8h0.8v0.8h-0.8zM119.1 306.1h0.8v0.8h-0.8zM102.2 301.9h0.8v0.8h-0.8zM119.9 304.4h0.8v0.8h-0.8zM113.1 285.7h0.8v0.8h-0.8zM119.7 308.2h0.8v0.8h-0.8zM103.6 314.9h0.8v0.8h-0.8zM111.0 289.7h0.8v0.8h-0.8zM108.2 289.8h0.8v0.8h-0.8zM116.0 281.9h0.8v0.8h-0.8zM106.7 287.7h0.8v0.8h-0.8zM114.2 290.5h0.8v0.8h-0.8zM119.5 315.7h0.8v0.8h-0.8zM121.9 303.2h0.8v0.8h-0.8zM115.1 289.0h0.8v0.8h-0.8zM105.0 287.3h0.8v0.8h-0.8zM120.2 300.1h0.8v0.8h-0.8zM106.5 288.0h0.8v0.8h-0.8zM114.8 288.8h0.8v0.8h-0.8zM116.6 287.6h0.8v0.8h-0.8zM111.3 289.1h0.8v0.8h-0.8zM106.5 290.4h0.8v0.8h-0.8zM109.7 287.6h0.8v0.8h-0.8zM104.9 286.6h0.8v0.8h-0.8zM118.8 311.6h0.8v0.8h-0.8zM107.3 289.4h0.8v0.8h-0.8zM108.8 289.1h0.8v0.8h-0.8zM105.6 289.7h0.8v0.8h-0.8zM103.9 307.7h0.8v0.8h-0.8zM120.2 294.4h0.8v0.8h-0.8zM110.6 287.9h0.8v0.8h-0.8zM103.9 304.8h0.8v0.8h-0.8zM113.4 290.8h0.8v0.8h-0.8zM109.4 290.0h0.8v0.8h-0.8zM104.1 286.8h0.8v0.8h-0.8zM116.9 290.8h0.8v0.8h-0.8zM107.1 289.8h0.8v0.8h-0.8zM104.7 286.5h0.8v0.8h-0.8zM112.7 289.9h0.8v0.8h-0.8zM109.7 291.0h0.8v0.8h-0.8zM119.7 294.1h0.8v0.8h-0.8zM117.0 289.7h0.8v0.8h-0.8zM108.1 288.8h0.8v0.8h-0.8zM120.4 307.8h0.8v0.8h-0.8zM120.6 303.3h0.8v0.8h-0.8zM114.0 290.0h0.8v0.8h-0.8zM106.7 290.6h0.8v0.8h-0.8zM107.9 286.4h0.8v0.8h-0.8zM112.4 289.7h0.8v0.8h-0.8zM112.2 290.6h0.8v0.8h-0.8zM121.4 301.0h0.8v0.8h-0.8zM109.4 290.2h0.8v0.8h-0.8zM103.9 300.2h0.8v0.8h-0.8zM119.2 292.1h0.8v0.8h-0.8zM121.1 311.3h0.8v0.8h-0.8zM108.9 289.9h0.8v0.8h-0.8zM109.4 283.0h0.8v0.8h-0.8zM112.1 283.9h0.8v0.8h-0.8zM120.1 292.2h0.8v0.8h-0.8zM106.1 290.4h0.8v0.8h-0.8zM105.3 290.3h0.8v0.8h-0.8zM114.4 289.0h0.8v0.8h-0.8zM115.0 288.2h0.8v0.8h-0.8zM116.4 289.5h0.8v0.8h-0.8zM118.5 306.0h0.8v0.8h-0.8zM103.4 309.1h0.8v0.8h-0.8zM103.2 294.0h0.8v0.8h-0.8zM105.6 290.9h0.8v0.8h-0.8zM115.8 290.6h0.8v0.8h-0.8zM115.8 285.1h0.8v0.8h-0.8zM105.7 287.0h0.8v0.8h-0.8zM114.1 289.8h0.8v0.8h-0.8zM117.1 286.4h0.8v0.8h-0.8zM120.4 299.1h0.8v0.8h-0.8zM120.1 300.5h0.8v0.8h-0.8zM111.6 288.5h0.8v0.8h-0.8zM110.3 289.0h0.8v0.8h-0.8zM103.9 304.1h0.8v0.8h-0.8zM112.2 289.6h0.8v0.8h-0.8zM115.2 287.5h0.8v0.8h-0.8zM105.2 288.1h0.8v0.8h-0.8zM104.5 288.3h0.8v0.8h-0.8zM112.7 288.3h0.8v0.8h-0.8zM113.7 290.1h0.8v0.8h-0.8zM118.9 313.9h0.8v0.8h-0.8zM101.8 297.6h0.8v0.8h-0.8zM110.7 289.7h0.8v0.8h-0.8zM113.1 286.7h0.8v0.8h-0.8zM113.0 286.4h0.8v0.8h-0.8zM104.5 288.2h0.8v0.8h-0.8zM106.2 288.5h0.8v0.8h-0.8zM107.4 290.3h0.8v0.8h-0.8zM119.2 292.1h0.8v0.8h-0.8zM118.9 299.5h0.8v0.8h-0.8zM118.9 290.2h0.8v0.8h-0.8zM119.3 295.1h0.8v0.8h-0.8zM111.2 289.8h0.8v0.8h-0.8zM105.3 288.8h0.8v0.8h-0.8zM119.9 300.9h0.8v0.8h-0.8zM102.0 303.7h0.8v0.8h-0.8zM104.3 289.6h0.8v0.8h-0.8zM119.3 315.0h0.8v0.8h-0.8zM119.7 291.2h0.8v0.8h-0.8zM121.1 290.2h0.8v0.8h-0.8zM103.9 302.0h0.8v0.8h-0.8zM122.9 299.8h0.8v0.8h-0.8zM120.1 310.7h0.8v0.8h-0.8zM103.6 296.5h0.8v0.8h-0.8zM118.4 289.4h0.8v0.8h-0.8zM108.2 288.4h0.8v0.8h-0.8zM108.0 285.7h0.8v0.8h-0.8zM119.5 314.1h0.8v0.8h-0.8zM103.7 307.7h0.8v0.8h-0.8zM121.1 302.2h0.8v0.8h-0.8zM105.9 288.1h0.8v0.8h-0.8zM119.8 298.1h0.8v0.8h-0.8zM108.4 290.3h0.8v0.8h-0.8zM113.0 288.8h0.8v0.8h-0.8zM113.6 290.7h0.8v0.8h-0.8zM114.6 284.5h0.8v0.8h-0.8zM119.8 302.6h0.8v0.8h-0.8zM115.7 290.5h0.8v0.8h-0.8zM111.3 288.4h0.8v0.8h-0.8zM111.3 285.4h0.8v0.8h-0.8zM114.2 287.9h0.8v0.8h-0.8zM105.0 289.2h0.8v0.8h-0.8zM120.2 305.6h0.8v0.8h-0.8zM103.4 308.8h0.8v0.8h-0.8zM120.3 313.6h0.8v0.8h-0.8zM115.5 288.3h0.8v0.8h-0.8zM115.6 290.3h0.8v0.8h-0.8zM102.2 307.0h0.8v0.8h-0.8zM109.4 289.6h0.8v0.8h-0.8zM104.7 290.1h0.8v0.8h-0.8zM106.7 288.6h0.8v0.8h-0.8zM113.6 289.3h0.8v0.8h-0.8zM119.6 308.2h0.8v0.8h-0.8zM106.9 289.7h0.8v0.8h-0.8zM119.1 304.8h0.8v0.8h-0.8zM119.0 292.7h0.8v0.8h-0.8zM121.2 313.2h0.8v0.8h-0.8zM119.1 301.6h0.8v0.8h-0.8zM103.8 297.2h0.8v0.8h-0.8zM108.3 288.6h0.8v0.8h-0.8zM107.7 288.6h0.8v0.8h-0.8zM117.5 289.6h0.8v0.8h-0.8zM103.1 308.2h0.8v0.8h-0.8zM122.2 297.2h0.8v0.8h-0.8zM114.7 286.4h0.8v0.8h-0.8zM121.0 310.7h0.8v0.8h-0.8zM112.9 286.5h0.8v0.8h-0.8zM106.7 289.6h0.8v0.8h-0.8zM111.6 286.0h0.8v0.8h-0.8zM119.2 291.5h0.8v0.8h-0.8zM118.8 294.9h0.8v0.8h-0.8zM111.4 288.8h0.8v0.8h-0.8zM112.8 287.0h0.8v0.8h-0.8zM103.1 308.7h0.8v0.8h-0.8zM117.4 288.0h0.8v0.8h-0.8zM112.2 290.3h0.8v0.8h-0.8zM111.4 284.0h0.8v0.8h-0.8zM118.6 306.2h0.8v0.8h-0.8zM105.1 287.9h0.8v0.8h-0.8zM106.6 289.6h0.8v0.8h-0.8zM118.9 307.5h0.8v0.8h-0.8zM106.6 285.4h0.8v0.8h-0.8zM120.0 307.6h0.8v0.8h-0.8zM116.1 288.1h0.8v0.8h-0.8zM103.9 307.1h0.8v0.8h-0.8zM105.0 285.5h0.8v0.8h-0.8zM111.7 290.1h0.8v0.8h-0.8zM112.8 288.5h0.8v0.8h-0.8zM112.6 289.4h0.8v0.8h-0.8zM120.5 304.0h0.8v0.8h-0.8zM118.9 307.8h0.8v0.8h-0.8zM118.0 290.0h0.8v0.8h-0.8zM118.5 309.5h0.8v0.8h-0.8zM112.7 285.9h0.8v0.8h-0.8zM119.1 310.8h0.8v0.8h-0.8zM117.3 290.7h0.8v0.8h-0.8zM108.7 290.8h0.8v0.8h-0.8zM107.3 287.1h0.8v0.8h-0.8zM102.8 314.1h0.8v0.8h-0.8zM111.2 286.7h0.8v0.8h-0.8zM118.8 300.7h0.8v0.8h-0.8zM108.6 286.2h0.8v0.8h-0.8zM103.8 304.5h0.8v0.8h-0.8zM122.1 293.5h0.8v0.8h-0.8zM108.8 287.4h0.8v0.8h-0.8zM107.2 290.4h0.8v0.8h-0.8zM116.4 288.2h0.8v0.8h-0.8zM106.7 286.7h0.8v0.8h-0.8zM105.9 288.9h0.8v0.8h-0.8zM121.1 314.4h0.8v0.8h-0.8zM123.0 291.3h0.8v0.8h-0.8zM120.2 289.6h0.8v0.8h-0.8zM111.5 289.5h0.8v0.8h-0.8zM119.0 290.8h0.8v0.8h-0.8zM116.0 288.4h0.8v0.8h-0.8zM111.9 288.7h0.8v0.8h-0.8zM103.9 301.4h0.8v0.8h-0.8zM111.9 287.4h0.8v0.8h-0.8zM102.7 301.2h0.8v0.8h-0.8zM102.5 312.0h0.8v0.8h-0.8zM113.6 290.1h0.8v0.8h-0.8zM119.6 296.7h0.8v0.8h-0.8zM119.8 307.7h0.8v0.8h-0.8zM112.2 283.3h0.8v0.8h-0.8zM107.9 287.5h0.8v0.8h-0.8zM110.8 290.5h0.8v0.8h-0.8zM107.0 287.9h0.8v0.8h-0.8zM118.7 292.8h0.8v0.8h-0.8zM114.0 285.7h0.8v0.8h-0.8zM111.2 288.8h0.8v0.8h-0.8zM107.2 290.5h0.8v0.8h-0.8zM106.3 288.9h0.8v0.8h-0.8zM109.9 290.6h0.8v0.8h-0.8zM108.9 289.1h0.8v0.8h-0.8zM116.6 290.2h0.8v0.8h-0.8zM119.2 313.5h0.8v0.8h-0.8zM109.8 288.2h0.8v0.8h-0.8zM110.6 290.5h0.8v0.8h-0.8zM114.6 290.0h0.8v0.8h-0.8zM110.7 290.1h0.8v0.8h-0.8zM118.5 299.4h0.8v0.8h-0.8zM119.6 315.1h0.8v0.8h-0.8zM112.9 289.3h0.8v0.8h-0.8zM111.2 288.0h0.8v0.8h-0.8z" fill="#000"/>
<path d="M103.6 293.6h0.6v0.6h-0.6zM112.7 286.0h0.6v0.6h-0.6zM115.4 284.4h0.6v0.6h-0.6zM121.7 290.3h0.6v0.6h-0.6zM110.9 291.0h0.6v0.6h-0.6zM105.7 290.1h0.6v0.6h-0.6zM115.9 291.8h0.6v0.6h-0.6zM113.7 284.4h0.6v0.6h-0.6zM112.7 283.3h0.6v0.6h-0.6zM112.3 286.0h0.6v0.6h-0.6zM107.8 291.1h0.6v0.6h-0.6zM120.6 293.7h0.6v0.6h-0.6zM109.7 286.8h0.6v0.6h-0.6zM107.0 286.2h0.6v0.6h-0.6zM112.0 289.9h0.6v0.6h-0.6zM109.3 288.3h0.6v0.6h-0.6zM106.0 286.4h0.6v0.6h-0.6zM117.4 293.1h0.6v0.6h-0.6zM113.7 288.5h0.6v0.6h-0.6zM112.3 285.7h0.6v0.6h-0.6zM105.9 290.1h0.6v0.6h-0.6zM106.2 289.6h0.6v0.6h-0.6zM105.8 287.9h0.6v0.6h-0.6zM118.7 290.3h0.6v0.6h-0.6zM110.7 289.1h0.6v0.6h-0.6zM104.1 291.5h0.6v0.6h-0.6zM107.6 285.2h0.6v0.6h-0.6zM107.9 288.3h0.6v0.6h-0.6zM107.9 285.8h0.6v0.6h-0.6zM113.2 288.7h0.6v0.6h-0.6zM116.7 290.9h0.6v0.6h-0.6zM116.6 284.0h0.6v0.6h-0.6zM111.5 289.9h0.6v0.6h-0.6zM115.1 287.0h0.6v0.6h-0.6zM113.9 292.0h0.6v0.6h-0.6zM106.9 285.0h0.6v0.6h-0.6zM107.3 288.9h0.6v0.6h-0.6zM106.0 288.1h0.6v0.6h-0.6zM108.9 284.5h0.6v0.6h-0.6zM102.9 296.1h0.6v0.6h-0.6zM116.8 291.8h0.6v0.6h-0.6zM103.9 291.1h0.6v0.6h-0.6zM109.5 283.6h0.6v0.6h-0.6zM108.5 286.4h0.6v0.6h-0.6zM118.4 288.6h0.6v0.6h-0.6zM110.9 289.7h0.6v0.6h-0.6zM113.3 283.7h0.6v0.6h-0.6zM116.3 288.9h0.6v0.6h-0.6zM115.7 294.0h0.6v0.6h-0.6zM109.6 296.2h0.6v0.6h-0.6zM109.6 287.1h0.6v0.6h-0.6zM110.2 286.1h0.6v0.6h-0.6zM108.6 290.1h0.6v0.6h-0.6zM116.0 290.6h0.6v0.6h-0.6zM109.9 285.7h0.6v0.6h-0.6zM102.5 285.8h0.6v0.6h-0.6zM113.2 286.7h0.6v0.6h-0.6zM119.9 291.5h0.6v0.6h-0.6zM109.7 289.9h0.6v0.6h-0.6zM112.1 285.4h0.6v0.6h-0.6zM109.6 282.7h0.6v0.6h-0.6zM109.7 291.8h0.6v0.6h-0.6zM109.0 294.1h0.6v0.6h-0.6zM110.2 290.7h0.6v0.6h-0.6zM113.3 285.8h0.6v0.6h-0.6zM106.0 289.6h0.6v0.6h-0.6zM114.7 288.0h0.6v0.6h-0.6zM110.5 278.1h0.6v0.6h-0.6zM108.2 291.3h0.6v0.6h-0.6zM115.9 289.4h0.6v0.6h-0.6zM107.6 291.2h0.6v0.6h-0.6zM109.8 290.9h0.6v0.6h-0.6zM117.7 284.9h0.6v0.6h-0.6zM109.9 289.0h0.6v0.6h-0.6zM112.9 288.5h0.6v0.6h-0.6zM115.1 291.4h0.6v0.6h-0.6zM108.6 287.8h0.6v0.6h-0.6zM115.8 284.4h0.6v0.6h-0.6zM108.6 280.8h0.6v0.6h-0.6zM107.2 295.0h0.6v0.6h-0.6zM120.7 286.9h0.6v0.6h-0.6zM119.4 289.9h0.6v0.6h-0.6zM113.1 287.8h0.6v0.6h-0.6zM116.5 283.2h0.6v0.6h-0.6zM117.9 289.1h0.6v0.6h-0.6zM111.4 282.2h0.6v0.6h-0.6zM122.1 291.3h0.6v0.6h-0.6zM112.7 288.7h0.6v0.6h-0.6zM115.9 286.7h0.6v0.6h-0.6zM113.0 291.2h0.6v0.6h-0.6zM108.5 286.1h0.6v0.6h-0.6zM116.8 285.3h0.6v0.6h-0.6zM107.7 290.2h0.6v0.6h-0.6zM120.8 294.8h0.6v0.6h-0.6zM107.3 295.7h0.6v0.6h-0.6zM105.6 286.9h0.6v0.6h-0.6zM113.4 291.7h0.6v0.6h-0.6zM115.0 290.2h0.6v0.6h-0.6zM103.2 282.8h0.6v0.6h-0.6z" fill="#000"/>
<path d="M129.9 312.7h0.8v0.8h-0.8zM146.8 314.2h0.8v0.8h-0.8zM128.1 314.0h0.8v0.8h-0.8zM124.1 311.4h0.8v0.8h-0.8zM130.1 312.0h0.8v0.8h-0.8zM131.7 312.5h0.8v0.8h-0.8zM116.7 310.0h0.8v0.8h-0.8zM122.1 308.4h0.8v0.8h-0.8zM126.5 312.3h0.8v0.8h-0.8zM132.4 311.0h0.8v0.8h-0.8zM125.7 314.3h0.8v0.8h-0.8zM131.3 310.6h0.8v0.8h-0.8zM135.8 311.6h0.8v0.8h-0.8zM133.9 312.3h0.8v0.8h-0.8zM124.6 310.1h0.8v0.8h-0.8zM123.3 316.5h0.8v0.8h-0.8zM134.7 312.1h0.8v0.8h-0.8zM133.4 316.2h0.8v0.8h-0.8zM125.3 311.8h0.8v0.8h-0.8zM133.5 313.8h0.8v0.8h-0.8zM139.3 314.0h0.8v0.8h-0.8zM120.4 312.9h0.8v0.8h-0.8zM120.2 314.7h0.8v0.8h-0.8zM131.1 312.1h0.8v0.8h-0.8zM121.9 315.1h0.8v0.8h-0.8zM124.8 315.8h0.8v0.8h-0.8zM121.4 312.4h0.8v0.8h-0.8zM123.9 310.6h0.8v0.8h-0.8zM123.4 314.8h0.8v0.8h-0.8zM116.6 315.9h0.8v0.8h-0.8zM133.3 312.2h0.8v0.8h-0.8zM125.0 313.6h0.8v0.8h-0.8zM129.7 312.2h0.8v0.8h-0.8zM122.1 312.4h0.8v0.8h-0.8zM124.6 314.8h0.8v0.8h-0.8zM127.5 313.6h0.8v0.8h-0.8zM117.4 312.1h0.8v0.8h-0.8zM124.8 311.8h0.8v0.8h-0.8zM126.4 312.3h0.8v0.8h-0.8zM118.3 315.2h0.8v0.8h-0.8zM132.4 311.8h0.8v0.8h-0.8zM130.7 310.9h0.8v0.8h-0.8zM119.8 312.6h0.8v0.8h-0.8zM136.1 312.8h0.8v0.8h-0.8zM118.3 313.6h0.8v0.8h-0.8zM123.8 311.4h0.8v0.8h-0.8zM129.2 309.0h0.8v0.8h-0.8zM116.8 309.7h0.8v0.8h-0.8zM133.4 313.3h0.8v0.8h-0.8zM123.7 311.5h0.8v0.8h-0.8zM131.0 316.0h0.8v0.8h-0.8zM123.0 313.7h0.8v0.8h-0.8zM140.9 314.5h0.8v0.8h-0.8zM125.3 313.9h0.8v0.8h-0.8zM127.9 314.7h0.8v0.8h-0.8zM129.3 312.0h0.8v0.8h-0.8zM126.6 314.0h0.8v0.8h-0.8zM123.3 313.3h0.8v0.8h-0.8zM122.0 316.0h0.8v0.8h-0.8zM136.3 311.1h0.8v0.8h-0.8zM132.2 313.5h0.8v0.8h-0.8zM127.8 312.5h0.8v0.8h-0.8zM128.8 315.4h0.8v0.8h-0.8zM120.2 315.5h0.8v0.8h-0.8zM125.8 310.6h0.8v0.8h-0.8zM127.0 314.6h0.8v0.8h-0.8zM126.8 313.8h0.8v0.8h-0.8zM125.4 311.9h0.8v0.8h-0.8zM133.1 311.0h0.8v0.8h-0.8zM133.1 313.9h0.8v0.8h-0.8zM125.7 312.6h0.8v0.8h-0.8zM125.7 313.0h0.8v0.8h-0.8zM127.1 312.8h0.8v0.8h-0.8zM116.2 308.3h0.8v0.8h-0.8zM129.3 311.7h0.8v0.8h-0.8zM124.1 312.7h0.8v0.8h-0.8zM121.0 316.7h0.8v0.8h-0.8zM127.3 312.7h0.8v0.8h-0.8zM121.3 315.2h0.8v0.8h-0.8zM131.5 316.5h0.8v0.8h-0.8zM132.5 311.3h0.8v0.8h-0.8zM120.1 316.3h0.8v0.8h-0.8zM123.5 312.9h0.8v0.8h-0.8zM126.4 314.3h0.8v0.8h-0.8zM130.5 310.8h0.8v0.8h-0.8zM123.7 309.2h0.8v0.8h-0.8zM130.5 312.8h0.8v0.8h-0.8zM117.7 315.5h0.8v0.8h-0.8zM127.4 310.8h0.8v0.8h-0.8zM125.0 311.8h0.8v0.8h-0.8zM127.9 313.6h0.8v0.8h-0.8zM124.1 314.1h0.8v0.8h-0.8zM112.6 312.4h0.8v0.8h-0.8zM131.0 315.3h0.8v0.8h-0.8zM131.9 310.8h0.8v0.8h-0.8zM117.7 312.4h0.8v0.8h-0.8zM140.3 313.7h0.8v0.8h-0.8zM123.1 309.3h0.8v0.8h-0.8zM128.1 312.1h0.8v0.8h-0.8zM130.2 313.6h0.8v0.8h-0.8zM114.0 312.8h0.8v0.8h-0.8zM131.8 311.8h0.8v0.8h-0.8zM120.5 310.5h0.8v0.8h-0.8zM135.3 311.7h0.8v0.8h-0.8zM135.0 310.7h0.8v0.8h-0.8zM124.2 311.4h0.8v0.8h-0.8zM126.2 314.6h0.8v0.8h-0.8zM138.7 314.8h0.8v0.8h-0.8zM126.6 313.5h0.8v0.8h-0.8zM126.0 313.9h0.8v0.8h-0.8zM122.3 313.7h0.8v0.8h-0.8zM129.8 315.2h0.8v0.8h-0.8zM122.6 314.0h0.8v0.8h-0.8zM128.8 311.3h0.8v0.8h-0.8zM116.1 311.8h0.8v0.8h-0.8zM132.2 312.5h0.8v0.8h-0.8zM140.0 314.4h0.8v0.8h-0.8zM123.2 312.9h0.8v0.8h-0.8zM129.8 314.2h0.8v0.8h-0.8zM125.9 314.1h0.8v0.8h-0.8zM143.9 315.1h0.8v0.8h-0.8zM128.2 312.0h0.8v0.8h-0.8zM117.2 313.5h0.8v0.8h-0.8zM124.9 313.0h0.8v0.8h-0.8zM124.1 314.8h0.8v0.8h-0.8zM133.2 311.5h0.8v0.8h-0.8zM119.5 313.8h0.8v0.8h-0.8zM135.0 314.0h0.8v0.8h-0.8zM129.9 309.9h0.8v0.8h-0.8zM124.1 314.4h0.8v0.8h-0.8zM129.3 313.1h0.8v0.8h-0.8zM130.4 315.0h0.8v0.8h-0.8zM127.7 311.5h0.8v0.8h-0.8zM119.3 313.5h0.8v0.8h-0.8zM126.2 312.7h0.8v0.8h-0.8zM133.4 311.6h0.8v0.8h-0.8zM125.7 314.5h0.8v0.8h-0.8zM122.2 308.3h0.8v0.8h-0.8zM124.1 314.9h0.8v0.8h-0.8zM123.8 312.5h0.8v0.8h-0.8zM116.8 315.7h0.8v0.8h-0.8zM117.4 311.6h0.8v0.8h-0.8zM127.8 311.5h0.8v0.8h-0.8zM118.8 312.4h0.8v0.8h-0.8zM120.3 311.7h0.8v0.8h-0.8zM127.4 315.8h0.8v0.8h-0.8zM121.0 316.1h0.8v0.8h-0.8zM123.5 312.2h0.8v0.8h-0.8zM124.5 313.6h0.8v0.8h-0.8zM126.9 312.3h0.8v0.8h-0.8zM123.3 311.8h0.8v0.8h-0.8zM127.5 311.9h0.8v0.8h-0.8zM123.3 309.8h0.8v0.8h-0.8zM127.3 314.2h0.8v0.8h-0.8zM121.5 315.3h0.8v0.8h-0.8zM126.9 313.3h0.8v0.8h-0.8zM117.7 314.4h0.8v0.8h-0.8zM123.8 312.9h0.8v0.8h-0.8zM131.3 314.2h0.8v0.8h-0.8zM123.6 313.2h0.8v0.8h-0.8zM132.6 314.3h0.8v0.8h-0.8zM126.8 315.4h0.8v0.8h-0.8zM118.9 314.0h0.8v0.8h-0.8zM123.5 312.3h0.8v0.8h-0.8zM129.7 313.4h0.8v0.8h-0.8zM136.3 314.8h0.8v0.8h-0.8zM114.9 311.7h0.8v0.8h-0.8zM123.5 311.6h0.8v0.8h-0.8zM118.9 314.5h0.8v0.8h-0.8zM125.7 313.4h0.8v0.8h-0.8zM123.1 315.3h0.8v0.8h-0.8zM132.9 311.8h0.8v0.8h-0.8zM133.9 311.1h0.8v0.8h-0.8zM123.9 312.7h0.8v0.8h-0.8zM138.8 311.6h0.8v0.8h-0.8zM121.8 313.6h0.8v0.8h-0.8zM133.8 314.4h0.8v0.8h-0.8zM130.3 311.3h0.8v0.8h-0.8zM125.2 315.9h0.8v0.8h-0.8zM127.9 311.7h0.8v0.8h-0.8zM125.4 316.1h0.8v0.8h-0.8zM136.8 314.0h0.8v0.8h-0.8zM123.8 313.4h0.8v0.8h-0.8zM129.7 313.1h0.8v0.8h-0.8zM126.4 316.7h0.8v0.8h-0.8zM129.1 310.0h0.8v0.8h-0.8zM124.1 316.0h0.8v0.8h-0.8zM126.4 310.9h0.8v0.8h-0.8zM132.4 314.2h0.8v0.8h-0.8zM127.6 314.4h0.8v0.8h-0.8zM125.3 313.6h0.8v0.8h-0.8zM130.6 311.9h0.8v0.8h-0.8zM134.2 310.9h0.8v0.8h-0.8zM138.8 313.3h0.8v0.8h-0.8zM129.4 310.5h0.8v0.8h-0.8zM131.7 311.3h0.8v0.8h-0.8zM130.1 313.2h0.8v0.8h-0.8zM128.3 312.0h0.8v0.8h-0.8zM125.4 313.9h0.8v0.8h-0.8zM127.7 315.0h0.8v0.8h-0.8zM124.3 313.6h0.8v0.8h-0.8zM124.8 311.6h0.8v0.8h-0.8zM131.9 311.4h0.8v0.8h-0.8zM118.5 314.6h0.8v0.8h-0.8zM124.6 314.4h0.8v0.8h-0.8zM130.3 314.3h0.8v0.8h-0.8zM127.9 316.6h0.8v0.8h-0.8zM121.7 315.7h0.8v0.8h-0.8zM126.7 313.8h0.8v0.8h-0.8zM125.1 315.1h0.8v0.8h-0.8zM130.1 312.2h0.8v0.8h-0.8zM127.8 314.2h0.8v0.8h-0.8zM130.6 312.3h0.8v0.8h-0.8zM133.0 313.8h0.8v0.8h-0.8zM124.7 312.5h0.8v0.8h-0.8zM118.8 314.9h0.8v0.8h-0.8zM135.8 313.0h0.8v0.8h-0.8zM123.2 309.5h0.8v0.8h-0.8zM120.9 313.2h0.8v0.8h-0.8zM124.0 312.9h0.8v0.8h-0.8zM122.9 312.9h0.8v0.8h-0.8zM126.3 313.6h0.8v0.8h-0.8zM128.0 313.6h0.8v0.8h-0.8zM123.1 312.6h0.8v0.8h-0.8zM120.9 312.1h0.8v0.8h-0.8zM127.3 314.1h0.8v0.8h-0.8zM120.2 311.1h0.8v0.8h-0.8zM124.6 310.6h0.8v0.8h-0.8zM125.9 312.8h0.8v0.8h-0.8zM125.2 313.7h0.8v0.8h-0.8zM117.8 315.0h0.8v0.8h-0.8zM129.2 313.6h0.8v0.8h-0.8zM115.8 313.0h0.8v0.8h-0.8zM123.8 314.1h0.8v0.8h-0.8zM127.3 312.0h0.8v0.8h-0.8zM124.9 315.9h0.8v0.8h-0.8zM133.4 309.5h0.8v0.8h-0.8zM125.0 314.5h0.8v0.8h-0.8zM125.2 313.8h0.8v0.8h-0.8zM131.3 312.8h0.8v0.8h-0.8zM135.1 314.6h0.8v0.8h-0.8zM136.6 312.2h0.8v0.8h-0.8zM119.3 314.9h0.8v0.8h-0.8zM127.6 309.4h0.8v0.8h-0.8zM106.6 313.4h0.8v0.8h-0.8zM127.8 311.4h0.8v0.8h-0.8zM124.8 313.4h0.8v0.8h-0.8zM119.8 315.9h0.8v0.8h-0.8zM120.3 313.2h0.8v0.8h-0.8zM127.4 312.1h0.8v0.8h-0.8zM123.2 315.0h0.8v0.8h-0.8zM118.6 313.1h0.8v0.8h-0.8zM136.1 311.5h0.8v0.8h-0.8zM119.0 312.1h0.8v0.8h-0.8zM111.4 311.5h0.8v0.8h-0.8zM120.9 311.3h0.8v0.8h-0.8zM122.4 314.4h0.8v0.8h-0.8zM127.5 310.9h0.8v0.8h-0.8zM134.3 311.0h0.8v0.8h-0.8zM135.3 312.0h0.8v0.8h-0.8zM122.2 312.1h0.8v0.8h-0.8zM135.0 313.4h0.8v0.8h-0.8zM127.1 309.5h0.8v0.8h-0.8zM127.1 312.4h0.8v0.8h-0.8zM125.2 311.4h0.8v0.8h-0.8zM118.5 315.9h0.8v0.8h-0.8zM121.9 314.4h0.8v0.8h-0.8zM130.3 313.4h0.8v0.8h-0.8zM127.9 314.5h0.8v0.8h-0.8zM125.3 312.9h0.8v0.8h-0.8zM129.0 313.5h0.8v0.8h-0.8zM125.5 307.2h0.8v0.8h-0.8zM127.0 310.4h0.8v0.8h-0.8zM133.6 315.8h0.8v0.8h-0.8zM128.5 313.6h0.8v0.8h-0.8zM116.1 312.7h0.8v0.8h-0.8zM126.2 308.6h0.8v0.8h-0.8zM137.1 312.6h0.8v0.8h-0.8zM129.2 315.5h0.8v0.8h-0.8zM118.5 312.0h0.8v0.8h-0.8zM127.9 315.9h0.8v0.8h-0.8zM126.3 314.4h0.8v0.8h-0.8zM117.6 314.2h0.8v0.8h-0.8zM122.1 312.3h0.8v0.8h-0.8zM127.8 315.1h0.8v0.8h-0.8zM123.5 314.0h0.8v0.8h-0.8zM125.5 314.5h0.8v0.8h-0.8zM124.8 316.2h0.8v0.8h-0.8zM121.5 310.8h0.8v0.8h-0.8zM134.2 311.5h0.8v0.8h-0.8zM130.8 314.6h0.8v0.8h-0.8zM118.0 312.4h0.8v0.8h-0.8zM124.6 312.8h0.8v0.8h-0.8zM119.1 313.5h0.8v0.8h-0.8zM128.3 310.7h0.8v0.8h-0.8zM127.3 313.6h0.8v0.8h-0.8zM117.8 312.9h0.8v0.8h-0.8zM132.1 314.7h0.8v0.8h-0.8zM121.2 311.4h0.8v0.8h-0.8zM127.3 314.0h0.8v0.8h-0.8zM131.7 313.3h0.8v0.8h-0.8zM131.6 311.6h0.8v0.8h-0.8zM137.2 312.7h0.8v0.8h-0.8zM121.9 311.8h0.8v0.8h-0.8zM117.3 311.4h0.8v0.8h-0.8zM125.4 314.1h0.8v0.8h-0.8zM133.2 311.2h0.8v0.8h-0.8zM123.0 314.5h0.8v0.8h-0.8zM132.7 314.7h0.8v0.8h-0.8zM128.5 310.5h0.8v0.8h-0.8zM124.1 309.6h0.8v0.8h-0.8zM123.2 315.7h0.8v0.8h-0.8zM135.6 312.4h0.8v0.8h-0.8zM130.3 316.0h0.8v0.8h-0.8zM121.2 310.0h0.8v0.8h-0.8zM123.4 308.4h0.8v0.8h-0.8zM130.7 312.8h0.8v0.8h-0.8zM125.3 313.1h0.8v0.8h-0.8zM129.6 312.9h0.8v0.8h-0.8zM120.2 314.4h0.8v0.8h-0.8zM124.0 313.6h0.8v0.8h-0.8zM123.1 313.0h0.8v0.8h-0.8zM118.3 313.2h0.8v0.8h-0.8zM125.2 315.3h0.8v0.8h-0.8zM122.4 311.0h0.8v0.8h-0.8zM130.6 308.6h0.8v0.8h-0.8zM130.2 312.7h0.8v0.8h-0.8zM124.3 313.1h0.8v0.8h-0.8zM125.2 310.9h0.8v0.8h-0.8zM130.7 310.9h0.8v0.8h-0.8zM127.4 312.5h0.8v0.8h-0.8zM122.7 311.5h0.8v0.8h-0.8zM128.3 312.1h0.8v0.8h-0.8zM134.1 314.8h0.8v0.8h-0.8z" fill="#000"/>
<path d="M151.4 291.3h0.6v0.6h-0.6zM135.8 296.8h0.6v0.6h-0.6zM125.5 294.8h0.6v0.6h-0.6zM128.6 297.9h0.6v0.6h-0.6zM136.3 305.1h0.6v0.6h-0.6zM134.7 305.5h0.6v0.6h-0.6zM136.6 298.9h0.6v0.6h-0.6zM130.8 291.9h0.6v0.6h-0.6zM119.2 297.7h0.6v0.6h-0.6zM131.1 300.2h0.6v0.6h-0.6zM135.3 290.0h0.6v0.6h-0.6zM126.5 290.9h0.6v0.6h-0.6zM140.9 297.4h0.6v0.6h-0.6zM133.5 292.3h0.6v0.6h-0.6zM121.8 294.3h0.6v0.6h-0.6zM131.6 301.0h0.6v0.6h-0.6zM119.7 300.2h0.6v0.6h-0.6zM125.2 294.7h0.6v0.6h-0.6zM129.6 295.3h0.6v0.6h-0.6zM136.3 303.7h0.6v0.6h-0.6zM135.3 294.6h0.6v0.6h-0.6zM135.9 300.4h0.6v0.6h-0.6zM139.6 299.8h0.6v0.6h-0.6zM118.9 293.2h0.6v0.6h-0.6zM129.0 304.0h0.6v0.6h-0.6zM131.3 303.9h0.6v0.6h-0.6zM134.8 290.4h0.6v0.6h-0.6zM132.8 301.6h0.6v0.6h-0.6zM135.8 288.5h0.6v0.6h-0.6zM136.0 294.3h0.6v0.6h-0.6zM114.7 294.4h0.6v0.6h-0.6zM115.9 289.9h0.6v0.6h-0.6zM144.5 313.8h0.6v0.6h-0.6zM141.3 300.8h0.6v0.6h-0.6zM148.3 300.2h0.6v0.6h-0.6zM124.2 282.3h0.6v0.6h-0.6zM140.0 283.6h0.6v0.6h-0.6zM108.4 293.8h0.6v0.6h-0.6zM133.0 292.5h0.6v0.6h-0.6zM141.2 297.5h0.6v0.6h-0.6zM134.2 300.9h0.6v0.6h-0.6zM127.5 299.4h0.6v0.6h-0.6zM152.0 292.0h0.6v0.6h-0.6zM133.8 301.5h0.6v0.6h-0.6zM127.9 297.8h0.6v0.6h-0.6zM118.0 295.3h0.6v0.6h-0.6zM132.8 305.3h0.6v0.6h-0.6zM140.5 294.4h0.6v0.6h-0.6zM123.1 310.0h0.6v0.6h-0.6zM140.0 285.8h0.6v0.6h-0.6zM129.7 292.3h0.6v0.6h-0.6zM127.4 287.0h0.6v0.6h-0.6zM129.0 294.8h0.6v0.6h-0.6zM130.6 304.9h0.6v0.6h-0.6zM134.5 290.3h0.6v0.6h-0.6zM117.9 294.7h0.6v0.6h-0.6zM142.3 304.3h0.6v0.6h-0.6zM127.6 305.7h0.6v0.6h-0.6zM136.3 294.3h0.6v0.6h-0.6zM136.3 297.7h0.6v0.6h-0.6zM123.2 295.4h0.6v0.6h-0.6zM134.0 306.8h0.6v0.6h-0.6zM123.9 299.8h0.6v0.6h-0.6zM132.9 297.9h0.6v0.6h-0.6zM122.3 306.5h0.6v0.6h-0.6zM143.7 308.7h0.6v0.6h-0.6zM136.7 307.9h0.6v0.6h-0.6zM137.3 304.8h0.6v0.6h-0.6zM129.9 299.8h0.6v0.6h-0.6zM130.0 291.4h0.6v0.6h-0.6zM129.0 291.0h0.6v0.6h-0.6zM123.2 295.8h0.6v0.6h-0.6zM127.6 311.8h0.6v0.6h-0.6zM147.9 305.4h0.6v0.6h-0.6zM139.5 292.7h0.6v0.6h-0.6zM135.1 288.9h0.6v0.6h-0.6zM127.4 295.2h0.6v0.6h-0.6zM129.7 304.0h0.6v0.6h-0.6zM126.1 314.1h0.6v0.6h-0.6zM128.4 303.9h0.6v0.6h-0.6zM119.3 304.3h0.6v0.6h-0.6zM122.3 299.7h0.6v0.6h-0.6zM132.8 303.7h0.6v0.6h-0.6zM138.0 300.9h0.6v0.6h-0.6zM131.6 311.2h0.6v0.6h-0.6zM128.9 298.5h0.6v0.6h-0.6zM128.8 299.3h0.6v0.6h-0.6zM124.6 295.7h0.6v0.6h-0.6zM137.1 294.6h0.6v0.6h-0.6zM136.8 294.5h0.6v0.6h-0.6zM145.0 297.5h0.6v0.6h-0.6zM147.9 301.6h0.6v0.6h-0.6zM131.7 304.6h0.6v0.6h-0.6zM142.8 308.4h0.6v0.6h-0.6zM144.7 304.2h0.6v0.6h-0.6zM122.8 304.5h0.6v0.6h-0.6zM132.1 301.0h0.6v0.6h-0.6zM143.7 293.7h0.6v0.6h-0.6zM144.2 314.1h0.6v0.6h-0.6zM137.6 296.3h0.6v0.6h-0.6zM144.6 299.6h0.6v0.6h-0.6zM141.8 306.6h0.6v0.6h-0.6zM119.9 300.5h0.6v0.6h-0.6zM119.8 293.8h0.6v0.6h-0.6zM138.0 290.5h0.6v0.6h-0.6zM126.7 295.4h0.6v0.6h-0.6zM135.5 300.6h0.6v0.6h-0.6zM136.6 295.0h0.6v0.6h-0.6zM126.4 301.0h0.6v0.6h-0.6zM125.3 293.0h0.6v0.6h-0.6zM138.8 293.1h0.6v0.6h-0.6zM125.0 305.7h0.6v0.6h-0.6zM132.4 283.7h0.6v0.6h-0.6zM126.3 311.0h0.6v0.6h-0.6zM157.0 296.3h0.6v0.6h-0.6zM138.7 303.1h0.6v0.6h-0.6zM135.4 286.4h0.6v0.6h-0.6zM141.3 300.1h0.6v0.6h-0.6zM130.7 287.7h0.6v0.6h-0.6zM127.3 297.5h0.6v0.6h-0.6zM130.5 299.7h0.6v0.6h-0.6zM129.4 304.8h0.6v0.6h-0.6zM138.0 290.7h0.6v0.6h-0.6zM127.5 301.0h0.6v0.6h-0.6zM127.9 307.4h0.6v0.6h-0.6zM128.1 299.8h0.6v0.6h-0.6zM137.8 290.8h0.6v0.6h-0.6zM143.3 296.9h0.6v0.6h-0.6zM126.6 293.7h0.6v0.6h-0.6zM118.2 289.3h0.6v0.6h-0.6zM145.4 297.4h0.6v0.6h-0.6zM130.2 299.5h0.6v0.6h-0.6zM137.5 293.0h0.6v0.6h-0.6zM130.8 300.0h0.6v0.6h-0.6zM141.3 299.9h0.6v0.6h-0.6zM146.8 296.8h0.6v0.6h-0.6zM129.8 289.2h0.6v0.6h-0.6zM132.3 302.4h0.6v0.6h-0.6zM130.5 297.1h0.6v0.6h-0.6zM124.3 294.4h0.6v0.6h-0.6zM128.8 297.6h0.6v0.6h-0.6zM141.8 301.5h0.6v0.6h-0.6zM140.4 305.9h0.6v0.6h-0.6zM128.7 306.9h0.6v0.6h-0.6zM133.0 289.6h0.6v0.6h-0.6zM127.5 297.7h0.6v0.6h-0.6zM119.5 313.2h0.6v0.6h-0.6zM132.2 303.8h0.6v0.6h-0.6zM122.3 298.8h0.6v0.6h-0.6zM134.8 293.2h0.6v0.6h-0.6zM134.8 298.2h0.6v0.6h-0.6zM135.8 290.3h0.6v0.6h-0.6zM137.0 296.3h0.6v0.6h-0.6zM125.3 283.9h0.6v0.6h-0.6zM130.9 295.7h0.6v0.6h-0.6zM152.8 290.3h0.6v0.6h-0.6zM145.2 306.3h0.6v0.6h-0.6zM136.1 299.8h0.6v0.6h-0.6zM136.8 288.5h0.6v0.6h-0.6zM144.6 296.1h0.6v0.6h-0.6zM126.2 298.1h0.6v0.6h-0.6zM109.2 289.5h0.6v0.6h-0.6zM122.5 287.9h0.6v0.6h-0.6zM137.5 308.5h0.6v0.6h-0.6zM132.6 296.0h0.6v0.6h-0.6zM135.3 294.8h0.6v0.6h-0.6zM133.6 300.8h0.6v0.6h-0.6zM130.5 295.4h0.6v0.6h-0.6zM133.1 298.5h0.6v0.6h-0.6zM138.2 288.3h0.6v0.6h-0.6zM123.0 294.9h0.6v0.6h-0.6zM136.6 289.7h0.6v0.6h-0.6zM142.7 307.4h0.6v0.6h-0.6zM126.2 305.3h0.6v0.6h-0.6zM114.7 297.4h0.6v0.6h-0.6zM118.7 305.0h0.6v0.6h-0.6zM139.6 301.3h0.6v0.6h-0.6zM127.4 290.6h0.6v0.6h-0.6zM135.9 294.6h0.6v0.6h-0.6zM138.1 287.6h0.6v0.6h-0.6zM135.9 301.3h0.6v0.6h-0.6zM112.9 289.6h0.6v0.6h-0.6zM126.2 294.0h0.6v0.6h-0.6zM117.5 298.0h0.6v0.6h-0.6zM122.6 297.4h0.6v0.6h-0.6zM116.6 290.2h0.6v0.6h-0.6zM138.1 286.7h0.6v0.6h-0.6zM131.8 307.3h0.6v0.6h-0.6zM139.0 289.2h0.6v0.6h-0.6zM151.0 294.2h0.6v0.6h-0.6zM140.0 304.1h0.6v0.6h-0.6zM129.4 301.9h0.6v0.6h-0.6zM108.6 298.4h0.6v0.6h-0.6zM133.4 295.5h0.6v0.6h-0.6zM133.1 304.7h0.6v0.6h-0.6zM140.1 293.7h0.6v0.6h-0.6zM138.8 305.4h0.6v0.6h-0.6zM133.0 300.3h0.6v0.6h-0.6zM111.2 287.5h0.6v0.6h-0.6zM135.2 288.0h0.6v0.6h-0.6zM139.3 305.3h0.6v0.6h-0.6zM123.6 290.2h0.6v0.6h-0.6zM130.3 299.2h0.6v0.6h-0.6zM139.0 296.3h0.6v0.6h-0.6zM132.3 291.3h0.6v0.6h-0.6zM134.4 292.7h0.6v0.6h-0.6zM140.5 302.3h0.6v0.6h-0.6zM118.0 299.9h0.6v0.6h-0.6zM122.6 304.0h0.6v0.6h-0.6zM123.2 305.9h0.6v0.6h-0.6zM141.0 310.4h0.6v0.6h-0.6zM134.7 298.0h0.6v0.6h-0.6zM142.3 289.7h0.6v0.6h-0.6zM131.6 295.6h0.6v0.6h-0.6zM131.4 287.4h0.6v0.6h-0.6zM117.6 286.6h0.6v0.6h-0.6zM144.4 295.5h0.6v0.6h-0.6zM137.2 296.9h0.6v0.6h-0.6zM129.9 306.1h0.6v0.6h-0.6zM112.2 296.2h0.6v0.6h-0.6zM125.2 291.7h0.6v0.6h-0.6zM118.2 287.7h0.6v0.6h-0.6zM121.7 304.7h0.6v0.6h-0.6zM126.0 294.6h0.6v0.6h-0.6zM130.4 301.7h0.6v0.6h-0.6zM140.7 298.9h0.6v0.6h-0.6zM131.9 301.0h0.6v0.6h-0.6zM125.1 299.1h0.6v0.6h-0.6zM146.2 293.4h0.6v0.6h-0.6zM124.6 287.7h0.6v0.6h-0.6zM132.3 301.7h0.6v0.6h-0.6zM128.3 295.5h0.6v0.6h-0.6zM141.9 297.9h0.6v0.6h-0.6zM137.8 295.3h0.6v0.6h-0.6zM142.9 303.6h0.6v0.6h-0.6zM130.7 293.8h0.6v0.6h-0.6zM153.5 290.7h0.6v0.6h-0.6zM123.8 281.6h0.6v0.6h-0.6zM137.8 298.1h0.6v0.6h-0.6zM131.3 287.8h0.6v0.6h-0.6zM132.1 292.6h0.6v0.6h-0.6zM122.1 296.2h0.6v0.6h-0.6zM134.6 296.8h0.6v0.6h-0.6zM127.8 302.5h0.6v0.6h-0.6zM134.1 295.4h0.6v0.6h-0.6zM136.9 299.7h0.6v0.6h-0.6zM139.8 303.1h0.6v0.6h-0.6zM138.3 294.0h0.6v0.6h-0.6zM143.2 304.2h0.6v0.6h-0.6zM127.5 305.8h0.6v0.6h-0.6zM132.9 291.3h0.6v0.6h-0.6zM131.8 289.5h0.6v0.6h-0.6zM141.6 289.7h0.6v0.6h-0.6zM144.5 292.2h0.6v0.6h-0.6zM131.0 306.0h0.6v0.6h-0.6zM135.1 287.2h0.6v0.6h-0.6zM131.0 286.1h0.6v0.6h-0.6zM137.8 291.3h0.6v0.6h-0.6zM131.4 297.0h0.6v0.6h-0.6zM119.4 300.0h0.6v0.6h-0.6zM147.1 292.0h0.6v0.6h-0.6zM127.3 300.2h0.6v0.6h-0.6zM142.4 292.2h0.6v0.6h-0.6zM133.8 300.2h0.6v0.6h-0.6zM141.0 292.6h0.6v0.6h-0.6zM152.9 311.0h0.6v0.6h-0.6zM120.8 292.8h0.6v0.6h-0.6zM135.3 293.8h0.6v0.6h-0.6zM127.8 297.9h0.6v0.6h-0.6zM126.1 294.0h0.6v0.6h-0.6zM134.0 295.4h0.6v0.6h-0.6zM135.3 304.7h0.6v0.6h-0.6zM141.7 298.6h0.6v0.6h-0.6zM149.6 295.5h0.6v0.6h-0.6zM139.8 309.6h0.6v0.6h-0.6zM134.0 303.3h0.6v0.6h-0.6zM128.4 294.4h0.6v0.6h-0.6zM134.1 301.1h0.6v0.6h-0.6zM135.5 302.3h0.6v0.6h-0.6zM135.1 297.5h0.6v0.6h-0.6zM127.3 297.4h0.6v0.6h-0.6zM132.9 298.0h0.6v0.6h-0.6zM123.4 306.2h0.6v0.6h-0.6zM141.6 299.6h0.6v0.6h-0.6zM128.5 305.1h0.6v0.6h-0.6zM130.6 296.6h0.6v0.6h-0.6zM137.5 294.7h0.6v0.6h-0.6zM133.6 295.1h0.6v0.6h-0.6zM137.6 300.9h0.6v0.6h-0.6zM138.5 301.0h0.6v0.6h-0.6zM135.3 300.6h0.6v0.6h-0.6zM139.2 292.1h0.6v0.6h-0.6zM122.9 298.7h0.6v0.6h-0.6zM134.0 296.6h0.6v0.6h-0.6zM145.1 301.2h0.6v0.6h-0.6zM143.1 298.8h0.6v0.6h-0.6zM121.3 289.6h0.6v0.6h-0.6zM141.6 298.5h0.6v0.6h-0.6zM128.7 306.4h0.6v0.6h-0.6zM146.9 300.7h0.6v0.6h-0.6zM143.3 296.3h0.6v0.6h-0.6zM124.9 287.8h0.6v0.6h-0.6zM141.7 288.5h0.6v0.6h-0.6zM129.4 298.7h0.6v0.6h-0.6zM137.5 286.5h0.6v0.6h-0.6zM130.8 293.1h0.6v0.6h-0.6zM144.7 297.1h0.6v0.6h-0.6zM127.3 309.0h0.6v0.6h-0.6zM134.0 303.3h0.6v0.6h-0.6zM135.4 297.3h0.6v0.6h-0.6zM138.8 293.7h0.6v0.6h-0.6zM121.3 294.1h0.6v0.6h-0.6zM137.9 295.9h0.6v0.6h-0.6zM141.5 302.8h0.6v0.6h-0.6zM134.4 305.2h0.6v0.6h-0.6zM135.8 300.3h0.6v0.6h-0.6zM130.5 297.6h0.6v0.6h-0.6zM132.1 304.9h0.6v0.6h-0.6zM145.7 305.1h0.6v0.6h-0.6zM134.8 297.5h0.6v0.6h-0.6zM134.8 294.7h0.6v0.6h-0.6zM132.6 296.2h0.6v0.6h-0.6zM132.4 283.4h0.6v0.6h-0.6zM132.7 302.4h0.6v0.6h-0.6zM123.9 309.4h0.6v0.6h-0.6zM133.9 294.8h0.6v0.6h-0.6zM144.4 292.3h0.6v0.6h-0.6zM155.0 293.9h0.6v0.6h-0.6zM140.5 307.3h0.6v0.6h-0.6zM138.5 299.1h0.6v0.6h-0.6zM127.0 297.4h0.6v0.6h-0.6zM134.6 304.5h0.6v0.6h-0.6zM114.6 302.2h0.6v0.6h-0.6zM123.5 294.5h0.6v0.6h-0.6zM131.9 294.4h0.6v0.6h-0.6zM137.7 288.1h0.6v0.6h-0.6zM136.7 292.0h0.6v0.6h-0.6zM129.8 297.8h0.6v0.6h-0.6zM121.2 300.9h0.6v0.6h-0.6zM150.2 294.2h0.6v0.6h-0.6zM125.4 307.8h0.6v0.6h-0.6zM146.4 285.5h0.6v0.6h-0.6zM129.8 293.2h0.6v0.6h-0.6zM134.1 297.7h0.6v0.6h-0.6zM124.4 295.5h0.6v0.6h-0.6zM141.8 292.4h0.6v0.6h-0.6zM134.6 302.2h0.6v0.6h-0.6zM146.8 300.9h0.6v0.6h-0.6zM134.7 292.4h0.6v0.6h-0.6zM134.8 306.7h0.6v0.6h-0.6zM136.5 306.0h0.6v0.6h-0.6zM128.9 303.2h0.6v0.6h-0.6zM130.7 293.9h0.6v0.6h-0.6zM127.6 305.8h0.6v0.6h-0.6zM137.5 297.2h0.6v0.6h-0.6zM130.6 303.4h0.6v0.6h-0.6zM129.1 305.4h0.6v0.6h-0.6zM135.3 294.8h0.6v0.6h-0.6zM131.2 291.7h0.6v0.6h-0.6zM124.0 295.1h0.6v0.6h-0.6zM128.7 296.0h0.6v0.6h-0.6zM126.6 294.1h0.6v0.6h-0.6zM135.4 290.0h0.6v0.6h-0.6zM112.0 309.0h0.6v0.6h-0.6zM133.6 299.5h0.6v0.6h-0.6zM142.3 305.5h0.6v0.6h-0.6zM144.6 304.3h0.6v0.6h-0.6zM139.1 301.4h0.6v0.6h-0.6zM131.7 297.6h0.6v0.6h-0.6zM103.3 308.7h0.6v0.6h-0.6zM131.8 292.1h0.6v0.6h-0.6zM142.3 293.9h0.6v0.6h-0.6zM135.9 293.0h0.6v0.6h-0.6zM123.3 305.3h0.6v0.6h-0.6zM133.9 288.5h0.6v0.6h-0.6zM138.2 304.0h0.6v0.6h-0.6zM130.4 302.8h0.6v0.6h-0.6zM143.5 305.7h0.6v0.6h-0.6zM138.0 303.2h0.6v0.6h-0.6zM146.2 299.7h0.6v0.6h-0.6zM130.6 296.6h0.6v0.6h-0.6zM159.3 292.0h0.6v0.6h-0.6zM133.0 286.7h0.6v0.6h-0.6zM132.5 297.2h0.6v0.6h-0.6zM132.1 303.2h0.6v0.6h-0.6zM145.0 299.8h0.6v0.6h-0.6zM126.2 295.2h0.6v0.6h-0.6zM132.9 293.8h0.6v0.6h-0.6zM132.2 301.7h0.6v0.6h-0.6zM134.5 311.1h0.6v0.6h-0.6zM119.1 299.2h0.6v0.6h-0.6zM141.5 291.4h0.6v0.6h-0.6zM118.7 311.5h0.6v0.6h-0.6zM140.7 301.7h0.6v0.6h-0.6zM142.7 292.0h0.6v0.6h-0.6zM123.3 308.2h0.6v0.6h-0.6zM133.7 288.1h0.6v0.6h-0.6zM131.7 308.3h0.6v0.6h-0.6zM123.9 288.2h0.6v0.6h-0.6zM113.5 297.3h0.6v0.6h-0.6zM131.9 294.1h0.6v0.6h-0.6zM128.0 296.5h0.6v0.6h-0.6zM127.4 294.6h0.6v0.6h-0.6zM140.8 298.4h0.6v0.6h-0.6zM137.0 286.5h0.6v0.6h-0.6zM125.1 304.7h0.6v0.6h-0.6zM133.9 304.8h0.6v0.6h-0.6zM120.6 302.3h0.6v0.6h-0.6zM128.0 298.3h0.6v0.6h-0.6zM126.9 292.2h0.6v0.6h-0.6zM123.9 297.4h0.6v0.6h-0.6zM141.3 291.5h0.6v0.6h-0.6zM127.7 292.0h0.6v0.6h-0.6zM125.7 302.5h0.6v0.6h-0.6zM129.1 292.2h0.6v0.6h-0.6zM138.4 300.4h0.6v0.6h-0.6zM135.5 299.2h0.6v0.6h-0.6zM127.8 303.4h0.6v0.6h-0.6zM127.5 299.7h0.6v0.6h-0.6zM134.0 305.5h0.6v0.6h-0.6zM131.3 303.4h0.6v0.6h-0.6zM118.6 299.1h0.6v0.6h-0.6zM134.3 298.9h0.6v0.6h-0.6zM115.9 302.9h0.6v0.6h-0.6zM127.5 293.9h0.6v0.6h-0.6zM145.6 296.8h0.6v0.6h-0.6zM140.5 287.4h0.6v0.6h-0.6zM138.4 299.5h0.6v0.6h-0.6zM135.2 292.2h0.6v0.6h-0.6zM135.6 297.0h0.6v0.6h-0.6zM143.9 295.1h0.6v0.6h-0.6zM119.4 305.0h0.6v0.6h-0.6zM123.8 296.9h0.6v0.6h-0.6zM139.0 308.9h0.6v0.6h-0.6zM137.4 302.9h0.6v0.6h-0.6zM134.3 299.1h0.6v0.6h-0.6zM132.3 300.4h0.6v0.6h-0.6zM125.3 299.7h0.6v0.6h-0.6zM142.4 299.3h0.6v0.6h-0.6zM131.6 303.1h0.6v0.6h-0.6zM125.6 297.0h0.6v0.6h-0.6zM151.5 303.5h0.6v0.6h-0.6zM139.2 297.7h0.6v0.6h-0.6zM126.9 291.2h0.6v0.6h-0.6zM133.1 306.6h0.6v0.6h-0.6zM132.3 303.7h0.6v0.6h-0.6zM130.5 299.1h0.6v0.6h-0.6zM134.0 292.7h0.6v0.6h-0.6zM140.6 298.4h0.6v0.6h-0.6zM137.5 293.9h0.6v0.6h-0.6zM140.3 294.1h0.6v0.6h-0.6zM136.2 296.0h0.6v0.6h-0.6zM126.8 302.2h0.6v0.6h-0.6zM136.4 285.7h0.6v0.6h-0.6zM138.8 303.5h0.6v0.6h-0.6zM134.5 300.6h0.6v0.6h-0.6zM135.3 300.4h0.6v0.6h-0.6zM130.1 305.0h0.6v0.6h-0.6zM143.2 293.2h0.6v0.6h-0.6zM133.5 292.7h0.6v0.6h-0.6zM129.2 304.5h0.6v0.6h-0.6zM133.2 299.8h0.6v0.6h-0.6zM129.9 313.2h0.6v0.6h-0.6zM142.6 300.9h0.6v0.6h-0.6zM134.6 309.5h0.6v0.6h-0.6zM142.9 300.3h0.6v0.6h-0.6zM131.5 291.3h0.6v0.6h-0.6zM144.1 309.2h0.6v0.6h-0.6zM152.3 300.3h0.6v0.6h-0.6zM140.3 286.2h0.6v0.6h-0.6zM138.4 293.8h0.6v0.6h-0.6zM126.3 293.3h0.6v0.6h-0.6zM125.8 295.3h0.6v0.6h-0.6zM137.5 294.1h0.6v0.6h-0.6zM130.0 297.6h0.6v0.6h-0.6zM149.5 303.4h0.6v0.6h-0.6zM127.9 303.4h0.6v0.6h-0.6zM146.6 297.6h0.6v0.6h-0.6zM139.0 305.2h0.6v0.6h-0.6zM121.5 299.4h0.6v0.6h-0.6zM132.0 303.7h0.6v0.6h-0.6zM143.8 295.5h0.6v0.6h-0.6zM120.6 295.4h0.6v0.6h-0.6zM133.1 294.4h0.6v0.6h-0.6zM135.0 291.2h0.6v0.6h-0.6zM137.3 303.1h0.6v0.6h-0.6zM149.4 297.8h0.6v0.6h-0.6zM141.2 294.1h0.6v0.6h-0.6zM127.4 293.6h0.6v0.6h-0.6zM132.0 290.5h0.6v0.6h-0.6zM118.4 312.5h0.6v0.6h-0.6zM130.6 298.5h0.6v0.6h-0.6zM134.5 295.8h0.6v0.6h-0.6zM131.3 305.5h0.6v0.6h-0.6zM135.2 305.4h0.6v0.6h-0.6zM123.3 301.4h0.6v0.6h-0.6zM125.5 290.4h0.6v0.6h-0.6zM138.9 300.0h0.6v0.6h-0.6zM138.7 302.4h0.6v0.6h-0.6zM117.0 301.9h0.6v0.6h-0.6zM148.4 299.6h0.6v0.6h-0.6zM140.8 307.4h0.6v0.6h-0.6zM147.4 283.0h0.6v0.6h-0.6zM130.4 297.5h0.6v0.6h-0.6zM130.9 305.3h0.6v0.6h-0.6zM122.8 283.3h0.6v0.6h-0.6zM135.2 296.9h0.6v0.6h-0.6zM141.5 305.3h0.6v0.6h-0.6zM136.0 306.8h0.6v0.6h-0.6zM122.4 298.0h0.6v0.6h-0.6zM122.1 310.1h0.6v0.6h-0.6zM130.8 304.4h0.6v0.6h-0.6zM136.7 303.1h0.6v0.6h-0.6zM141.2 305.4h0.6v0.6h-0.6zM139.3 299.1h0.6v0.6h-0.6zM138.9 286.6h0.6v0.6h-0.6zM125.6 307.5h0.6v0.6h-0.6zM137.5 289.7h0.6v0.6h-0.6zM122.7 291.0h0.6v0.6h-0.6zM129.8 303.8h0.6v0.6h-0.6zM132.8 303.2h0.6v0.6h-0.6zM122.5 297.8h0.6v0.6h-0.6zM134.3 301.1h0.6v0.6h-0.6zM138.8 299.2h0.6v0.6h-0.6zM139.6 306.0h0.6v0.6h-0.6zM137.0 291.1h0.6v0.6h-0.6zM127.5 293.2h0.6v0.6h-0.6zM145.6 303.4h0.6v0.6h-0.6zM133.5 294.8h0.6v0.6h-0.6zM128.2 307.6h0.6v0.6h-0.6zM131.6 294.8h0.6v0.6h-0.6zM126.6 302.7h0.6v0.6h-0.6zM117.9 295.1h0.6v0.6h-0.6zM138.0 303.5h0.6v0.6h-0.6zM137.7 296.6h0.6v0.6h-0.6zM139.6 308.7h0.6v0.6h-0.6zM126.1 293.3h0.6v0.6h-0.6zM130.1 299.1h0.6v0.6h-0.6zM128.8 294.6h0.6v0.6h-0.6zM114.8 303.9h0.6v0.6h-0.6zM124.5 298.7h0.6v0.6h-0.6zM128.8 302.8h0.6v0.6h-0.6zM123.0 291.5h0.6v0.6h-0.6zM133.6 298.9h0.6v0.6h-0.6zM129.0 300.9h0.6v0.6h-0.6zM128.9 296.3h0.6v0.6h-0.6zM123.4 298.3h0.6v0.6h-0.6zM140.4 297.5h0.6v0.6h-0.6zM132.4 304.4h0.6v0.6h-0.6zM129.6 294.4h0.6v0.6h-0.6zM133.7 308.7h0.6v0.6h-0.6zM129.8 298.0h0.6v0.6h-0.6zM135.5 295.7h0.6v0.6h-0.6zM129.9 306.3h0.6v0.6h-0.6zM119.1 301.5h0.6v0.6h-0.6zM140.4 306.1h0.6v0.6h-0.6zM134.8 301.4h0.6v0.6h-0.6zM128.4 287.8h0.6v0.6h-0.6zM134.7 299.6h0.6v0.6h-0.6zM136.4 306.6h0.6v0.6h-0.6zM153.4 301.6h0.6v0.6h-0.6zM146.9 299.7h0.6v0.6h-0.6zM135.8 292.5h0.6v0.6h-0.6zM135.1 294.8h0.6v0.6h-0.6zM134.7 290.1h0.6v0.6h-0.6zM142.0 289.2h0.6v0.6h-0.6zM136.9 285.9h0.6v0.6h-0.6zM132.9 300.1h0.6v0.6h-0.6zM139.7 308.0h0.6v0.6h-0.6zM123.1 297.7h0.6v0.6h-0.6zM131.1 298.7h0.6v0.6h-0.6zM142.9 294.7h0.6v0.6h-0.6zM124.5 294.6h0.6v0.6h-0.6zM140.2 293.6h0.6v0.6h-0.6zM118.2 295.7h0.6v0.6h-0.6zM142.5 308.3h0.6v0.6h-0.6zM127.6 294.4h0.6v0.6h-0.6zM139.1 304.8h0.6v0.6h-0.6zM132.9 298.9h0.6v0.6h-0.6zM139.4 288.9h0.6v0.6h-0.6zM144.6 292.0h0.6v0.6h-0.6zM117.4 306.5h0.6v0.6h-0.6zM133.4 303.5h0.6v0.6h-0.6zM120.5 300.4h0.6v0.6h-0.6zM135.4 299.8h0.6v0.6h-0.6zM134.3 298.0h0.6v0.6h-0.6zM132.5 291.2h0.6v0.6h-0.6zM149.3 295.3h0.6v0.6h-0.6zM122.6 300.3h0.6v0.6h-0.6zM130.8 293.7h0.6v0.6h-0.6zM158.9 300.9h0.6v0.6h-0.6zM118.3 295.3h0.6v0.6h-0.6zM129.7 297.9h0.6v0.6h-0.6zM138.0 301.4h0.6v0.6h-0.6zM148.3 295.9h0.6v0.6h-0.6zM130.6 305.3h0.6v0.6h-0.6zM142.9 297.0h0.6v0.6h-0.6zM128.8 305.8h0.6v0.6h-0.6zM138.4 305.9h0.6v0.6h-0.6zM142.3 301.9h0.6v0.6h-0.6zM134.8 299.7h0.6v0.6h-0.6zM133.3 290.8h0.6v0.6h-0.6zM137.6 304.0h0.6v0.6h-0.6zM139.1 294.5h0.6v0.6h-0.6zM131.6 305.9h0.6v0.6h-0.6zM142.3 293.0h0.6v0.6h-0.6zM121.2 300.0h0.6v0.6h-0.6zM121.1 310.6h0.6v0.6h-0.6zM132.2 303.0h0.6v0.6h-0.6zM117.8 299.4h0.6v0.6h-0.6zM134.7 289.0h0.6v0.6h-0.6zM148.2 298.7h0.6v0.6h-0.6zM136.7 296.7h0.6v0.6h-0.6zM135.0 302.8h0.6v0.6h-0.6zM136.3 301.2h0.6v0.6h-0.6zM119.9 298.4h0.6v0.6h-0.6zM122.7 300.3h0.6v0.6h-0.6zM126.9 287.3h0.6v0.6h-0.6zM146.1 296.8h0.6v0.6h-0.6zM130.1 298.5h0.6v0.6h-0.6zM131.5 302.6h0.6v0.6h-0.6zM146.3 295.8h0.6v0.6h-0.6zM138.3 302.8h0.6v0.6h-0.6zM122.5 302.8h0.6v0.6h-0.6zM140.5 297.6h0.6v0.6h-0.6zM130.2 292.1h0.6v0.6h-0.6zM141.3 294.2h0.6v0.6h-0.6zM134.2 289.9h0.6v0.6h-0.6zM130.3 287.8h0.6v0.6h-0.6zM125.9 303.0h0.6v0.6h-0.6zM123.2 291.4h0.6v0.6h-0.6zM126.3 295.1h0.6v0.6h-0.6zM122.9 299.0h0.6v0.6h-0.6zM127.5 302.4h0.6v0.6h-0.6zM135.9 299.5h0.6v0.6h-0.6zM135.0 300.8h0.6v0.6h-0.6zM117.4 310.8h0.6v0.6h-0.6zM117.8 306.9h0.6v0.6h-0.6zM125.6 284.6h0.6v0.6h-0.6zM120.6 285.2h0.6v0.6h-0.6zM134.2 296.0h0.6v0.6h-0.6zM154.7 298.8h0.6v0.6h-0.6zM126.3 306.5h0.6v0.6h-0.6zM156.9 293.0h0.6v0.6h-0.6zM125.5 297.6h0.6v0.6h-0.6zM121.9 293.1h0.6v0.6h-0.6zM145.7 305.0h0.6v0.6h-0.6zM141.4 298.7h0.6v0.6h-0.6zM142.9 287.2h0.6v0.6h-0.6zM144.0 288.6h0.6v0.6h-0.6zM124.4 300.4h0.6v0.6h-0.6zM122.8 299.6h0.6v0.6h-0.6zM134.7 304.6h0.6v0.6h-0.6zM131.4 298.7h0.6v0.6h-0.6zM130.2 297.5h0.6v0.6h-0.6zM130.2 297.7h0.6v0.6h-0.6zM136.7 305.1h0.6v0.6h-0.6zM134.6 279.1h0.6v0.6h-0.6zM134.6 286.6h0.6v0.6h-0.6zM123.6 301.6h0.6v0.6h-0.6zM111.5 293.5h0.6v0.6h-0.6zM133.8 297.6h0.6v0.6h-0.6zM128.0 288.9h0.6v0.6h-0.6zM148.2 289.0h0.6v0.6h-0.6zM126.0 302.6h0.6v0.6h-0.6zM133.5 302.7h0.6v0.6h-0.6zM143.1 291.1h0.6v0.6h-0.6zM136.6 293.5h0.6v0.6h-0.6zM133.1 297.3h0.6v0.6h-0.6zM125.6 298.6h0.6v0.6h-0.6zM154.2 298.8h0.6v0.6h-0.6zM119.8 280.6h0.6v0.6h-0.6zM117.9 306.3h0.6v0.6h-0.6zM122.4 295.8h0.6v0.6h-0.6zM128.4 294.9h0.6v0.6h-0.6zM128.8 296.0h0.6v0.6h-0.6zM146.3 300.6h0.6v0.6h-0.6zM151.9 300.9h0.6v0.6h-0.6zM135.7 312.6h0.6v0.6h-0.6zM128.2 308.1h0.6v0.6h-0.6zM126.1 307.0h0.6v0.6h-0.6zM135.6 302.7h0.6v0.6h-0.6zM130.5 316.9h0.6v0.6h-0.6zM139.9 294.8h0.6v0.6h-0.6zM152.2 294.5h0.6v0.6h-0.6zM140.4 305.5h0.6v0.6h-0.6zM134.8 304.3h0.6v0.6h-0.6zM131.0 302.9h0.6v0.6h-0.6zM127.9 296.1h0.6v0.6h-0.6zM130.7 301.6h0.6v0.6h-0.6zM131.4 309.7h0.6v0.6h-0.6zM127.8 315.2h0.6v0.6h-0.6zM134.5 299.5h0.6v0.6h-0.6zM133.1 306.3h0.6v0.6h-0.6zM129.8 304.6h0.6v0.6h-0.6zM132.8 288.9h0.6v0.6h-0.6zM134.0 311.8h0.6v0.6h-0.6zM125.9 305.0h0.6v0.6h-0.6zM123.9 306.9h0.6v0.6h-0.6zM124.2 294.9h0.6v0.6h-0.6zM134.6 300.8h0.6v0.6h-0.6zM131.9 311.1h0.6v0.6h-0.6zM140.7 295.5h0.6v0.6h-0.6zM138.1 300.4h0.6v0.6h-0.6zM137.1 297.2h0.6v0.6h-0.6zM130.1 299.8h0.6v0.6h-0.6zM125.2 298.6h0.6v0.6h-0.6zM157.2 296.6h0.6v0.6h-0.6zM116.9 298.3h0.6v0.6h-0.6zM128.6 292.1h0.6v0.6h-0.6zM133.3 296.8h0.6v0.6h-0.6zM140.8 309.1h0.6v0.6h-0.6zM120.2 297.4h0.6v0.6h-0.6zM120.1 290.9h0.6v0.6h-0.6zM132.9 302.6h0.6v0.6h-0.6zM128.8 311.2h0.6v0.6h-0.6zM118.6 298.2h0.6v0.6h-0.6zM134.1 292.6h0.6v0.6h-0.6zM131.8 287.1h0.6v0.6h-0.6zM122.6 298.0h0.6v0.6h-0.6zM123.8 299.8h0.6v0.6h-0.6zM135.7 306.7h0.6v0.6h-0.6zM137.0 294.6h0.6v0.6h-0.6zM125.9 301.6h0.6v0.6h-0.6zM127.4 312.7h0.6v0.6h-0.6zM132.5 295.8h0.6v0.6h-0.6zM125.2 297.9h0.6v0.6h-0.6zM130.3 300.9h0.6v0.6h-0.6zM126.6 294.8h0.6v0.6h-0.6zM131.1 295.5h0.6v0.6h-0.6zM123.9 297.7h0.6v0.6h-0.6zM131.0 296.7h0.6v0.6h-0.6zM135.4 290.8h0.6v0.6h-0.6zM132.9 302.4h0.6v0.6h-0.6zM133.5 297.5h0.6v0.6h-0.6zM126.8 295.6h0.6v0.6h-0.6zM120.8 312.6h0.6v0.6h-0.6zM136.5 301.7h0.6v0.6h-0.6zM141.1 298.9h0.6v0.6h-0.6zM135.3 299.4h0.6v0.6h-0.6zM124.7 284.2h0.6v0.6h-0.6zM138.7 306.2h0.6v0.6h-0.6zM138.2 297.6h0.6v0.6h-0.6zM138.7 304.9h0.6v0.6h-0.6zM143.6 301.2h0.6v0.6h-0.6zM141.8 286.9h0.6v0.6h-0.6zM141.2 303.9h0.6v0.6h-0.6zM123.7 298.3h0.6v0.6h-0.6zM137.7 306.6h0.6v0.6h-0.6zM140.4 306.5h0.6v0.6h-0.6zM133.3 298.7h0.6v0.6h-0.6zM137.7 293.8h0.6v0.6h-0.6zM124.4 302.7h0.6v0.6h-0.6zM131.4 298.7h0.6v0.6h-0.6zM142.9 282.2h0.6v0.6h-0.6zM130.7 303.5h0.6v0.6h-0.6zM130.8 307.9h0.6v0.6h-0.6zM122.3 297.1h0.6v0.6h-0.6zM128.0 295.3h0.6v0.6h-0.6zM122.6 297.5h0.6v0.6h-0.6zM124.5 291.9h0.6v0.6h-0.6zM137.5 298.1h0.6v0.6h-0.6zM121.6 297.9h0.6v0.6h-0.6zM137.3 303.8h0.6v0.6h-0.6zM133.3 306.6h0.6v0.6h-0.6zM131.0 293.6h0.6v0.6h-0.6zM127.4 299.5h0.6v0.6h-0.6zM111.1 309.2h0.6v0.6h-0.6zM139.1 294.5h0.6v0.6h-0.6zM130.1 302.0h0.6v0.6h-0.6zM147.3 288.5h0.6v0.6h-0.6zM141.9 300.5h0.6v0.6h-0.6zM127.9 301.3h0.6v0.6h-0.6zM124.9 288.0h0.6v0.6h-0.6zM116.8 312.0h0.6v0.6h-0.6zM128.1 295.4h0.6v0.6h-0.6zM131.2 295.3h0.6v0.6h-0.6zM123.5 303.0h0.6v0.6h-0.6zM134.6 301.3h0.6v0.6h-0.6zM120.8 307.3h0.6v0.6h-0.6zM135.8 305.5h0.6v0.6h-0.6zM128.8 295.8h0.6v0.6h-0.6zM121.0 307.8h0.6v0.6h-0.6zM135.8 290.5h0.6v0.6h-0.6zM132.3 298.0h0.6v0.6h-0.6zM133.7 304.6h0.6v0.6h-0.6zM141.7 301.0h0.6v0.6h-0.6zM123.5 292.2h0.6v0.6h-0.6zM125.1 293.6h0.6v0.6h-0.6zM136.3 294.4h0.6v0.6h-0.6zM131.2 303.1h0.6v0.6h-0.6zM128.1 311.1h0.6v0.6h-0.6zM114.9 302.3h0.6v0.6h-0.6zM124.6 299.1h0.6v0.6h-0.6zM131.3 297.4h0.6v0.6h-0.6zM125.2 299.3h0.6v0.6h-0.6zM124.4 299.2h0.6v0.6h-0.6zM126.6 290.4h0.6v0.6h-0.6zM143.3 298.6h0.6v0.6h-0.6zM125.9 301.7h0.6v0.6h-0.6zM139.1 309.4h0.6v0.6h-0.6zM135.8 303.0h0.6v0.6h-0.6zM124.2 311.2h0.6v0.6h-0.6zM128.1 299.0h0.6v0.6h-0.6zM134.7 303.9h0.6v0.6h-0.6zM133.3 298.0h0.6v0.6h-0.6zM133.7 308.9h0.6v0.6h-0.6zM142.7 302.9h0.6v0.6h-0.6zM138.0 292.4h0.6v0.6h-0.6zM129.4 290.6h0.6v0.6h-0.6zM149.5 286.9h0.6v0.6h-0.6zM121.6 292.8h0.6v0.6h-0.6zM128.5 286.8h0.6v0.6h-0.6zM122.8 303.7h0.6v0.6h-0.6zM118.6 305.0h0.6v0.6h-0.6zM136.2 293.2h0.6v0.6h-0.6zM108.9 293.4h0.6v0.6h-0.6zM132.4 293.9h0.6v0.6h-0.6zM129.6 298.8h0.6v0.6h-0.6zM131.2 310.2h0.6v0.6h-0.6zM138.1 306.6h0.6v0.6h-0.6zM134.2 282.4h0.6v0.6h-0.6zM130.4 299.5h0.6v0.6h-0.6zM122.1 303.0h0.6v0.6h-0.6zM134.1 285.7h0.6v0.6h-0.6zM141.3 301.3h0.6v0.6h-0.6zM132.1 293.4h0.6v0.6h-0.6zM142.0 281.4h0.6v0.6h-0.6zM127.4 306.3h0.6v0.6h-0.6zM145.1 301.3h0.6v0.6h-0.6zM147.1 295.2h0.6v0.6h-0.6zM124.1 311.7h0.6v0.6h-0.6zM143.9 298.7h0.6v0.6h-0.6zM141.1 301.0h0.6v0.6h-0.6zM132.4 301.8h0.6v0.6h-0.6zM144.1 290.2h0.6v0.6h-0.6zM128.0 297.7h0.6v0.6h-0.6zM126.9 298.2h0.6v0.6h-0.6zM120.9 295.6h0.6v0.6h-0.6zM139.0 296.8h0.6v0.6h-0.6zM132.4 302.7h0.6v0.6h-0.6zM147.4 294.4h0.6v0.6h-0.6zM127.6 304.1h0.6v0.6h-0.6zM137.9 290.8h0.6v0.6h-0.6zM125.6 295.0h0.6v0.6h-0.6zM132.8 298.4h0.6v0.6h-0.6zM140.4 309.6h0.6v0.6h-0.6zM142.7 294.6h0.6v0.6h-0.6zM128.1 292.7h0.6v0.6h-0.6zM125.8 305.1h0.6v0.6h-0.6zM136.7 284.6h0.6v0.6h-0.6zM132.7 305.7h0.6v0.6h-0.6zM119.9 302.4h0.6v0.6h-0.6zM148.8 285.9h0.6v0.6h-0.6zM127.4 290.8h0.6v0.6h-0.6zM135.3 300.0h0.6v0.6h-0.6zM144.7 299.7h0.6v0.6h-0.6zM130.9 297.7h0.6v0.6h-0.6zM142.7 291.9h0.6v0.6h-0.6zM130.6 293.9h0.6v0.6h-0.6zM129.5 306.3h0.6v0.6h-0.6zM127.7 305.5h0.6v0.6h-0.6zM126.4 291.3h0.6v0.6h-0.6zM132.7 306.8h0.6v0.6h-0.6zM131.3 299.7h0.6v0.6h-0.6zM125.6 306.1h0.6v0.6h-0.6zM138.8 293.7h0.6v0.6h-0.6zM139.5 306.2h0.6v0.6h-0.6zM142.8 300.9h0.6v0.6h-0.6zM142.8 305.2h0.6v0.6h-0.6zM133.9 287.2h0.6v0.6h-0.6zM124.8 308.1h0.6v0.6h-0.6zM126.8 298.1h0.6v0.6h-0.6zM131.4 294.1h0.6v0.6h-0.6zM147.9 294.8h0.6v0.6h-0.6zM146.0 299.2h0.6v0.6h-0.6zM130.4 299.1h0.6v0.6h-0.6zM121.7 300.0h0.6v0.6h-0.6zM137.9 299.1h0.6v0.6h-0.6zM133.7 293.5h0.6v0.6h-0.6zM138.6 293.6h0.6v0.6h-0.6zM128.6 293.2h0.6v0.6h-0.6zM145.6 299.6h0.6v0.6h-0.6zM130.3 306.5h0.6v0.6h-0.6zM129.7 290.7h0.6v0.6h-0.6zM134.9 302.1h0.6v0.6h-0.6zM141.6 286.2h0.6v0.6h-0.6zM126.9 306.2h0.6v0.6h-0.6zM137.7 297.6h0.6v0.6h-0.6zM118.1 298.1h0.6v0.6h-0.6zM126.7 291.5h0.6v0.6h-0.6zM135.1 292.4h0.6v0.6h-0.6zM134.2 304.1h0.6v0.6h-0.6zM129.3 304.9h0.6v0.6h-0.6zM144.9 307.1h0.6v0.6h-0.6zM124.9 290.5h0.6v0.6h-0.6zM125.1 289.2h0.6v0.6h-0.6zM126.7 300.2h0.6v0.6h-0.6zM133.8 301.6h0.6v0.6h-0.6zM145.5 296.4h0.6v0.6h-0.6zM125.3 291.8h0.6v0.6h-0.6zM123.6 301.8h0.6v0.6h-0.6zM145.6 301.0h0.6v0.6h-0.6zM129.8 299.7h0.6v0.6h-0.6zM142.6 295.7h0.6v0.6h-0.6zM139.3 299.0h0.6v0.6h-0.6zM128.7 305.4h0.6v0.6h-0.6zM141.7 298.5h0.6v0.6h-0.6zM126.3 290.4h0.6v0.6h-0.6zM125.7 307.3h0.6v0.6h-0.6zM134.5 300.0h0.6v0.6h-0.6zM138.2 299.0h0.6v0.6h-0.6zM136.3 293.4h0.6v0.6h-0.6zM144.5 292.7h0.6v0.6h-0.6zM140.1 282.3h0.6v0.6h-0.6zM125.5 290.6h0.6v0.6h-0.6zM137.7 289.6h0.6v0.6h-0.6zM121.4 302.8h0.6v0.6h-0.6zM146.0 304.2h0.6v0.6h-0.6zM151.9 304.5h0.6v0.6h-0.6zM123.6 284.8h0.6v0.6h-0.6zM127.5 293.4h0.6v0.6h-0.6zM123.7 298.4h0.6v0.6h-0.6zM146.4 305.3h0.6v0.6h-0.6zM135.9 302.5h0.6v0.6h-0.6zM126.8 307.3h0.6v0.6h-0.6zM126.8 301.5h0.6v0.6h-0.6zM126.7 295.6h0.6v0.6h-0.6zM139.3 309.1h0.6v0.6h-0.6zM120.6 301.4h0.6v0.6h-0.6zM156.9 301.8h0.6v0.6h-0.6zM137.5 305.9h0.6v0.6h-0.6zM136.5 303.6h0.6v0.6h-0.6zM134.9 290.8h0.6v0.6h-0.6zM137.2 298.2h0.6v0.6h-0.6zM146.1 288.4h0.6v0.6h-0.6zM124.5 311.5h0.6v0.6h-0.6zM130.9 308.5h0.6v0.6h-0.6zM128.0 305.5h0.6v0.6h-0.6zM121.6 289.3h0.6v0.6h-0.6zM131.4 300.9h0.6v0.6h-0.6zM130.4 309.0h0.6v0.6h-0.6zM128.0 304.6h0.6v0.6h-0.6zM128.1 293.0h0.6v0.6h-0.6zM139.4 294.1h0.6v0.6h-0.6zM115.8 299.9h0.6v0.6h-0.6zM140.9 300.6h0.6v0.6h-0.6zM127.1 290.1h0.6v0.6h-0.6zM124.5 301.0h0.6v0.6h-0.6zM148.3 290.9h0.6v0.6h-0.6zM132.4 305.5h0.6v0.6h-0.6zM137.0 298.7h0.6v0.6h-0.6zM128.3 303.6h0.6v0.6h-0.6zM131.6 295.1h0.6v0.6h-0.6zM117.4 302.2h0.6v0.6h-0.6zM137.3 301.6h0.6v0.6h-0.6zM126.2 305.3h0.6v0.6h-0.6zM138.4 296.9h0.6v0.6h-0.6zM121.9 301.0h0.6v0.6h-0.6zM141.3 285.4h0.6v0.6h-0.6zM137.1 296.2h0.6v0.6h-0.6zM131.7 300.2h0.6v0.6h-0.6zM141.4 299.9h0.6v0.6h-0.6zM122.2 302.0h0.6v0.6h-0.6zM137.0 297.4h0.6v0.6h-0.6zM146.0 296.3h0.6v0.6h-0.6zM141.6 305.9h0.6v0.6h-0.6zM135.4 300.2h0.6v0.6h-0.6zM130.5 295.5h0.6v0.6h-0.6zM128.4 292.6h0.6v0.6h-0.6zM129.3 293.6h0.6v0.6h-0.6zM130.1 296.6h0.6v0.6h-0.6zM142.8 289.6h0.6v0.6h-0.6zM125.0 305.6h0.6v0.6h-0.6zM142.9 303.6h0.6v0.6h-0.6zM134.6 315.0h0.6v0.6h-0.6zM134.5 299.6h0.6v0.6h-0.6zM143.0 292.2h0.6v0.6h-0.6zM130.3 296.6h0.6v0.6h-0.6zM120.2 302.3h0.6v0.6h-0.6zM146.7 303.5h0.6v0.6h-0.6zM129.3 296.7h0.6v0.6h-0.6zM124.3 297.6h0.6v0.6h-0.6zM136.2 290.5h0.6v0.6h-0.6zM140.4 289.1h0.6v0.6h-0.6zM127.3 298.5h0.6v0.6h-0.6zM140.4 298.2h0.6v0.6h-0.6zM121.9 289.5h0.6v0.6h-0.6zM134.1 300.4h0.6v0.6h-0.6zM136.3 288.3h0.6v0.6h-0.6zM136.8 303.2h0.6v0.6h-0.6zM125.0 292.8h0.6v0.6h-0.6zM138.8 292.5h0.6v0.6h-0.6zM138.4 308.7h0.6v0.6h-0.6zM127.2 301.1h0.6v0.6h-0.6zM137.1 302.3h0.6v0.6h-0.6zM136.5 301.2h0.6v0.6h-0.6z" fill="#000"/>
<path d="M126.0 295.3h0.75v0.75h-0.75zM127.3 306.2h0.75v0.75h-0.75zM131.7 302.3h0.75v0.75h-0.75zM126.1 297.4h0.75v0.75h-0.75zM124.3 293.1h0.75v0.75h-0.75zM120.3 288.7h0.75v0.75h-0.75zM129.6 298.5h0.75v0.75h-0.75zM129.4 291.0h0.75v0.75h-0.75zM126.8 298.8h0.75v0.75h-0.75zM128.3 297.5h0.75v0.75h-0.75zM129.2 304.4h0.75v0.75h-0.75zM130.6 287.3h0.75v0.75h-0.75zM121.7 306.8h0.75v0.75h-0.75zM135.0 301.8h0.75v0.75h-0.75zM124.8 305.6h0.75v0.75h-0.75zM126.7 300.2h0.75v0.75h-0.75zM130.7 299.4h0.75v0.75h-0.75zM120.0 295.2h0.75v0.75h-0.75zM128.2 294.4h0.75v0.75h-0.75zM127.3 296.0h0.75v0.75h-0.75zM127.9 296.2h0.75v0.75h-0.75zM129.2 297.0h0.75v0.75h-0.75zM122.2 301.9h0.75v0.75h-0.75zM127.3 299.8h0.75v0.75h-0.75zM120.7 296.6h0.75v0.75h-0.75zM129.4 300.6h0.75v0.75h-0.75zM121.8 306.0h0.75v0.75h-0.75zM127.5 298.9h0.75v0.75h-0.75zM124.4 298.3h0.75v0.75h-0.75zM127.8 286.2h0.75v0.75h-0.75zM124.8 292.0h0.75v0.75h-0.75zM127.5 299.6h0.75v0.75h-0.75zM126.1 301.3h0.75v0.75h-0.75zM131.9 309.4h0.75v0.75h-0.75zM121.6 308.8h0.75v0.75h-0.75zM126.4 289.5h0.75v0.75h-0.75zM130.6 294.6h0.75v0.75h-0.75zM123.7 304.1h0.75v0.75h-0.75zM125.3 299.9h0.75v0.75h-0.75zM130.4 300.9h0.75v0.75h-0.75zM116.7 296.9h0.75v0.75h-0.75zM121.3 292.0h0.75v0.75h-0.75zM121.4 300.1h0.75v0.75h-0.75zM126.4 297.7h0.75v0.75h-0.75zM129.7 299.7h0.75v0.75h-0.75zM125.0 304.6h0.75v0.75h-0.75zM128.0 300.3h0.75v0.75h-0.75zM129.9 303.4h0.75v0.75h-0.75zM126.7 299.2h0.75v0.75h-0.75zM124.5 293.8h0.75v0.75h-0.75zM134.2 300.9h0.75v0.75h-0.75zM117.8 299.8h0.75v0.75h-0.75zM123.4 293.4h0.75v0.75h-0.75zM124.7 300.6h0.75v0.75h-0.75zM129.7 297.7h0.75v0.75h-0.75zM125.3 301.9h0.75v0.75h-0.75zM117.8 290.1h0.75v0.75h-0.75zM120.8 304.8h0.75v0.75h-0.75zM124.7 292.7h0.75v0.75h-0.75zM122.8 291.7h0.75v0.75h-0.75zM126.9 298.3h0.75v0.75h-0.75zM127.6 302.2h0.75v0.75h-0.75zM128.6 300.8h0.75v0.75h-0.75zM123.7 300.5h0.75v0.75h-0.75zM125.6 299.0h0.75v0.75h-0.75zM130.8 294.5h0.75v0.75h-0.75zM127.9 301.3h0.75v0.75h-0.75zM126.1 296.0h0.75v0.75h-0.75zM125.9 297.5h0.75v0.75h-0.75zM122.2 293.2h0.75v0.75h-0.75zM120.0 296.5h0.75v0.75h-0.75zM135.4 293.1h0.75v0.75h-0.75zM129.8 301.1h0.75v0.75h-0.75zM130.3 305.1h0.75v0.75h-0.75zM126.6 302.2h0.75v0.75h-0.75zM126.6 299.4h0.75v0.75h-0.75zM125.8 302.6h0.75v0.75h-0.75zM119.6 297.5h0.75v0.75h-0.75zM125.4 294.2h0.75v0.75h-0.75zM125.8 308.5h0.75v0.75h-0.75zM125.2 306.8h0.75v0.75h-0.75zM130.5 297.7h0.75v0.75h-0.75zM124.9 299.3h0.75v0.75h-0.75zM125.4 312.4h0.75v0.75h-0.75zM127.1 299.6h0.75v0.75h-0.75zM123.6 296.2h0.75v0.75h-0.75zM123.9 296.7h0.75v0.75h-0.75zM126.5 303.1h0.75v0.75h-0.75zM124.8 290.7h0.75v0.75h-0.75zM131.4 300.5h0.75v0.75h-0.75zM126.3 292.8h0.75v0.75h-0.75zM126.5 299.5h0.75v0.75h-0.75zM127.6 298.7h0.75v0.75h-0.75zM127.2 299.0h0.75v0.75h-0.75zM136.9 287.9h0.75v0.75h-0.75zM126.6 286.0h0.75v0.75h-0.75zM126.5 297.0h0.75v0.75h-0.75zM122.4 304.4h0.75v0.75h-0.75zM123.8 290.3h0.75v0.75h-0.75zM125.4 296.4h0.75v0.75h-0.75zM119.3 307.1h0.75v0.75h-0.75zM124.6 296.2h0.75v0.75h-0.75zM118.4 305.8h0.75v0.75h-0.75zM125.9 301.5h0.75v0.75h-0.75zM127.9 291.6h0.75v0.75h-0.75zM123.3 303.5h0.75v0.75h-0.75zM125.4 307.4h0.75v0.75h-0.75zM124.6 305.6h0.75v0.75h-0.75zM130.5 295.2h0.75v0.75h-0.75zM124.9 301.4h0.75v0.75h-0.75zM124.9 299.0h0.75v0.75h-0.75zM126.6 292.9h0.75v0.75h-0.75zM123.2 300.5h0.75v0.75h-0.75zM124.9 293.3h0.75v0.75h-0.75zM123.8 300.3h0.75v0.75h-0.75zM127.2 300.0h0.75v0.75h-0.75zM126.6 308.0h0.75v0.75h-0.75zM124.8 295.9h0.75v0.75h-0.75zM128.7 299.9h0.75v0.75h-0.75zM124.9 295.2h0.75v0.75h-0.75zM124.3 299.7h0.75v0.75h-0.75zM127.1 292.0h0.75v0.75h-0.75zM116.2 305.0h0.75v0.75h-0.75zM123.2 298.8h0.75v0.75h-0.75zM122.5 286.6h0.75v0.75h-0.75zM120.4 290.2h0.75v0.75h-0.75zM123.2 297.5h0.75v0.75h-0.75zM125.2 297.4h0.75v0.75h-0.75zM130.1 298.4h0.75v0.75h-0.75zM128.9 300.0h0.75v0.75h-0.75zM121.1 291.4h0.75v0.75h-0.75zM128.9 296.5h0.75v0.75h-0.75zM129.3 294.9h0.75v0.75h-0.75zM119.7 294.0h0.75v0.75h-0.75zM125.1 292.1h0.75v0.75h-0.75zM129.2 299.5h0.75v0.75h-0.75zM125.9 293.3h0.75v0.75h-0.75zM132.8 300.8h0.75v0.75h-0.75zM122.3 305.8h0.75v0.75h-0.75zM124.1 303.3h0.75v0.75h-0.75zM122.5 295.4h0.75v0.75h-0.75zM130.1 295.6h0.75v0.75h-0.75zM123.3 304.6h0.75v0.75h-0.75zM126.1 290.0h0.75v0.75h-0.75zM130.2 299.6h0.75v0.75h-0.75zM129.1 295.2h0.75v0.75h-0.75zM127.0 301.6h0.75v0.75h-0.75zM119.8 296.8h0.75v0.75h-0.75zM126.3 293.5h0.75v0.75h-0.75zM128.8 300.6h0.75v0.75h-0.75zM122.6 295.5h0.75v0.75h-0.75zM124.1 301.2h0.75v0.75h-0.75zM124.0 300.0h0.75v0.75h-0.75zM124.7 296.7h0.75v0.75h-0.75zM130.8 309.5h0.75v0.75h-0.75zM129.2 299.8h0.75v0.75h-0.75zM124.4 299.1h0.75v0.75h-0.75zM121.3 307.8h0.75v0.75h-0.75zM126.4 294.1h0.75v0.75h-0.75zM123.8 301.8h0.75v0.75h-0.75zM127.5 294.9h0.75v0.75h-0.75zM126.4 284.9h0.75v0.75h-0.75zM124.9 306.6h0.75v0.75h-0.75zM127.7 292.7h0.75v0.75h-0.75zM128.6 297.1h0.75v0.75h-0.75zM122.8 299.9h0.75v0.75h-0.75zM123.9 312.2h0.75v0.75h-0.75zM129.1 300.9h0.75v0.75h-0.75zM128.7 298.6h0.75v0.75h-0.75zM122.6 289.2h0.75v0.75h-0.75zM126.2 302.8h0.75v0.75h-0.75zM125.4 297.2h0.75v0.75h-0.75zM120.3 291.7h0.75v0.75h-0.75zM132.3 292.3h0.75v0.75h-0.75zM119.6 300.1h0.75v0.75h-0.75zM131.3 296.9h0.75v0.75h-0.75zM125.8 308.3h0.75v0.75h-0.75zM122.3 298.5h0.75v0.75h-0.75zM129.3 307.8h0.75v0.75h-0.75zM125.5 297.7h0.75v0.75h-0.75zM126.3 300.5h0.75v0.75h-0.75zM120.6 296.6h0.75v0.75h-0.75zM124.8 302.0h0.75v0.75h-0.75zM122.3 303.8h0.75v0.75h-0.75zM127.4 299.7h0.75v0.75h-0.75zM122.0 288.8h0.75v0.75h-0.75zM124.7 298.0h0.75v0.75h-0.75zM123.3 298.7h0.75v0.75h-0.75zM123.4 297.9h0.75v0.75h-0.75zM125.6 313.0h0.75v0.75h-0.75zM123.6 303.6h0.75v0.75h-0.75zM129.8 298.8h0.75v0.75h-0.75zM124.6 302.7h0.75v0.75h-0.75zM129.7 307.7h0.75v0.75h-0.75zM130.4 296.4h0.75v0.75h-0.75zM124.8 297.2h0.75v0.75h-0.75zM129.1 301.1h0.75v0.75h-0.75zM131.1 302.2h0.75v0.75h-0.75zM124.3 288.6h0.75v0.75h-0.75zM123.0 303.4h0.75v0.75h-0.75zM129.4 301.1h0.75v0.75h-0.75zM128.1 296.9h0.75v0.75h-0.75zM122.2 295.6h0.75v0.75h-0.75zM126.3 303.6h0.75v0.75h-0.75zM131.3 305.2h0.75v0.75h-0.75zM130.7 291.4h0.75v0.75h-0.75zM126.6 298.3h0.75v0.75h-0.75zM128.3 301.7h0.75v0.75h-0.75zM129.2 305.6h0.75v0.75h-0.75zM123.4 296.0h0.75v0.75h-0.75zM126.6 299.0h0.75v0.75h-0.75zM126.5 302.3h0.75v0.75h-0.75zM128.8 300.5h0.75v0.75h-0.75zM121.3 285.5h0.75v0.75h-0.75zM123.6 297.9h0.75v0.75h-0.75zM121.6 298.2h0.75v0.75h-0.75zM128.1 306.5h0.75v0.75h-0.75zM129.8 293.3h0.75v0.75h-0.75zM129.4 303.6h0.75v0.75h-0.75zM131.5 297.2h0.75v0.75h-0.75zM124.5 302.5h0.75v0.75h-0.75zM126.7 294.6h0.75v0.75h-0.75zM134.6 296.4h0.75v0.75h-0.75zM124.3 297.5h0.75v0.75h-0.75zM122.7 294.7h0.75v0.75h-0.75zM127.2 299.1h0.75v0.75h-0.75zM122.2 300.1h0.75v0.75h-0.75zM130.1 305.9h0.75v0.75h-0.75zM124.3 295.6h0.75v0.75h-0.75zM126.8 291.9h0.75v0.75h-0.75zM122.7 305.0h0.75v0.75h-0.75zM126.8 300.3h0.75v0.75h-0.75zM124.2 293.0h0.75v0.75h-0.75zM123.5 303.4h0.75v0.75h-0.75zM124.9 296.7h0.75v0.75h-0.75zM124.8 296.6h0.75v0.75h-0.75zM128.5 297.1h0.75v0.75h-0.75zM122.4 293.9h0.75v0.75h-0.75zM127.6 300.6h0.75v0.75h-0.75zM134.6 292.4h0.75v0.75h-0.75zM130.2 290.2h0.75v0.75h-0.75zM128.8 296.7h0.75v0.75h-0.75zM126.7 302.3h0.75v0.75h-0.75zM124.9 301.5h0.75v0.75h-0.75zM121.7 304.7h0.75v0.75h-0.75zM124.7 298.9h0.75v0.75h-0.75zM127.6 295.4h0.75v0.75h-0.75zM127.1 297.6h0.75v0.75h-0.75zM128.9 299.4h0.75v0.75h-0.75zM120.9 289.2h0.75v0.75h-0.75z" fill="#000"/>
<path d="M132.0 307.5h0.7v0.7h-0.7zM140.6 315.4h0.7v0.7h-0.7zM148.7 314.2h0.7v0.7h-0.7zM144.2 315.1h0.7v0.7h-0.7zM133.5 308.0h0.7v0.7h-0.7zM119.2 313.7h0.7v0.7h-0.7zM140.4 311.9h0.7v0.7h-0.7zM113.5 311.4h0.7v0.7h-0.7zM135.3 309.4h0.7v0.7h-0.7zM149.1 314.1h0.7v0.7h-0.7zM138.9 310.8h0.7v0.7h-0.7zM132.4 313.8h0.7v0.7h-0.7zM127.7 311.4h0.7v0.7h-0.7zM152.1 308.6h0.7v0.7h-0.7zM128.3 316.7h0.7v0.7h-0.7zM139.7 312.5h0.7v0.7h-0.7zM127.8 308.3h0.7v0.7h-0.7zM147.8 305.2h0.7v0.7h-0.7zM140.5 310.5h0.7v0.7h-0.7zM135.1 306.5h0.7v0.7h-0.7zM144.7 313.6h0.7v0.7h-0.7zM138.8 313.1h0.7v0.7h-0.7zM122.7 312.5h0.7v0.7h-0.7zM140.7 311.8h0.7v0.7h-0.7zM105.0 311.7h0.7v0.7h-0.7zM137.0 309.1h0.7v0.7h-0.7zM136.6 315.4h0.7v0.7h-0.7zM135.1 315.4h0.7v0.7h-0.7zM130.7 310.1h0.7v0.7h-0.7zM138.5 309.7h0.7v0.7h-0.7zM119.3 312.9h0.7v0.7h-0.7zM136.0 313.5h0.7v0.7h-0.7zM127.4 310.8h0.7v0.7h-0.7zM140.8 310.7h0.7v0.7h-0.7zM133.9 312.6h0.7v0.7h-0.7zM128.6 312.6h0.7v0.7h-0.7zM121.5 313.3h0.7v0.7h-0.7zM162.3 313.7h0.7v0.7h-0.7zM132.1 307.7h0.7v0.7h-0.7zM124.6 311.2h0.7v0.7h-0.7zM128.4 313.3h0.7v0.7h-0.7zM137.4 314.0h0.7v0.7h-0.7zM133.8 314.1h0.7v0.7h-0.7zM149.4 309.6h0.7v0.7h-0.7zM134.9 311.7h0.7v0.7h-0.7zM135.1 315.0h0.7v0.7h-0.7zM132.7 309.7h0.7v0.7h-0.7zM122.9 308.1h0.7v0.7h-0.7zM135.0 314.3h0.7v0.7h-0.7zM136.5 309.9h0.7v0.7h-0.7zM134.4 309.6h0.7v0.7h-0.7zM146.0 312.3h0.7v0.7h-0.7zM150.4 313.7h0.7v0.7h-0.7zM142.2 309.6h0.7v0.7h-0.7zM141.0 311.0h0.7v0.7h-0.7zM130.7 312.5h0.7v0.7h-0.7zM152.0 313.3h0.7v0.7h-0.7zM155.9 313.8h0.7v0.7h-0.7zM122.9 310.7h0.7v0.7h-0.7zM154.7 313.6h0.7v0.7h-0.7zM137.1 310.9h0.7v0.7h-0.7zM138.0 313.2h0.7v0.7h-0.7zM132.4 312.0h0.7v0.7h-0.7zM139.2 309.3h0.7v0.7h-0.7zM134.0 310.2h0.7v0.7h-0.7zM130.4 309.8h0.7v0.7h-0.7zM130.5 310.0h0.7v0.7h-0.7zM153.4 311.7h0.7v0.7h-0.7zM140.1 310.1h0.7v0.7h-0.7zM137.9 313.3h0.7v0.7h-0.7zM151.9 316.6h0.7v0.7h-0.7zM132.3 316.8h0.7v0.7h-0.7zM137.4 315.3h0.7v0.7h-0.7zM136.0 314.1h0.7v0.7h-0.7zM135.8 308.7h0.7v0.7h-0.7zM142.2 311.4h0.7v0.7h-0.7zM135.6 312.9h0.7v0.7h-0.7zM126.6 310.9h0.7v0.7h-0.7zM127.8 315.4h0.7v0.7h-0.7zM134.0 310.7h0.7v0.7h-0.7zM141.3 312.4h0.7v0.7h-0.7zM142.0 308.4h0.7v0.7h-0.7zM137.0 313.7h0.7v0.7h-0.7zM131.2 315.4h0.7v0.7h-0.7zM135.9 310.2h0.7v0.7h-0.7zM132.8 313.6h0.7v0.7h-0.7zM146.7 311.0h0.7v0.7h-0.7zM142.2 311.3h0.7v0.7h-0.7zM128.1 309.7h0.7v0.7h-0.7zM143.8 311.1h0.7v0.7h-0.7zM138.2 316.4h0.7v0.7h-0.7zM146.3 311.2h0.7v0.7h-0.7zM134.1 312.9h0.7v0.7h-0.7zM116.8 313.9h0.7v0.7h-0.7zM129.9 314.0h0.7v0.7h-0.7zM129.9 311.3h0.7v0.7h-0.7zM144.5 313.8h0.7v0.7h-0.7zM153.9 311.0h0.7v0.7h-0.7zM130.9 316.0h0.7v0.7h-0.7zM141.9 309.2h0.7v0.7h-0.7zM132.2 313.2h0.7v0.7h-0.7zM132.1 308.5h0.7v0.7h-0.7zM137.1 313.3h0.7v0.7h-0.7zM148.7 315.0h0.7v0.7h-0.7zM144.2 310.1h0.7v0.7h-0.7zM125.2 309.6h0.7v0.7h-0.7zM142.0 314.4h0.7v0.7h-0.7zM118.8 313.6h0.7v0.7h-0.7zM145.0 316.0h0.7v0.7h-0.7zM143.7 314.6h0.7v0.7h-0.7zM138.8 311.4h0.7v0.7h-0.7zM135.2 312.0h0.7v0.7h-0.7zM125.6 311.8h0.7v0.7h-0.7zM146.1 311.3h0.7v0.7h-0.7zM148.3 309.9h0.7v0.7h-0.7zM140.6 310.1h0.7v0.7h-0.7zM146.6 313.9h0.7v0.7h-0.7zM145.6 314.2h0.7v0.7h-0.7zM141.3 315.0h0.7v0.7h-0.7zM138.3 305.9h0.7v0.7h-0.7zM137.7 313.4h0.7v0.7h-0.7zM114.6 315.1h0.7v0.7h-0.7zM135.7 314.7h0.7v0.7h-0.7zM133.6 312.6h0.7v0.7h-0.7zM128.5 311.5h0.7v0.7h-0.7zM121.5 312.7h0.7v0.7h-0.7zM132.6 310.4h0.7v0.7h-0.7zM129.3 309.6h0.7v0.7h-0.7zM136.1 311.8h0.7v0.7h-0.7zM133.4 315.5h0.7v0.7h-0.7zM126.0 311.0h0.7v0.7h-0.7zM123.7 311.4h0.7v0.7h-0.7zM134.5 307.5h0.7v0.7h-0.7zM139.5 306.9h0.7v0.7h-0.7zM131.1 311.3h0.7v0.7h-0.7zM123.8 315.5h0.7v0.7h-0.7zM137.7 308.7h0.7v0.7h-0.7zM139.7 313.0h0.7v0.7h-0.7zM130.7 309.9h0.7v0.7h-0.7zM119.8 307.9h0.7v0.7h-0.7zM136.9 310.4h0.7v0.7h-0.7zM138.5 316.7h0.7v0.7h-0.7zM126.2 313.1h0.7v0.7h-0.7zM135.8 308.7h0.7v0.7h-0.7zM133.9 309.1h0.7v0.7h-0.7zM133.7 315.8h0.7v0.7h-0.7zM146.1 314.7h0.7v0.7h-0.7zM137.4 310.7h0.7v0.7h-0.7zM155.9 312.1h0.7v0.7h-0.7zM140.3 314.7h0.7v0.7h-0.7zM134.8 313.3h0.7v0.7h-0.7zM135.8 312.9h0.7v0.7h-0.7zM144.8 308.6h0.7v0.7h-0.7zM137.1 310.7h0.7v0.7h-0.7zM134.2 313.0h0.7v0.7h-0.7zM150.3 306.7h0.7v0.7h-0.7zM152.4 310.5h0.7v0.7h-0.7zM128.0 310.2h0.7v0.7h-0.7zM137.7 312.4h0.7v0.7h-0.7zM119.1 307.8h0.7v0.7h-0.7zM145.3 311.7h0.7v0.7h-0.7zM117.6 311.3h0.7v0.7h-0.7zM133.0 315.8h0.7v0.7h-0.7zM128.2 310.5h0.7v0.7h-0.7zM131.9 312.9h0.7v0.7h-0.7zM140.6 313.6h0.7v0.7h-0.7zM152.6 311.7h0.7v0.7h-0.7zM151.1 312.2h0.7v0.7h-0.7zM143.4 314.4h0.7v0.7h-0.7zM153.2 309.5h0.7v0.7h-0.7zM157.4 307.1h0.7v0.7h-0.7zM134.5 311.6h0.7v0.7h-0.7zM135.7 315.6h0.7v0.7h-0.7zM119.6 309.0h0.7v0.7h-0.7zM145.0 316.4h0.7v0.7h-0.7zM125.3 310.5h0.7v0.7h-0.7zM142.1 313.6h0.7v0.7h-0.7zM121.0 311.6h0.7v0.7h-0.7zM130.5 308.9h0.7v0.7h-0.7zM133.9 309.8h0.7v0.7h-0.7zM130.5 309.3h0.7v0.7h-0.7zM153.6 311.0h0.7v0.7h-0.7zM131.5 305.5h0.7v0.7h-0.7zM120.7 315.6h0.7v0.7h-0.7zM127.6 310.8h0.7v0.7h-0.7zM133.7 312.4h0.7v0.7h-0.7zM154.4 307.8h0.7v0.7h-0.7zM120.3 316.0h0.7v0.7h-0.7zM142.8 314.0h0.7v0.7h-0.7zM148.7 311.8h0.7v0.7h-0.7zM143.1 314.8h0.7v0.7h-0.7zM150.2 312.6h0.7v0.7h-0.7zM125.0 310.2h0.7v0.7h-0.7zM134.2 311.0h0.7v0.7h-0.7z" fill="#000"/>
<rect x="102.80" y="280.30" width="16.70" height="26.20" fill="none" stroke="#e9cf6a" stroke-width="0.9"/>
<rect x="123.10" y="280.30" width="36.90" height="25.90" fill="none" stroke="#b03048" stroke-width="0.9"/>
<line x1="120.40" y1="257.60" x2="120.40" y2="322.40" stroke="#4b5c8c" stroke-width="1.2"/>
<line x1="101.00" y1="307.80" x2="166.40" y2="307.80" stroke="#4b5c8c" stroke-width="1.2"/>
<rect x="101.00" y="257.60" width="65.40" height="64.80" fill="none" stroke="#2a2a2a" stroke-width="1.1"/>
<text x="30.54" y="264.20" font-size="5.6" fill="#555a66" stroke="#555a66" stroke-width="0.0" textLength="12.75" lengthAdjust="spacingAndGlyphs">56.8</text>
<text x="76.74" y="264.20" font-size="5.6" fill="#555a66" stroke="#555a66" stroke-width="0.0" textLength="16.34" lengthAdjust="spacingAndGlyphs">0.856</text>
<text x="31.45" y="320.80" font-size="5.6" fill="#555a66" stroke="#555a66" stroke-width="0.0" textLength="12.53" lengthAdjust="spacingAndGlyphs">41.8</text>
<text x="76.33" y="320.80" font-size="5.6" fill="#555a66" stroke="#555a66" stroke-width="0.0" textLength="17.00" lengthAdjust="spacingAndGlyphs">0.531</text>
<text x="102.25" y="264.20" font-size="5.6" fill="#555a66" stroke="#555a66" stroke-width="0.0" textLength="12.55" lengthAdjust="spacingAndGlyphs">38.9</text>
<text x="153.19" y="264.20" font-size="5.6" fill="#555a66" stroke="#555a66" stroke-width="0.0" textLength="12.11" lengthAdjust="spacingAndGlyphs">23.9</text>
<text x="102.17" y="320.80" font-size="5.6" fill="#555a66" stroke="#555a66" stroke-width="0.0" textLength="12.63" lengthAdjust="spacingAndGlyphs">29.9</text>
<text x="153.70" y="320.80" font-size="5.6" fill="#555a66" stroke="#555a66" stroke-width="0.0" textLength="11.57" lengthAdjust="spacingAndGlyphs">7.33</text>
<text x="49.70" y="251.60" font-size="9.8" fill="#231f20" stroke="#231f20" stroke-width="0.0" textLength="24.16" lengthAdjust="spacingAndGlyphs">CHIR</text>
<text x="121.61" y="251.60" font-size="9.8" fill="#231f20" stroke="#231f20" stroke-width="0.0" textLength="23.57" lengthAdjust="spacingAndGlyphs">IWP2</text>
<text x="23.80" y="290.10" font-size="10.0" fill="#231f20" stroke="#231f20" stroke-width="0.0" text-anchor="middle" textLength="17.40" lengthAdjust="spacingAndGlyphs" transform="rotate(-90 23.80 290.10)">KDR</text>
<text x="29.47" y="334.50" font-size="10.2" fill="#231f20" stroke="#231f20" stroke-width="0.0" textLength="30.73" lengthAdjust="spacingAndGlyphs">CD235a</text>
<line x1="72.00" y1="331.30" x2="160.80" y2="331.30" stroke="#231f20" stroke-width="1.2"/>
<path d="M167.30,331.30 L160.30,334.50 L161.50,331.30 L160.30,328.10 Z" fill="#231f20"/>
<rect x="212.50" y="263.40" width="35.10" height="29.60" fill="#37268a" stroke="none" stroke-width="1"/>
<rect x="247.60" y="263.40" width="35.40" height="29.60" fill="#ffffff" stroke="none" stroke-width="1"/>
<rect x="283.00" y="263.40" width="35.50" height="29.60" fill="#ffffff" stroke="none" stroke-width="1"/>
<rect x="212.50" y="293.00" width="35.10" height="29.80" fill="#b9b1d9" stroke="none" stroke-width="1"/>
<rect x="247.60" y="293.00" width="35.40" height="29.80" fill="#eeebf5" stroke="none" stroke-width="1"/>
<rect x="283.00" y="293.00" width="35.50" height="29.80" fill="#f8f7fb" stroke="none" stroke-width="1"/>
<rect x="212.50" y="322.80" width="35.10" height="28.80" fill="#5a419e" stroke="none" stroke-width="1"/>
<rect x="247.60" y="322.80" width="35.40" height="28.80" fill="#d6d0e8" stroke="none" stroke-width="1"/>
<rect x="283.00" y="322.80" width="35.50" height="28.80" fill="#fbfafd" stroke="none" stroke-width="1"/>
<line x1="212.50" y1="262.80" x2="212.50" y2="352.20" stroke="#111" stroke-width="1.3"/>
<line x1="247.60" y1="262.80" x2="247.60" y2="352.20" stroke="#111" stroke-width="1.3"/>
<line x1="283.00" y1="262.80" x2="283.00" y2="352.20" stroke="#111" stroke-width="1.3"/>
<line x1="318.50" y1="262.80" x2="318.50" y2="352.20" stroke="#111" stroke-width="1.3"/>
<line x1="212.50" y1="263.40" x2="318.50" y2="263.40" stroke="#111" stroke-width="1.3"/>
<line x1="212.50" y1="293.00" x2="318.50" y2="293.00" stroke="#111" stroke-width="1.3"/>
<line x1="212.50" y1="322.80" x2="318.50" y2="322.80" stroke="#111" stroke-width="1.3"/>
<line x1="212.50" y1="351.60" x2="318.50" y2="351.60" stroke="#111" stroke-width="1.3"/>
<text x="217.88" y="234.70" font-size="10" fill="#231f20" stroke="#231f20" stroke-width="0.0" textLength="24.99" lengthAdjust="spacingAndGlyphs">CHIR</text>
<text x="269.83" y="234.70" font-size="10" fill="#231f20" stroke="#231f20" stroke-width="0.0" textLength="25.70" lengthAdjust="spacingAndGlyphs">IWP2</text>
<line x1="250.00" y1="239.50" x2="315.30" y2="239.50" stroke="#333" stroke-width="1.2"/>
<text x="219.31" y="250.40" font-size="7.4" fill="#231f20" stroke="#231f20" stroke-width="0.0" textLength="22.60" lengthAdjust="spacingAndGlyphs">KDR+</text>
<text x="214.29" y="258.50" font-size="7.4" fill="#231f20" stroke="#231f20" stroke-width="0.0" textLength="32.58" lengthAdjust="spacingAndGlyphs">CD235a-</text>
<text x="253.93" y="250.40" font-size="7.4" fill="#231f20" stroke="#231f20" stroke-width="0.0" textLength="21.87" lengthAdjust="spacingAndGlyphs">KDR+</text>
<text x="249.59" y="258.50" font-size="7.4" fill="#231f20" stroke="#231f20" stroke-width="0.0" textLength="31.96" lengthAdjust="spacingAndGlyphs">CD235a-</text>
<text x="289.36" y="250.40" font-size="7.4" fill="#231f20" stroke="#231f20" stroke-width="0.0" textLength="21.02" lengthAdjust="spacingAndGlyphs">KDR+</text>
<text x="284.21" y="258.50" font-size="7.4" fill="#231f20" stroke="#231f20" stroke-width="0.0" textLength="32.36" lengthAdjust="spacingAndGlyphs">CD235a+</text>
<text x="189.56" y="280.80" font-size="7.9" fill="#231f20" stroke="#231f20" stroke-width="0.0" font-style="italic" textLength="21.10" lengthAdjust="spacingAndGlyphs">CDX1</text>
<text x="189.58" y="308.00" font-size="7.9" fill="#231f20" stroke="#231f20" stroke-width="0.0" font-style="italic" textLength="20.54" lengthAdjust="spacingAndGlyphs">CDX2</text>
<text x="189.57" y="337.00" font-size="7.9" fill="#231f20" stroke="#231f20" stroke-width="0.0" font-style="italic" textLength="20.72" lengthAdjust="spacingAndGlyphs">CDX4</text>
<defs><linearGradient id="cb" x1="0" x2="1" y1="0" y2="0"><stop offset="0" stop-color="#fbf8fc"/><stop offset="0.15" stop-color="#ece6f3"/><stop offset="0.55" stop-color="#9d8fc8"/><stop offset="1" stop-color="#37268a"/></linearGradient></defs>
<rect x="239.50" y="360.70" width="52.50" height="9.70" fill="url(#cb)" stroke="none" stroke-width="1"/>
<text x="294.23" y="368.70" font-size="7.4" fill="#231f20" stroke="#231f20" stroke-width="0.0" textLength="15.99" lengthAdjust="spacingAndGlyphs">TPM</text>
<text x="248.70" y="378.60" font-size="7.4" fill="#231f20" stroke="#231f20" stroke-width="0.0" textLength="4.22" lengthAdjust="spacingAndGlyphs">5</text>
<text x="259.68" y="378.60" font-size="7.4" fill="#231f20" stroke="#231f20" stroke-width="0.0" textLength="9.04" lengthAdjust="spacingAndGlyphs">10</text>
<text x="273.53" y="378.60" font-size="7.4" fill="#231f20" stroke="#231f20" stroke-width="0.0" textLength="8.39" lengthAdjust="spacingAndGlyphs">15</text>
<text x="284.56" y="378.60" font-size="7.4" fill="#231f20" stroke="#231f20" stroke-width="0.0" textLength="9.79" lengthAdjust="spacingAndGlyphs">20</text>
<line x1="379.20" y1="22.00" x2="379.20" y2="87.90" stroke="#111" stroke-width="1.3"/>
<line x1="377.00" y1="87.30" x2="473.70" y2="87.30" stroke="#111" stroke-width="1.5"/>
<line x1="376.00" y1="24.20" x2="379.20" y2="24.20" stroke="#111" stroke-width="1.2"/>
<line x1="376.00" y1="45.30" x2="379.20" y2="45.30" stroke="#111" stroke-width="1.2"/>
<line x1="376.00" y1="66.30" x2="379.20" y2="66.30" stroke="#111" stroke-width="1.2"/>
<line x1="376.00" y1="87.30" x2="379.20" y2="87.30" stroke="#111" stroke-width="1.2"/>
<line x1="386.00" y1="87.30" x2="386.00" y2="89.90" stroke="#111" stroke-width="1.2"/>
<line x1="399.40" y1="87.30" x2="399.40" y2="89.90" stroke="#111" stroke-width="1.2"/>
<line x1="413.00" y1="87.30" x2="413.00" y2="89.90" stroke="#111" stroke-width="1.2"/>
<line x1="426.50" y1="87.30" x2="426.50" y2="89.90" stroke="#111" stroke-width="1.2"/>
<line x1="440.10" y1="87.30" x2="440.10" y2="89.90" stroke="#111" stroke-width="1.2"/>
<line x1="453.70" y1="87.30" x2="453.70" y2="89.90" stroke="#111" stroke-width="1.2"/>
<line x1="467.20" y1="87.30" x2="467.20" y2="89.90" stroke="#111" stroke-width="1.2"/>
<polyline points="412.6,49.2 426.0,87.0 439.5,87.0 453.0,87.0 466.5,87.0" fill="none" stroke="#b5173c" stroke-width="2.0" stroke-linejoin="round"/>
<polyline points="412.6,49.2 426.0,40.1 439.5,74.2 453.0,81.5 466.5,84.3" fill="none" stroke="#2c4f8e" stroke-width="1.7" stroke-linejoin="round"/>
<polyline points="386.0,87.3 399.5,47.2 412.6,49.2 426.0,81.0 439.5,82.4 453.0,81.0 466.5,80.5" fill="none" stroke="#6aaf45" stroke-width="1.7" stroke-linejoin="round"/>
<line x1="399.50" y1="35.30" x2="399.50" y2="59.30" stroke="#6aaf45" stroke-width="1.1"/>
<line x1="396.90" y1="35.30" x2="402.10" y2="35.30" stroke="#6aaf45" stroke-width="1.1"/>
<line x1="396.90" y1="59.30" x2="402.10" y2="59.30" stroke="#6aaf45" stroke-width="1.1"/>
<line x1="412.60" y1="42.60" x2="412.60" y2="55.50" stroke="#6aaf45" stroke-width="1.1"/>
<line x1="410.00" y1="42.60" x2="415.20" y2="42.60" stroke="#6aaf45" stroke-width="1.1"/>
<line x1="410.00" y1="55.50" x2="415.20" y2="55.50" stroke="#6aaf45" stroke-width="1.1"/>
<line x1="426.00" y1="31.50" x2="426.00" y2="49.20" stroke="#2c4f8e" stroke-width="1.1"/>
<line x1="423.40" y1="31.50" x2="428.60" y2="31.50" stroke="#2c4f8e" stroke-width="1.1"/>
<line x1="423.40" y1="49.20" x2="428.60" y2="49.20" stroke="#2c4f8e" stroke-width="1.1"/>
<line x1="439.50" y1="65.10" x2="439.50" y2="82.40" stroke="#2c4f8e" stroke-width="1.1"/>
<line x1="436.90" y1="65.10" x2="442.10" y2="65.10" stroke="#2c4f8e" stroke-width="1.1"/>
<line x1="436.90" y1="82.40" x2="442.10" y2="82.40" stroke="#2c4f8e" stroke-width="1.1"/>
<path d="M412.6,46.0 L415.8,51.3 L409.4,51.3 Z" fill="#b5173c"/>
<path d="M426.0,83.8 L429.2,89.1 L422.8,89.1 Z" fill="#b5173c"/>
<path d="M439.5,83.8 L442.7,89.1 L436.3,89.1 Z" fill="#b5173c"/>
<path d="M453.0,83.8 L456.2,89.1 L449.8,89.1 Z" fill="#b5173c"/>
<path d="M466.5,83.8 L469.7,89.1 L463.3,89.1 Z" fill="#b5173c"/>
<rect x="410.10" y="46.70" width="5.00" height="5.00" fill="#2c4f8e" stroke="none" stroke-width="1"/>
<rect x="423.50" y="37.60" width="5.00" height="5.00" fill="#2c4f8e" stroke="none" stroke-width="1"/>
<rect x="437.00" y="71.70" width="5.00" height="5.00" fill="#2c4f8e" stroke="none" stroke-width="1"/>
<rect x="450.50" y="79.00" width="5.00" height="5.00" fill="#2c4f8e" stroke="none" stroke-width="1"/>
<rect x="464.00" y="81.80" width="5.00" height="5.00" fill="#2c4f8e" stroke="none" stroke-width="1"/>
<circle cx="386.00" cy="87.30" r="2.80" fill="#6aaf45" stroke="none" stroke-width="1"/>
<circle cx="399.50" cy="47.20" r="2.80" fill="#6aaf45" stroke="none" stroke-width="1"/>
<circle cx="412.60" cy="49.20" r="2.80" fill="#6aaf45" stroke="none" stroke-width="1"/>
<circle cx="426.00" cy="81.00" r="2.80" fill="#6aaf45" stroke="none" stroke-width="1"/>
<circle cx="439.50" cy="82.40" r="2.80" fill="#6aaf45" stroke="none" stroke-width="1"/>
<circle cx="453.00" cy="81.00" r="2.80" fill="#6aaf45" stroke="none" stroke-width="1"/>
<circle cx="466.50" cy="80.50" r="2.80" fill="#6aaf45" stroke="none" stroke-width="1"/>
<rect x="412.20" y="25.30" width="13.80" height="61.20" fill="#c9cde3" stroke="none" stroke-width="1" opacity="0.68"/>
<text x="351.95" y="27.20" font-size="8.6" fill="#231f20" stroke="#231f20" stroke-width="0.0" textLength="21.10" lengthAdjust="spacingAndGlyphs">0.015</text>
<text x="351.95" y="48.30" font-size="8.6" fill="#231f20" stroke="#231f20" stroke-width="0.0" textLength="21.08" lengthAdjust="spacingAndGlyphs">0.010</text>
<text x="351.95" y="69.30" font-size="8.6" fill="#231f20" stroke="#231f20" stroke-width="0.0" textLength="21.10" lengthAdjust="spacingAndGlyphs">0.005</text>
<text x="351.95" y="90.30" font-size="8.6" fill="#231f20" stroke="#231f20" stroke-width="0.0" textLength="21.08" lengthAdjust="spacingAndGlyphs">0.000</text>
<text x="383.56" y="100.20" font-size="8.3" fill="#231f20" stroke="#231f20" stroke-width="0.0" textLength="4.89" lengthAdjust="spacingAndGlyphs">0</text>
<text x="396.56" y="100.20" font-size="8.3" fill="#231f20" stroke="#231f20" stroke-width="0.0" textLength="5.42" lengthAdjust="spacingAndGlyphs">1</text>
<text x="410.44" y="100.20" font-size="8.3" fill="#231f20" stroke="#231f20" stroke-width="0.0" textLength="5.13" lengthAdjust="spacingAndGlyphs">2</text>
<text x="424.06" y="100.20" font-size="8.3" fill="#231f20" stroke="#231f20" stroke-width="0.0" textLength="4.93" lengthAdjust="spacingAndGlyphs">3</text>
<text x="437.81" y="100.20" font-size="8.3" fill="#231f20" stroke="#231f20" stroke-width="0.0" textLength="4.64" lengthAdjust="spacingAndGlyphs">4</text>
<text x="451.25" y="100.20" font-size="8.3" fill="#231f20" stroke="#231f20" stroke-width="0.0" textLength="4.93" lengthAdjust="spacingAndGlyphs">5</text>
<text x="464.64" y="100.20" font-size="8.3" fill="#231f20" stroke="#231f20" stroke-width="0.0" textLength="5.06" lengthAdjust="spacingAndGlyphs">6</text>
<text x="418.89" y="112.70" font-size="9.2" fill="#231f20" stroke="#231f20" stroke-width="0.0" textLength="15.43" lengthAdjust="spacingAndGlyphs">Day</text>
<text x="384.89" y="28.60" font-size="7.4" fill="#231f20" stroke="#231f20" stroke-width="0.0" font-style="italic" textLength="19.73" lengthAdjust="spacingAndGlyphs">CDX1</text>
<text x="427.6" y="29.4" font-size="8" text-anchor="middle" fill="#231f20" stroke="#231f20" stroke-width="0.3">*</text>
<text x="347.3" y="53.0" font-size="10.6" text-anchor="middle" fill="#231f20" stroke="#231f20" stroke-width="0.0" textLength="65.9" lengthAdjust="spacingAndGlyphs" transform="rotate(-90 347.3 53.0)">Relative to <tspan font-style="italic">ACTB</tspan></text>
<line x1="378.80" y1="133.70" x2="378.80" y2="199.90" stroke="#111" stroke-width="1.3"/>
<line x1="376.50" y1="199.30" x2="474.80" y2="199.30" stroke="#111" stroke-width="1.5"/>
<line x1="375.60" y1="135.70" x2="378.80" y2="135.70" stroke="#111" stroke-width="1.2"/>
<line x1="375.60" y1="157.20" x2="378.80" y2="157.20" stroke="#111" stroke-width="1.2"/>
<line x1="375.60" y1="178.50" x2="378.80" y2="178.50" stroke="#111" stroke-width="1.2"/>
<line x1="375.60" y1="199.20" x2="378.80" y2="199.20" stroke="#111" stroke-width="1.2"/>
<line x1="386.00" y1="199.30" x2="386.00" y2="201.90" stroke="#111" stroke-width="1.2"/>
<line x1="399.60" y1="199.30" x2="399.60" y2="201.90" stroke="#111" stroke-width="1.2"/>
<line x1="413.00" y1="199.30" x2="413.00" y2="201.90" stroke="#111" stroke-width="1.2"/>
<line x1="426.50" y1="199.30" x2="426.50" y2="201.90" stroke="#111" stroke-width="1.2"/>
<line x1="440.40" y1="199.30" x2="440.40" y2="201.90" stroke="#111" stroke-width="1.2"/>
<line x1="453.80" y1="199.30" x2="453.80" y2="201.90" stroke="#111" stroke-width="1.2"/>
<line x1="467.70" y1="199.30" x2="467.70" y2="201.90" stroke="#111" stroke-width="1.2"/>
<polyline points="413.0,168.5 427.0,198.3 440.5,195.8 454.0,195.4 467.5,194.4" fill="none" stroke="#b5173c" stroke-width="2.0" stroke-linejoin="round"/>
<polyline points="413.0,168.5 427.0,155.0 440.5,182.9 454.0,190.0 467.5,188.7" fill="none" stroke="#2c4f8e" stroke-width="1.7" stroke-linejoin="round"/>
<polyline points="386.0,199.3 399.5,181.0 413.0,168.5 427.0,190.0 440.5,185.8 454.0,182.3 467.5,182.9" fill="none" stroke="#6aaf45" stroke-width="1.7" stroke-linejoin="round"/>
<line x1="413.00" y1="163.70" x2="413.00" y2="172.70" stroke="#6aaf45" stroke-width="1.1"/>
<line x1="410.40" y1="163.70" x2="415.60" y2="163.70" stroke="#6aaf45" stroke-width="1.1"/>
<line x1="410.40" y1="172.70" x2="415.60" y2="172.70" stroke="#6aaf45" stroke-width="1.1"/>
<line x1="427.00" y1="147.30" x2="427.00" y2="164.20" stroke="#2c4f8e" stroke-width="1.1"/>
<line x1="424.40" y1="147.30" x2="429.60" y2="147.30" stroke="#2c4f8e" stroke-width="1.1"/>
<line x1="424.40" y1="164.20" x2="429.60" y2="164.20" stroke="#2c4f8e" stroke-width="1.1"/>
<line x1="440.50" y1="176.50" x2="440.50" y2="185.80" stroke="#2c4f8e" stroke-width="1.1"/>
<line x1="437.90" y1="176.50" x2="443.10" y2="176.50" stroke="#2c4f8e" stroke-width="1.1"/>
<line x1="437.90" y1="185.80" x2="443.10" y2="185.80" stroke="#2c4f8e" stroke-width="1.1"/>
<path d="M413.0,165.3 L416.2,170.6 L409.8,170.6 Z" fill="#b5173c"/>
<path d="M427.0,195.1 L430.2,200.4 L423.8,200.4 Z" fill="#b5173c"/>
<path d="M440.5,192.6 L443.7,197.9 L437.3,197.9 Z" fill="#b5173c"/>
<path d="M454.0,192.2 L457.2,197.5 L450.8,197.5 Z" fill="#b5173c"/>
<path d="M467.5,191.2 L470.7,196.5 L464.3,196.5 Z" fill="#b5173c"/>
<rect x="410.50" y="166.00" width="5.00" height="5.00" fill="#2c4f8e" stroke="none" stroke-width="1"/>
<rect x="424.50" y="152.50" width="5.00" height="5.00" fill="#2c4f8e" stroke="none" stroke-width="1"/>
<rect x="438.00" y="180.40" width="5.00" height="5.00" fill="#2c4f8e" stroke="none" stroke-width="1"/>
<rect x="451.50" y="187.50" width="5.00" height="5.00" fill="#2c4f8e" stroke="none" stroke-width="1"/>
<rect x="465.00" y="186.20" width="5.00" height="5.00" fill="#2c4f8e" stroke="none" stroke-width="1"/>
<circle cx="386.00" cy="199.30" r="2.80" fill="#6aaf45" stroke="none" stroke-width="1"/>
<circle cx="399.50" cy="181.00" r="2.80" fill="#6aaf45" stroke="none" stroke-width="1"/>
<circle cx="413.00" cy="168.50" r="2.80" fill="#6aaf45" stroke="none" stroke-width="1"/>
<circle cx="427.00" cy="190.00" r="2.80" fill="#6aaf45" stroke="none" stroke-width="1"/>
<circle cx="440.50" cy="185.80" r="2.80" fill="#6aaf45" stroke="none" stroke-width="1"/>
<circle cx="454.00" cy="182.30" r="2.80" fill="#6aaf45" stroke="none" stroke-width="1"/>
<circle cx="467.50" cy="182.90" r="2.80" fill="#6aaf45" stroke="none" stroke-width="1"/>
<rect x="413.20" y="135.80" width="13.80" height="62.70" fill="#c9cde3" stroke="none" stroke-width="1" opacity="0.68"/>
<text x="356.53" y="138.70" font-size="8.6" fill="#231f20" stroke="#231f20" stroke-width="0.0" textLength="16.33" lengthAdjust="spacingAndGlyphs">0.03</text>
<text x="356.53" y="160.20" font-size="8.6" fill="#231f20" stroke="#231f20" stroke-width="0.0" textLength="16.39" lengthAdjust="spacingAndGlyphs">0.02</text>
<text x="356.53" y="181.50" font-size="8.6" fill="#231f20" stroke="#231f20" stroke-width="0.0" textLength="16.38" lengthAdjust="spacingAndGlyphs">0.01</text>
<text x="356.53" y="202.20" font-size="8.6" fill="#231f20" stroke="#231f20" stroke-width="0.0" textLength="16.29" lengthAdjust="spacingAndGlyphs">0.00</text>
<text x="383.56" y="212.60" font-size="8.3" fill="#231f20" stroke="#231f20" stroke-width="0.0" textLength="4.89" lengthAdjust="spacingAndGlyphs">0</text>
<text x="396.76" y="212.60" font-size="8.3" fill="#231f20" stroke="#231f20" stroke-width="0.0" textLength="5.42" lengthAdjust="spacingAndGlyphs">1</text>
<text x="410.44" y="212.60" font-size="8.3" fill="#231f20" stroke="#231f20" stroke-width="0.0" textLength="5.13" lengthAdjust="spacingAndGlyphs">2</text>
<text x="424.06" y="212.60" font-size="8.3" fill="#231f20" stroke="#231f20" stroke-width="0.0" textLength="4.93" lengthAdjust="spacingAndGlyphs">3</text>
<text x="438.11" y="212.60" font-size="8.3" fill="#231f20" stroke="#231f20" stroke-width="0.0" textLength="4.64" lengthAdjust="spacingAndGlyphs">4</text>
<text x="451.35" y="212.60" font-size="8.3" fill="#231f20" stroke="#231f20" stroke-width="0.0" textLength="4.93" lengthAdjust="spacingAndGlyphs">5</text>
<text x="465.14" y="212.60" font-size="8.3" fill="#231f20" stroke="#231f20" stroke-width="0.0" textLength="5.06" lengthAdjust="spacingAndGlyphs">6</text>
<text x="418.89" y="225.00" font-size="9.2" fill="#231f20" stroke="#231f20" stroke-width="0.0" textLength="15.43" lengthAdjust="spacingAndGlyphs">Day</text>
<text x="384.85" y="140.00" font-size="7.4" fill="#231f20" stroke="#231f20" stroke-width="0.0" font-style="italic" textLength="21.77" lengthAdjust="spacingAndGlyphs">CDX2</text>
<text x="427.6" y="142.8" font-size="8" text-anchor="middle" fill="#231f20" stroke="#231f20" stroke-width="0.3">*</text>
<text x="347.6" y="169.1" font-size="10.6" text-anchor="middle" fill="#231f20" stroke="#231f20" stroke-width="0.0" textLength="65.3" lengthAdjust="spacingAndGlyphs" transform="rotate(-90 347.6 169.1)">Relative to <tspan font-style="italic">ACTB</tspan></text>
<line x1="380.70" y1="245.50" x2="380.70" y2="312.10" stroke="#111" stroke-width="1.3"/>
<line x1="377.90" y1="311.50" x2="475.70" y2="311.50" stroke="#111" stroke-width="1.5"/>
<line x1="377.50" y1="247.60" x2="380.70" y2="247.60" stroke="#111" stroke-width="1.2"/>
<line x1="377.50" y1="269.40" x2="380.70" y2="269.40" stroke="#111" stroke-width="1.2"/>
<line x1="377.50" y1="290.70" x2="380.70" y2="290.70" stroke="#111" stroke-width="1.2"/>
<line x1="377.50" y1="311.60" x2="380.70" y2="311.60" stroke="#111" stroke-width="1.2"/>
<line x1="387.50" y1="311.50" x2="387.50" y2="314.10" stroke="#111" stroke-width="1.2"/>
<line x1="401.00" y1="311.50" x2="401.00" y2="314.10" stroke="#111" stroke-width="1.2"/>
<line x1="414.80" y1="311.50" x2="414.80" y2="314.10" stroke="#111" stroke-width="1.2"/>
<line x1="427.90" y1="311.50" x2="427.90" y2="314.10" stroke="#111" stroke-width="1.2"/>
<line x1="441.30" y1="311.50" x2="441.30" y2="314.10" stroke="#111" stroke-width="1.2"/>
<line x1="455.40" y1="311.50" x2="455.40" y2="314.10" stroke="#111" stroke-width="1.2"/>
<line x1="468.80" y1="311.50" x2="468.80" y2="314.10" stroke="#111" stroke-width="1.2"/>
<polyline points="414.6,289.7 428.5,309.3 442.0,310.5 455.5,311.0 468.8,311.0" fill="none" stroke="#b5173c" stroke-width="2.0" stroke-linejoin="round"/>
<polyline points="414.6,289.7 428.5,269.9 442.0,297.4 455.5,309.0 468.8,310.5" fill="none" stroke="#2c4f8e" stroke-width="1.7" stroke-linejoin="round"/>
<polyline points="387.7,310.3 401.2,307.8 414.6,289.7 428.5,303.2 442.0,308.3 455.5,309.5 468.8,310.3" fill="none" stroke="#6aaf45" stroke-width="1.7" stroke-linejoin="round"/>
<line x1="442.00" y1="293.50" x2="442.00" y2="303.20" stroke="#2c4f8e" stroke-width="1.1"/>
<line x1="439.40" y1="293.50" x2="444.60" y2="293.50" stroke="#2c4f8e" stroke-width="1.1"/>
<line x1="439.40" y1="303.20" x2="444.60" y2="303.20" stroke="#2c4f8e" stroke-width="1.1"/>
<path d="M414.6,286.5 L417.8,291.8 L411.4,291.8 Z" fill="#b5173c"/>
<path d="M428.5,306.1 L431.7,311.4 L425.3,311.4 Z" fill="#b5173c"/>
<path d="M442.0,307.3 L445.2,312.6 L438.8,312.6 Z" fill="#b5173c"/>
<path d="M455.5,307.8 L458.7,313.1 L452.3,313.1 Z" fill="#b5173c"/>
<path d="M468.8,307.8 L472.0,313.1 L465.6,313.1 Z" fill="#b5173c"/>
<rect x="412.10" y="287.20" width="5.00" height="5.00" fill="#2c4f8e" stroke="none" stroke-width="1"/>
<rect x="426.00" y="267.40" width="5.00" height="5.00" fill="#2c4f8e" stroke="none" stroke-width="1"/>
<rect x="439.50" y="294.90" width="5.00" height="5.00" fill="#2c4f8e" stroke="none" stroke-width="1"/>
<rect x="453.00" y="306.50" width="5.00" height="5.00" fill="#2c4f8e" stroke="none" stroke-width="1"/>
<rect x="466.30" y="308.00" width="5.00" height="5.00" fill="#2c4f8e" stroke="none" stroke-width="1"/>
<circle cx="387.70" cy="310.30" r="2.80" fill="#6aaf45" stroke="none" stroke-width="1"/>
<circle cx="401.20" cy="307.80" r="2.80" fill="#6aaf45" stroke="none" stroke-width="1"/>
<circle cx="414.60" cy="289.70" r="2.80" fill="#6aaf45" stroke="none" stroke-width="1"/>
<circle cx="428.50" cy="303.20" r="2.80" fill="#6aaf45" stroke="none" stroke-width="1"/>
<circle cx="442.00" cy="308.30" r="2.80" fill="#6aaf45" stroke="none" stroke-width="1"/>
<circle cx="455.50" cy="309.50" r="2.80" fill="#6aaf45" stroke="none" stroke-width="1"/>
<circle cx="468.80" cy="310.30" r="2.80" fill="#6aaf45" stroke="none" stroke-width="1"/>
<rect x="414.20" y="247.80" width="13.90" height="62.90" fill="#c9cde3" stroke="none" stroke-width="1" opacity="0.68"/>
<text x="354.85" y="250.60" font-size="8.6" fill="#231f20" stroke="#231f20" stroke-width="0.0" textLength="21.10" lengthAdjust="spacingAndGlyphs">0.015</text>
<text x="354.85" y="272.40" font-size="8.6" fill="#231f20" stroke="#231f20" stroke-width="0.0" textLength="21.08" lengthAdjust="spacingAndGlyphs">0.010</text>
<text x="354.85" y="293.70" font-size="8.6" fill="#231f20" stroke="#231f20" stroke-width="0.0" textLength="21.10" lengthAdjust="spacingAndGlyphs">0.005</text>
<text x="354.85" y="314.60" font-size="8.6" fill="#231f20" stroke="#231f20" stroke-width="0.0" textLength="21.08" lengthAdjust="spacingAndGlyphs">0.000</text>
<text x="385.06" y="324.40" font-size="8.3" fill="#231f20" stroke="#231f20" stroke-width="0.0" textLength="4.89" lengthAdjust="spacingAndGlyphs">0</text>
<text x="398.16" y="324.40" font-size="8.3" fill="#231f20" stroke="#231f20" stroke-width="0.0" textLength="5.42" lengthAdjust="spacingAndGlyphs">1</text>
<text x="412.24" y="324.40" font-size="8.3" fill="#231f20" stroke="#231f20" stroke-width="0.0" textLength="5.13" lengthAdjust="spacingAndGlyphs">2</text>
<text x="425.46" y="324.40" font-size="8.3" fill="#231f20" stroke="#231f20" stroke-width="0.0" textLength="4.93" lengthAdjust="spacingAndGlyphs">3</text>
<text x="439.01" y="324.40" font-size="8.3" fill="#231f20" stroke="#231f20" stroke-width="0.0" textLength="4.64" lengthAdjust="spacingAndGlyphs">4</text>
<text x="452.95" y="324.40" font-size="8.3" fill="#231f20" stroke="#231f20" stroke-width="0.0" textLength="4.93" lengthAdjust="spacingAndGlyphs">5</text>
<text x="466.24" y="324.40" font-size="8.3" fill="#231f20" stroke="#231f20" stroke-width="0.0" textLength="5.06" lengthAdjust="spacingAndGlyphs">6</text>
<text x="420.29" y="337.50" font-size="9.2" fill="#231f20" stroke="#231f20" stroke-width="0.0" textLength="15.43" lengthAdjust="spacingAndGlyphs">Day</text>
<text x="386.87" y="252.60" font-size="7.4" fill="#231f20" stroke="#231f20" stroke-width="0.0" font-style="italic" textLength="20.72" lengthAdjust="spacingAndGlyphs">CDX4</text>
<text x="429.6" y="258.6" font-size="8" text-anchor="middle" fill="#231f20" stroke="#231f20" stroke-width="0.3">*</text>
<text x="347.6" y="277.8" font-size="10.6" text-anchor="middle" fill="#231f20" stroke="#231f20" stroke-width="0.0" textLength="65.3" lengthAdjust="spacingAndGlyphs" transform="rotate(-90 347.6 277.8)">Relative to <tspan font-style="italic">ACTB</tspan></text>
<line x1="445.40" y1="26.40" x2="454.80" y2="26.40" stroke="#b5173c" stroke-width="1.6"/>
<path d="M450.1,23.5 L453.0,28.2 L447.2,28.2 Z" fill="#b5173c"/>
<text x="457.89" y="28.80" font-size="7.6" fill="#231f20" stroke="#231f20" stroke-width="0.0" textLength="18.80" lengthAdjust="spacingAndGlyphs">IWP2</text>
<line x1="445.40" y1="35.90" x2="454.80" y2="35.90" stroke="#2c4f8e" stroke-width="1.6"/>
<rect x="447.80" y="33.60" width="4.60" height="4.60" fill="#2c4f8e" stroke="none" stroke-width="1"/>
<text x="458.22" y="38.30" font-size="7.6" fill="#231f20" stroke="#231f20" stroke-width="0.0" textLength="18.43" lengthAdjust="spacingAndGlyphs">CHIR</text>
<line x1="445.40" y1="45.30" x2="454.80" y2="45.30" stroke="#6aaf45" stroke-width="1.6"/>
<circle cx="450.10" cy="45.30" r="2.30" fill="#6aaf45" stroke="none" stroke-width="1"/>
<text x="457.98" y="47.70" font-size="7.6" fill="#231f20" stroke="#231f20" stroke-width="0.0" textLength="22.79" lengthAdjust="spacingAndGlyphs">DMSO</text>
<g stroke-linejoin="round">
<path d="M55.5,427.5 C54.8,429.6 52.9,435.7 51.5,440.0 C50.1,444.3 47.8,451.2 47.0,453.5" fill="none" stroke="#585d72" stroke-width="0.6"/>
<path d="M56.0,429.0 C55.4,431.2 53.6,437.8 52.5,442.0 C51.4,446.2 50.0,452.4 49.5,454.5" fill="none" stroke="#585d72" stroke-width="0.6"/>
<path d="M55.5,432.0 C55.1,434.0 53.7,440.2 53.0,444.0 C52.3,447.8 51.8,453.2 51.5,455.0" fill="none" stroke="#585d72" stroke-width="0.6"/>
<path d="M53.0,428.5 C52.7,429.8 51.7,433.4 51.0,436.0 C50.3,438.6 49.1,441.3 49.0,444.0 C48.9,446.7 49.7,450.2 50.5,452.0 C51.3,453.8 53.4,454.5 54.0,455.0" fill="none" stroke="#585d72" stroke-width="0.6"/>
<path d="M51.5,431.0 C51.2,432.5 50.0,437.0 49.5,440.0 C49.0,443.0 48.1,446.6 48.5,449.0 C48.9,451.4 51.4,453.6 52.0,454.5" fill="none" stroke="#585d72" stroke-width="0.6"/>
<path d="M56.5,427.2 C58.0,425.4 61.5,426.2 64.0,426.2 C66.5,426.2 69.6,426.1 71.7,427.2 C73.8,428.2 75.8,430.2 76.8,432.5 C77.8,434.8 77.5,438.2 77.6,441.0 C77.7,443.8 78.2,447.8 77.2,449.5 C76.2,451.2 73.9,451.0 71.5,451.0 C69.1,451.0 65.4,450.3 63.0,449.5 C60.6,448.7 58.3,448.1 57.0,446.0 C55.7,443.9 55.3,440.1 55.2,437.0 C55.1,433.9 55.0,429.0 56.5,427.2Z" fill="#a0a0a0" stroke="#7a7a7a" stroke-width="0.5"/>
<path d="M58.2,429.1 C59.4,427.7 62.3,428.3 64.4,428.3 C66.4,428.3 68.9,428.3 70.7,429.1 C72.4,430.0 74.0,431.6 74.9,433.5 C75.7,435.4 75.5,438.1 75.5,440.5 C75.6,442.8 76.0,446.1 75.2,447.4 C74.4,448.8 72.5,448.7 70.5,448.7 C68.6,448.7 65.5,448.1 63.5,447.4 C61.6,446.7 59.7,446.3 58.6,444.6 C57.6,442.9 57.2,439.7 57.1,437.2 C57.1,434.6 57.0,430.6 58.2,429.1Z" fill="#b2b2b2" stroke="#3a3a3a" stroke-width="0.5"/>
<path d="M60.1,431.3 C61.0,430.2 63.2,430.7 64.8,430.7 C66.3,430.7 68.2,430.7 69.5,431.3 C70.9,432.0 72.1,433.2 72.7,434.6 C73.3,436.0 73.2,438.1 73.2,439.9 C73.2,441.6 73.6,444.1 72.9,445.1 C72.3,446.2 70.9,446.1 69.4,446.1 C67.9,446.1 65.6,445.6 64.1,445.1 C62.6,444.6 61.2,444.3 60.4,443.0 C59.6,441.7 59.4,439.3 59.3,437.4 C59.3,435.4 59.2,432.4 60.1,431.3Z" fill="#c6c6c6" stroke="#444" stroke-width="0.5"/>
<path d="M58.5,431.0 C59.1,430.0 61.5,429.5 62.5,430.0 C63.5,430.5 64.6,432.8 64.5,434.0 C64.4,435.2 62.9,436.7 62.0,437.0 C61.1,437.3 59.6,437.0 59.0,436.0 C58.4,435.0 57.9,432.0 58.5,431.0Z" fill="#5a5a5a" stroke="#222" stroke-width="0.6"/>
<path d="M57.5,434.5 L64.5,440" stroke="#333" stroke-width="1.3" fill="none"/>
<path d="M60,444 C63,446 67,447 70,446" stroke="#444" stroke-width="0.6" fill="none"/>
<path d="M62.5,434.5 C63.1,433.7 65.5,433.0 66.5,433.5 C67.5,434.0 68.6,436.4 68.5,437.5 C68.4,438.6 66.9,439.8 66.0,440.0 C65.1,440.2 63.6,439.4 63.0,438.5 C62.4,437.6 61.9,435.3 62.5,434.5Z" fill="#f2f2f2" stroke="#555" stroke-width="0.5"/>
<path d="M66.0,441.5 C66.8,440.8 69.5,440.4 70.5,441.0 C71.5,441.6 72.3,444.0 72.0,445.0 C71.7,446.0 69.6,447.0 68.5,447.0 C67.4,447.0 65.9,445.9 65.5,445.0 C65.1,444.1 65.2,442.2 66.0,441.5Z" fill="#e6e6e6" stroke="#666" stroke-width="0.5"/>
<path d="M59.2,463.0 C59.5,461.5 61.0,458.8 62.5,457.0 C64.0,455.2 66.7,453.6 68.5,452.5 C70.3,451.4 72.0,450.2 73.5,450.5 C75.0,450.8 77.0,452.7 77.8,454.5 C78.6,456.3 79.0,459.4 78.4,461.5 C77.9,463.6 76.6,466.2 74.5,467.2 C72.4,468.2 68.3,467.7 66.0,467.5 C63.7,467.3 61.6,466.8 60.5,466.0 C59.4,465.2 58.9,464.5 59.2,463.0Z" fill="#b2b2b2" stroke="#0a0a0a" stroke-width="1.7"/>
<path d="M63.0,462.3 C63.2,461.3 64.1,459.5 65.1,458.4 C66.1,457.3 67.8,456.2 69.0,455.5 C70.2,454.8 71.3,454.0 72.3,454.2 C73.3,454.4 74.5,455.6 75.1,456.8 C75.6,458.0 75.8,459.9 75.5,461.3 C75.1,462.7 74.3,464.4 72.9,465.0 C71.6,465.7 68.9,465.4 67.4,465.2 C65.9,465.1 64.6,464.7 63.8,464.2 C63.1,463.8 62.8,463.3 63.0,462.3Z" fill="#cacaca" stroke="#666" stroke-width="0.5"/>
<path d="M66.9,462.0 C67.0,461.5 67.5,460.5 68.0,459.9 C68.6,459.3 69.5,458.7 70.1,458.4 C70.8,458.0 71.3,457.5 71.9,457.6 C72.4,457.8 73.1,458.4 73.4,459.1 C73.7,459.7 73.8,460.8 73.6,461.5 C73.4,462.2 72.9,463.1 72.2,463.5 C71.5,463.8 70.1,463.7 69.2,463.6 C68.4,463.5 67.7,463.3 67.3,463.1 C66.9,462.8 66.8,462.5 66.9,462.0Z" fill="#e2e2e2" stroke="#777" stroke-width="0.4"/>
<path d="M42.2,463.5 C42.2,462.4 43.7,460.8 45.0,460.2 C46.3,459.6 48.3,459.5 50.0,459.8 C51.7,460.1 54.4,461.1 55.2,462.0 C56.0,462.9 55.9,464.6 55.0,465.5 C54.1,466.4 51.7,467.1 50.0,467.3 C48.3,467.6 46.3,467.6 45.0,467.0 C43.7,466.4 42.2,464.6 42.2,463.5Z" fill="#a4a4a4" stroke="#555" stroke-width="0.5"/>
<ellipse cx="48.3" cy="463.6" rx="4.3" ry="2.5" fill="#f5f5f5" stroke="#111" stroke-width="1.4"/>
<ellipse cx="48.3" cy="463.6" rx="1.6" ry="0.9" fill="#fff" stroke="#333" stroke-width="0.5"/>
</g>
<line x1="54.80" y1="412.10" x2="54.80" y2="477.20" stroke="#4b5c8c" stroke-width="1.2"/>
<line x1="28.80" y1="454.20" x2="94.20" y2="454.20" stroke="#4b5c8c" stroke-width="1.2"/>
<rect x="28.80" y="412.10" width="65.40" height="65.10" fill="none" stroke="#2a2a2a" stroke-width="1.1"/>
<g stroke-linejoin="round">
<path d="M128.7,420.4 C125.6,421.4 123.4,423.2 121.7,425.8 C120.0,428.4 119.0,432.4 118.5,436.0 C118.0,439.6 117.6,444.4 118.5,447.4 C119.4,450.4 121.8,451.7 123.9,453.9 C126.0,456.1 127.6,458.5 131.0,460.5 C134.4,462.5 140.7,465.6 144.4,465.8 C148.1,466.1 151.0,464.0 153.0,462.0 C155.0,460.0 156.1,457.6 156.3,453.9 C156.6,450.2 155.1,444.7 154.5,440.0 C153.9,435.3 155.4,429.2 153.0,425.8 C150.6,422.4 144.1,420.8 140.0,419.9 C135.9,419.0 131.8,419.4 128.7,420.4Z" fill="#f3f3f3" stroke="#8e8e8e" stroke-width="0.5"/>
<path d="M129.4,422.2 C126.6,423.1 124.5,424.8 122.9,427.2 C121.4,429.6 120.5,433.2 120.0,436.6 C119.5,439.9 119.2,444.3 120.0,447.0 C120.8,449.8 123.0,451.0 124.9,453.0 C126.9,455.0 128.3,457.3 131.5,459.1 C134.6,460.9 140.4,463.7 143.8,464.0 C147.2,464.2 149.9,462.3 151.7,460.5 C153.5,458.7 154.5,456.4 154.8,453.0 C155.0,449.7 153.6,444.5 153.1,440.2 C152.6,435.9 153.9,430.3 151.7,427.2 C149.5,424.1 143.5,422.6 139.8,421.7 C136.0,420.9 132.2,421.3 129.4,422.2Z" fill="none" stroke="#8e8e8e" stroke-width="0.5"/>
<path d="M130.2,424.0 C127.6,424.8 125.7,426.4 124.3,428.6 C122.9,430.7 122.1,434.1 121.6,437.1 C121.2,440.1 120.9,444.2 121.6,446.7 C122.4,449.2 124.4,450.3 126.2,452.2 C127.9,454.0 129.2,456.0 132.1,457.7 C135.0,459.4 140.3,461.9 143.4,462.2 C146.5,462.4 148.9,460.6 150.6,459.0 C152.3,457.3 153.2,455.2 153.4,452.2 C153.6,449.1 152.3,444.4 151.9,440.5 C151.4,436.5 152.6,431.4 150.6,428.6 C148.6,425.7 143.1,424.4 139.7,423.6 C136.3,422.8 132.8,423.2 130.2,424.0Z" fill="#e6e6e6" stroke="#7e7e7e" stroke-width="0.5"/>
<path d="M130.0,424.0 C131.6,419.8 136.8,421.0 140.0,421.0 C143.2,421.0 147.0,420.8 149.0,424.0 C151.0,427.2 151.2,434.8 152.0,440.0 C152.8,445.2 154.2,451.0 153.5,455.0 C152.8,459.0 150.2,462.4 148.0,464.0 C145.8,465.6 142.5,465.5 140.0,464.5 C137.5,463.5 134.6,461.1 133.0,458.0 C131.4,454.9 131.0,451.7 130.5,446.0 C130.0,440.3 128.4,428.2 130.0,424.0Z" fill="#c4c4c4" stroke="#6a6a6a" stroke-width="0.5"/>
<path d="M132.2,428.8 C133.5,425.5 137.7,426.4 140.2,426.4 C142.7,426.4 145.8,426.3 147.4,428.8 C149.0,431.3 149.2,437.5 149.8,441.6 C150.4,445.7 151.5,450.4 151.0,453.6 C150.5,456.8 148.4,459.5 146.6,460.8 C144.8,462.1 142.2,462.0 140.2,461.2 C138.2,460.4 135.9,458.5 134.6,456.0 C133.3,453.5 133.0,450.9 132.6,446.4 C132.2,441.9 130.9,432.1 132.2,428.8Z" fill="#b0b0b0" stroke="#555" stroke-width="0.5"/>
<path d="M130.0,429.0 C130.1,426.6 131.3,423.8 133.0,422.5 C134.7,421.2 137.7,421.0 140.0,421.2 C142.3,421.4 145.6,422.0 147.0,423.5 C148.4,425.0 148.7,427.8 148.5,430.0 C148.3,432.2 147.6,435.4 146.0,437.0 C144.4,438.6 141.2,439.5 139.0,439.5 C136.8,439.5 134.0,438.8 132.5,437.0 C131.0,435.2 129.9,431.4 130.0,429.0Z" fill="#4a4a4a" stroke="#111" stroke-width="0.7"/>
<path d="M133.5,428.0 C133.8,426.2 135.9,425.2 137.5,424.8 C139.1,424.4 141.8,424.8 143.0,425.8 C144.2,426.8 145.2,429.3 145.0,431.0 C144.8,432.7 143.1,435.2 141.5,436.0 C139.9,436.8 136.8,436.8 135.5,435.5 C134.2,434.2 133.2,429.8 133.5,428.0Z" fill="#a2a2a2" stroke="#333" stroke-width="0.5"/>
<path d="M136.5,429.0 C136.8,428.2 138.2,427.5 139.0,427.5 C139.8,427.5 140.8,428.2 141.0,429.0 C141.2,429.8 141.1,431.9 140.5,432.5 C139.9,433.1 138.2,433.1 137.5,432.5 C136.8,431.9 136.2,429.8 136.5,429.0Z" fill="#ededed" stroke="#666" stroke-width="0.4"/>
<path d="M139.5,439 C140.5,443 141.5,449 141,456" fill="none" stroke="#ececec" stroke-width="2.2"/>
<path d="M135.0,446.0 C135.4,444.7 137.7,443.8 139.0,444.0 C140.3,444.2 142.7,445.5 143.0,447.0 C143.3,448.5 142.1,452.2 141.0,453.0 C139.9,453.8 137.5,453.2 136.5,452.0 C135.5,450.8 134.6,447.3 135.0,446.0Z" fill="#d8d8d8" stroke="#555" stroke-width="0.4"/>
</g>
<line x1="128.50" y1="411.80" x2="128.50" y2="476.80" stroke="#4b5c8c" stroke-width="1.2"/>
<line x1="102.40" y1="455.20" x2="167.20" y2="455.20" stroke="#4b5c8c" stroke-width="1.2"/>
<rect x="102.40" y="411.80" width="64.80" height="65.00" fill="none" stroke="#2a2a2a" stroke-width="1.1"/>
<text x="30.36" y="418.80" font-size="5.6" fill="#555a66" stroke="#555a66" stroke-width="0.0" textLength="11.91" lengthAdjust="spacingAndGlyphs">4.26</text>
<text x="80.24" y="418.80" font-size="5.6" fill="#555a66" stroke="#555a66" stroke-width="0.0" textLength="13.05" lengthAdjust="spacingAndGlyphs">32.8</text>
<text x="30.00" y="475.60" font-size="5.6" fill="#555a66" stroke="#555a66" stroke-width="0.0" textLength="12.81" lengthAdjust="spacingAndGlyphs">10.9</text>
<text x="80.74" y="475.60" font-size="5.6" fill="#555a66" stroke="#555a66" stroke-width="0.0" textLength="12.57" lengthAdjust="spacingAndGlyphs">52.1</text>
<text x="103.70" y="418.40" font-size="5.6" fill="#555a66" stroke="#555a66" stroke-width="0.0" textLength="12.63" lengthAdjust="spacingAndGlyphs">9.22</text>
<text x="153.15" y="418.40" font-size="5.6" fill="#555a66" stroke="#555a66" stroke-width="0.0" textLength="13.13" lengthAdjust="spacingAndGlyphs">79.5</text>
<text x="103.57" y="475.20" font-size="5.6" fill="#555a66" stroke="#555a66" stroke-width="0.0" textLength="11.10" lengthAdjust="spacingAndGlyphs">1.44</text>
<text x="157.19" y="475.20" font-size="5.6" fill="#555a66" stroke="#555a66" stroke-width="0.0" textLength="9.09" lengthAdjust="spacingAndGlyphs">9.8</text>
<text x="48.99" y="406.50" font-size="10.0" fill="#231f20" stroke="#231f20" stroke-width="0.0" textLength="24.47" lengthAdjust="spacingAndGlyphs">CHIR</text>
<text x="120.41" y="406.50" font-size="10.0" fill="#231f20" stroke="#231f20" stroke-width="0.0" textLength="28.34" lengthAdjust="spacingAndGlyphs">FGFRi</text>
<text x="23.70" y="444.00" font-size="10.6" fill="#231f20" stroke="#231f20" stroke-width="0.0" text-anchor="middle" textLength="26.20" lengthAdjust="spacingAndGlyphs" transform="rotate(-90 23.70 444.00)">CD184</text>
<text x="34.68" y="488.80" font-size="10.6" fill="#231f20" stroke="#231f20" stroke-width="0.0" textLength="20.98" lengthAdjust="spacingAndGlyphs">CD73</text>
<line x1="62.50" y1="486.00" x2="161.30" y2="486.00" stroke="#231f20" stroke-width="1.2"/>
<path d="M167.80,486.00 L160.80,489.20 L162.00,486.00 L160.80,482.80 Z" fill="#231f20"/>
<rect x="221.50" y="456.50" width="14.30" height="17.10" fill="#6aaa3c" stroke="none" stroke-width="1"/>
<line x1="228.65" y1="455.50" x2="228.65" y2="456.50" stroke="#222" stroke-width="1.1"/>
<line x1="225.65" y1="455.50" x2="231.65" y2="455.50" stroke="#222" stroke-width="1.1"/>
<rect x="242.30" y="436.90" width="13.90" height="36.70" fill="#2b5192" stroke="none" stroke-width="1"/>
<line x1="249.25" y1="429.50" x2="249.25" y2="436.90" stroke="#222" stroke-width="1.1"/>
<line x1="246.25" y1="429.50" x2="252.25" y2="429.50" stroke="#222" stroke-width="1.1"/>
<rect x="263.00" y="472.30" width="14.00" height="1.30" fill="#ad1438" stroke="none" stroke-width="1"/>
<rect x="283.90" y="451.20" width="13.80" height="22.40" fill="#57287c" stroke="none" stroke-width="1"/>
<line x1="290.80" y1="444.30" x2="290.80" y2="451.20" stroke="#222" stroke-width="1.1"/>
<line x1="287.80" y1="444.30" x2="293.80" y2="444.30" stroke="#222" stroke-width="1.1"/>
<line x1="216.90" y1="416.60" x2="216.90" y2="474.20" stroke="#111" stroke-width="1.3"/>
<line x1="216.90" y1="473.60" x2="301.20" y2="473.60" stroke="#111" stroke-width="1.5"/>
<line x1="213.70" y1="473.60" x2="216.90" y2="473.60" stroke="#111" stroke-width="1.2"/>
<line x1="213.70" y1="455.40" x2="216.90" y2="455.40" stroke="#111" stroke-width="1.2"/>
<line x1="213.70" y1="436.90" x2="216.90" y2="436.90" stroke="#111" stroke-width="1.2"/>
<line x1="213.70" y1="418.50" x2="216.90" y2="418.50" stroke="#111" stroke-width="1.2"/>
<line x1="228.65" y1="473.60" x2="228.65" y2="476.20" stroke="#111" stroke-width="1.2"/>
<text x="233.2" y="484.2" font-size="7.6" text-anchor="end" fill="#231f20" stroke="#231f20" stroke-width="0.0" transform="rotate(-45 233.2 484.2)">DMSO</text>
<line x1="249.25" y1="473.60" x2="249.25" y2="476.20" stroke="#111" stroke-width="1.2"/>
<text x="253.8" y="484.2" font-size="7.6" text-anchor="end" fill="#231f20" stroke="#231f20" stroke-width="0.0" transform="rotate(-45 253.8 484.2)">CHIR</text>
<line x1="270.00" y1="473.60" x2="270.00" y2="476.20" stroke="#111" stroke-width="1.2"/>
<text x="274.6" y="484.2" font-size="7.6" text-anchor="end" fill="#231f20" stroke="#231f20" stroke-width="0.0" transform="rotate(-45 274.6 484.2)">IWP2</text>
<line x1="290.80" y1="473.60" x2="290.80" y2="476.20" stroke="#111" stroke-width="1.2"/>
<text x="295.4" y="484.2" font-size="7.6" text-anchor="end" fill="#231f20" stroke="#231f20" stroke-width="0.0" transform="rotate(-45 295.4 484.2)">FGFRi</text>
<text x="201.50" y="476.50" font-size="8.4" fill="#231f20" stroke="#231f20" stroke-width="0.0" textLength="11.31" lengthAdjust="spacingAndGlyphs">0.0</text>
<text x="201.50" y="458.30" font-size="8.4" fill="#231f20" stroke="#231f20" stroke-width="0.0" textLength="11.34" lengthAdjust="spacingAndGlyphs">0.5</text>
<text x="201.18" y="439.80" font-size="8.4" fill="#231f20" stroke="#231f20" stroke-width="0.0" textLength="11.64" lengthAdjust="spacingAndGlyphs">1.0</text>
<text x="201.18" y="421.40" font-size="8.4" fill="#231f20" stroke="#231f20" stroke-width="0.0" textLength="11.67" lengthAdjust="spacingAndGlyphs">1.5</text>
<text x="221.06" y="424.20" font-size="7.4" fill="#231f20" stroke="#231f20" stroke-width="0.0" font-style="italic" textLength="21.42" lengthAdjust="spacingAndGlyphs">CDX1</text>
<text x="228.6" y="455.6" font-size="8.6" text-anchor="middle" fill="#231f20" stroke="#231f20" stroke-width="0.3">*</text>
<text x="270.0" y="471.8" font-size="8.6" text-anchor="middle" fill="#231f20" stroke="#231f20" stroke-width="0.3">**</text>
<text x="285.26" y="439.70" font-size="7.2" fill="#231f20" stroke="#231f20" stroke-width="0.0" textLength="10.83" lengthAdjust="spacingAndGlyphs">n/s</text>
<rect x="328.20" y="459.50" width="13.30" height="14.30" fill="#6aaa3c" stroke="none" stroke-width="1"/>
<line x1="334.85" y1="455.40" x2="334.85" y2="459.50" stroke="#222" stroke-width="1.1"/>
<line x1="331.85" y1="455.40" x2="337.85" y2="455.40" stroke="#222" stroke-width="1.1"/>
<rect x="348.50" y="436.90" width="13.80" height="36.90" fill="#2b5192" stroke="none" stroke-width="1"/>
<line x1="355.40" y1="434.60" x2="355.40" y2="436.90" stroke="#222" stroke-width="1.1"/>
<line x1="352.40" y1="434.60" x2="358.40" y2="434.60" stroke="#222" stroke-width="1.1"/>
<rect x="368.80" y="472.00" width="14.30" height="1.80" fill="#ad1438" stroke="none" stroke-width="1"/>
<rect x="390.00" y="429.50" width="13.40" height="44.30" fill="#57287c" stroke="none" stroke-width="1"/>
<line x1="396.70" y1="428.80" x2="396.70" y2="429.50" stroke="#222" stroke-width="1.1"/>
<line x1="393.70" y1="428.80" x2="399.70" y2="428.80" stroke="#222" stroke-width="1.1"/>
<line x1="324.20" y1="416.60" x2="324.20" y2="474.40" stroke="#111" stroke-width="1.3"/>
<line x1="324.20" y1="473.80" x2="407.50" y2="473.80" stroke="#111" stroke-width="1.5"/>
<line x1="321.00" y1="473.80" x2="324.20" y2="473.80" stroke="#111" stroke-width="1.2"/>
<line x1="321.00" y1="455.80" x2="324.20" y2="455.80" stroke="#111" stroke-width="1.2"/>
<line x1="321.00" y1="437.40" x2="324.20" y2="437.40" stroke="#111" stroke-width="1.2"/>
<line x1="321.00" y1="418.90" x2="324.20" y2="418.90" stroke="#111" stroke-width="1.2"/>
<line x1="334.85" y1="473.80" x2="334.85" y2="476.40" stroke="#111" stroke-width="1.2"/>
<text x="339.5" y="484.4" font-size="7.6" text-anchor="end" fill="#231f20" stroke="#231f20" stroke-width="0.0" transform="rotate(-45 339.5 484.4)">DMSO</text>
<line x1="355.40" y1="473.80" x2="355.40" y2="476.40" stroke="#111" stroke-width="1.2"/>
<text x="360.0" y="484.4" font-size="7.6" text-anchor="end" fill="#231f20" stroke="#231f20" stroke-width="0.0" transform="rotate(-45 360.0 484.4)">CHIR</text>
<line x1="375.95" y1="473.80" x2="375.95" y2="476.40" stroke="#111" stroke-width="1.2"/>
<text x="380.6" y="484.4" font-size="7.6" text-anchor="end" fill="#231f20" stroke="#231f20" stroke-width="0.0" transform="rotate(-45 380.6 484.4)">IWP2</text>
<line x1="396.70" y1="473.80" x2="396.70" y2="476.40" stroke="#111" stroke-width="1.2"/>
<text x="401.3" y="484.4" font-size="7.6" text-anchor="end" fill="#231f20" stroke="#231f20" stroke-width="0.0" transform="rotate(-45 401.3 484.4)">FGFR</text>
<text x="307.90" y="476.70" font-size="8.4" fill="#231f20" stroke="#231f20" stroke-width="0.0" textLength="11.31" lengthAdjust="spacingAndGlyphs">0.0</text>
<text x="307.90" y="458.70" font-size="8.4" fill="#231f20" stroke="#231f20" stroke-width="0.0" textLength="11.34" lengthAdjust="spacingAndGlyphs">0.5</text>
<text x="307.58" y="440.30" font-size="8.4" fill="#231f20" stroke="#231f20" stroke-width="0.0" textLength="11.64" lengthAdjust="spacingAndGlyphs">1.0</text>
<text x="307.58" y="421.80" font-size="8.4" fill="#231f20" stroke="#231f20" stroke-width="0.0" textLength="11.67" lengthAdjust="spacingAndGlyphs">1.5</text>
<text x="327.77" y="425.40" font-size="7.4" fill="#231f20" stroke="#231f20" stroke-width="0.0" font-style="italic" textLength="20.85" lengthAdjust="spacingAndGlyphs">CDX2</text>
<text x="335.3" y="454.0" font-size="8.6" text-anchor="middle" fill="#231f20" stroke="#231f20" stroke-width="0.3">**</text>
<text x="376.7" y="471.3" font-size="8.6" text-anchor="middle" fill="#231f20" stroke="#231f20" stroke-width="0.3">**</text>
<text x="390.86" y="424.20" font-size="7.2" fill="#231f20" stroke="#231f20" stroke-width="0.0" textLength="10.83" lengthAdjust="spacingAndGlyphs">n/s</text>
<rect x="434.00" y="457.80" width="13.40" height="16.50" fill="#6aaa3c" stroke="none" stroke-width="1"/>
<line x1="440.70" y1="456.70" x2="440.70" y2="457.80" stroke="#222" stroke-width="1.1"/>
<line x1="437.70" y1="456.70" x2="443.70" y2="456.70" stroke="#222" stroke-width="1.1"/>
<rect x="454.50" y="438.50" width="13.30" height="35.80" fill="#2b5192" stroke="none" stroke-width="1"/>
<line x1="461.15" y1="432.50" x2="461.15" y2="438.50" stroke="#222" stroke-width="1.1"/>
<line x1="458.15" y1="432.50" x2="464.15" y2="432.50" stroke="#222" stroke-width="1.1"/>
<rect x="475.30" y="470.20" width="13.50" height="4.10" fill="#ad1438" stroke="none" stroke-width="1"/>
<rect x="495.60" y="465.30" width="13.90" height="9.00" fill="#57287c" stroke="none" stroke-width="1"/>
<line x1="502.55" y1="464.20" x2="502.55" y2="465.30" stroke="#222" stroke-width="1.1"/>
<line x1="499.55" y1="464.20" x2="505.55" y2="464.20" stroke="#222" stroke-width="1.1"/>
<line x1="430.80" y1="417.10" x2="430.80" y2="474.90" stroke="#111" stroke-width="1.3"/>
<line x1="430.80" y1="474.30" x2="512.70" y2="474.30" stroke="#111" stroke-width="1.5"/>
<line x1="427.60" y1="474.30" x2="430.80" y2="474.30" stroke="#111" stroke-width="1.2"/>
<line x1="427.60" y1="456.00" x2="430.80" y2="456.00" stroke="#111" stroke-width="1.2"/>
<line x1="427.60" y1="437.40" x2="430.80" y2="437.40" stroke="#111" stroke-width="1.2"/>
<line x1="427.60" y1="418.80" x2="430.80" y2="418.80" stroke="#111" stroke-width="1.2"/>
<line x1="440.70" y1="474.30" x2="440.70" y2="476.90" stroke="#111" stroke-width="1.2"/>
<text x="445.3" y="484.9" font-size="7.6" text-anchor="end" fill="#231f20" stroke="#231f20" stroke-width="0.0" transform="rotate(-45 445.3 484.9)">DMSO</text>
<line x1="461.15" y1="474.30" x2="461.15" y2="476.90" stroke="#111" stroke-width="1.2"/>
<text x="465.8" y="484.9" font-size="7.6" text-anchor="end" fill="#231f20" stroke="#231f20" stroke-width="0.0" transform="rotate(-45 465.8 484.9)">CHIR</text>
<line x1="482.05" y1="474.30" x2="482.05" y2="476.90" stroke="#111" stroke-width="1.2"/>
<text x="486.7" y="484.9" font-size="7.6" text-anchor="end" fill="#231f20" stroke="#231f20" stroke-width="0.0" transform="rotate(-45 486.7 484.9)">IWP2</text>
<line x1="502.55" y1="474.30" x2="502.55" y2="476.90" stroke="#111" stroke-width="1.2"/>
<text x="507.2" y="484.9" font-size="7.6" text-anchor="end" fill="#231f20" stroke="#231f20" stroke-width="0.0" transform="rotate(-45 507.2 484.9)">FGFRi</text>
<text x="412.90" y="477.20" font-size="8.4" fill="#231f20" stroke="#231f20" stroke-width="0.0" textLength="11.31" lengthAdjust="spacingAndGlyphs">0.0</text>
<text x="412.90" y="458.90" font-size="8.4" fill="#231f20" stroke="#231f20" stroke-width="0.0" textLength="11.34" lengthAdjust="spacingAndGlyphs">0.5</text>
<text x="412.58" y="440.30" font-size="8.4" fill="#231f20" stroke="#231f20" stroke-width="0.0" textLength="11.64" lengthAdjust="spacingAndGlyphs">1.0</text>
<text x="412.58" y="421.70" font-size="8.4" fill="#231f20" stroke="#231f20" stroke-width="0.0" textLength="11.67" lengthAdjust="spacingAndGlyphs">1.5</text>
<text x="433.57" y="425.70" font-size="7.4" fill="#231f20" stroke="#231f20" stroke-width="0.0" font-style="italic" textLength="20.62" lengthAdjust="spacingAndGlyphs">CDX4</text>
<text x="441.0" y="455.8" font-size="8.6" text-anchor="middle" fill="#231f20" stroke="#231f20" stroke-width="0.3">*</text>
<text x="482.0" y="468.6" font-size="8.6" text-anchor="middle" fill="#231f20" stroke="#231f20" stroke-width="0.3">**</text>
<text x="502.5" y="463.2" font-size="8.6" text-anchor="middle" fill="#231f20" stroke="#231f20" stroke-width="0.3">*</text>
<text x="196.60" y="445.40" font-size="9.6" fill="#231f20" stroke="#231f20" stroke-width="0.0" text-anchor="middle" textLength="60.60" lengthAdjust="spacingAndGlyphs" transform="rotate(-90 196.60 445.40)">Relative to CHIR</text>
</svg>
</body></html>
